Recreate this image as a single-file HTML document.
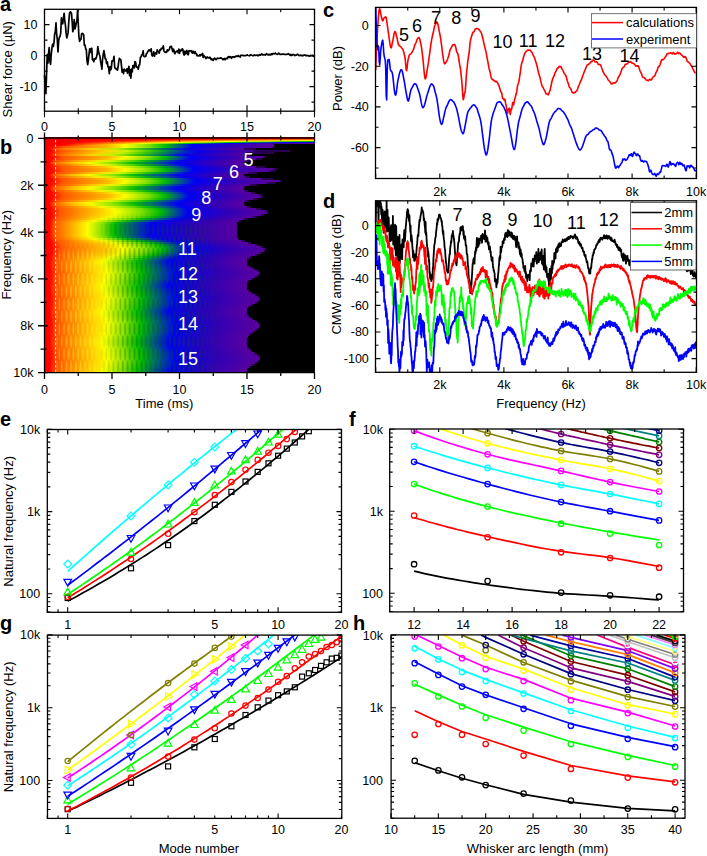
<!DOCTYPE html>
<html><head><meta charset="utf-8"><style>html,body{margin:0;padding:0;background:#fff;overflow:hidden}svg{display:block}text{font-family:"Liberation Sans",sans-serif}</style></head>
<body><svg width="707" height="856" viewBox="0 0 707 856" font-size="12">
<rect width="707" height="856" fill="#fff"/>
<path d="M44.5 117.2v-12M112 117.2v-12M179.5 117.2v-12M247 117.2v-12M314.5 117.2v-12M78.25 114.2v-6M145.75 114.2v-6M213.25 114.2v-6M280.75 114.2v-6M44.5 9.3v5M112 9.3v5M179.5 9.3v5M247 9.3v5M314.5 9.3v5M78.25 9.3v3M145.75 9.3v3M213.25 9.3v3M280.75 9.3v3M44.5 86.6h5M44.5 55.6h5M44.5 24.6h5M44.5 102.1h3M44.5 71.1h3M44.5 40.1h3M314.5 86.6h-5M314.5 55.6h-5M314.5 24.6h-5M314.5 102.1h-3M314.5 71.1h-3M314.5 40.1h-3" fill="none" stroke="#000" stroke-width="1.1"/>
<text x="37.5" y="29.08" font-size="12.5" text-anchor="end">10</text>
<text x="37.5" y="60.08" font-size="12.5" text-anchor="end">0</text>
<text x="37.5" y="91.07" font-size="12.5" text-anchor="end">-10</text>
<text x="44.5" y="131.47" font-size="12.5" text-anchor="middle">0</text>
<text x="112" y="131.47" font-size="12.5" text-anchor="middle">5</text>
<text x="179.5" y="131.47" font-size="12.5" text-anchor="middle">10</text>
<text x="247" y="131.47" font-size="12.5" text-anchor="middle">15</text>
<text x="314.5" y="131.47" font-size="12.5" text-anchor="middle">20</text>
<text x="12" y="69.3" font-size="13" text-anchor="middle" transform="rotate(-90 12 69.3)">Shear force (µN)</text>
<text x="0" y="11" font-size="20" font-weight="bold">a</text>
<path d="M44.5 75.1L45.2 86.3 45.9 93.6 46.5 75.6 47.2 54.5 47.9 63.2 48.5 53.9 49.2 47.6 49.9 61.5 50.6 64.3 51.2 54.6 51.9 48.7 52.6 44.2 53.3 46.5 54.0 42.7 54.6 34.6 55.3 31.7 56.0 22.9 56.6 33.3 57.3 39.4 58.0 51.9 58.7 40.5 59.4 37.1 60.0 36.7 60.7 33.1 61.4 17.8 62.0 22.6 62.7 23.8 63.4 18.0 64.1 13.3 64.8 20.8 65.4 24.8 66.1 32.9 66.8 38.0 67.5 35.2 68.1 32.4 68.8 21.6 69.5 13.1 70.2 11.8 70.8 12.2 71.5 13.4 72.2 22.3 72.8 31.7 73.5 28.7 74.2 19.6 74.9 28.9 75.6 26.4 76.2 23.5 76.9 20.7 77.6 10.3 78.2 22.2 78.9 36.5 79.6 41.5 80.3 39.6 81.0 39.2 81.6 33.9 82.3 33.4 83.0 33.7 83.7 35.2 84.3 45.2 85.0 44.8 85.7 49.0 86.3 49.5 87.0 60.5 87.7 64.6 88.4 59.9 89.1 53.1 89.7 48.8 90.4 52.4 91.1 48.8 91.8 48.3 92.4 59.8 93.1 59.0 93.8 61.7 94.5 59.0 95.1 58.4 95.8 59.0 96.5 56.7 97.2 54.0 97.8 46.5 98.5 51.1 99.2 54.3 99.9 56.0 100.5 60.9 101.2 64.8 101.9 69.1 102.5 59.7 103.2 54.7 103.9 50.7 104.6 54.5 105.2 58.8 105.9 58.8 106.6 63.7 107.3 61.8 108.0 66.8 108.6 67.2 109.3 73.7 110.0 66.5 110.7 69.9 111.3 68.4 112.0 60.9 112.7 61.1 113.4 60.2 114.0 56.4 114.7 67.3 115.4 68.7 116.1 68.3 116.7 69.5 117.4 70.2 118.1 67.0 118.8 61.2 119.4 58.4 120.1 59.5 120.8 59.5 121.5 65.9 122.1 72.2 122.8 69.5 123.5 73.6 124.2 69.1 124.8 70.6 125.5 70.1 126.2 71.2 126.9 68.9 127.5 73.2 128.2 69.7 128.9 66.4 129.6 75.6 130.2 69.5 130.9 78.1 131.6 69.2 132.2 71.9 132.9 65.5 133.6 65.5 134.3 68.0 134.9 61.6 135.6 62.1 136.3 66.6 137.0 67.3 137.7 67.2 138.3 69.2 139.0 65.0 139.7 64.7 140.4 57.3 141.0 57.0 141.7 55.0 142.4 54.6 143.1 50.8 143.7 56.1 144.4 56.6 145.1 56.6 145.8 56.2 146.4 53.7 147.1 53.2 147.8 51.2 148.4 50.9 149.1 49.8 149.8 50.8 150.5 51.2 151.2 48.8 151.8 54.9 152.5 56.1 153.2 54.2 153.8 51.9 154.5 56.2 155.2 53.1 155.9 52.9 156.6 54.1 157.2 49.9 157.9 51.5 158.6 51.5 159.2 53.2 159.9 49.8 160.6 50.2 161.3 48.3 162.0 48.6 162.6 48.2 163.3 45.9 164.0 51.2 164.7 52.0 165.3 52.1 166.0 52.4 166.7 52.1 167.3 49.8 168.0 50.9 168.7 50.3 169.4 49.2 170.1 46.6 170.7 46.7 171.4 46.4 172.1 49.0 172.8 51.7 173.4 49.2 174.1 50.5 174.8 53.7 175.5 52.6 176.1 51.8 176.8 51.3 177.5 50.8 178.2 52.7 178.8 49.1 179.5 53.3 180.2 50.0 180.9 50.8 181.5 50.3 182.2 48.8 182.9 49.6 183.6 54.0 184.2 55.1 184.9 51.2 185.6 53.9 186.2 52.1 186.9 50.5 187.6 54.2 188.3 54.7 189.0 50.7 189.6 50.8 190.3 51.0 191.0 50.6 191.7 52.1 192.3 53.2 193.0 51.1 193.7 52.4 194.4 53.6 195.0 51.5 195.7 53.4 196.4 53.8 197.1 55.8 197.7 55.4 198.4 55.9 199.1 55.8 199.8 54.6 200.4 55.8 201.1 54.6 201.8 54.9 202.5 53.4 203.1 57.4 203.8 55.3 204.5 56.6 205.2 56.9 205.8 58.5 206.5 57.9 207.2 56.9 207.9 57.8 208.5 57.7 209.2 58.1 209.9 57.2 210.6 58.2 211.2 59.7 211.9 58.8 212.6 59.7 213.2 60.4 213.9 59.0 214.6 58.1 215.3 58.9 216.0 59.7 216.6 59.4 217.3 58.1 218.0 58.5 218.7 58.4 219.3 58.3 220.0 58.1 220.7 57.8 221.4 58.2 222.0 58.6 222.7 59.5 223.4 58.8 224.1 59.7 224.7 58.5 225.4 59.5 226.1 58.6 226.8 58.2 227.4 58.7 228.1 56.8 228.8 56.6 229.5 57.4 230.1 56.7 230.8 56.8 231.5 58.3 232.2 56.8 232.8 56.9 233.5 56.7 234.2 57.3 234.9 56.8 235.5 56.7 236.2 55.9 236.9 56.3 237.6 56.4 238.2 55.5 238.9 56.5 239.6 56.3 240.2 57.0 240.9 55.2 241.6 55.4 242.3 55.4 243.0 55.4 243.6 55.6 244.3 55.5 245.0 55.7 245.7 55.7 246.3 55.5 247.0 54.8 247.7 55.2 248.4 55.5 249.0 55.7 249.7 55.7 250.4 54.6 251.1 55.1 251.7 55.3 252.4 55.5 253.1 55.8 253.8 55.3 254.4 54.8 255.1 55.4 255.8 55.3 256.5 55.2 257.1 55.0 257.8 55.8 258.5 55.1 259.1 55.3 259.8 54.5 260.5 55.2 261.2 54.5 261.9 54.0 262.5 54.9 263.2 55.0 263.9 54.6 264.6 54.6 265.2 55.1 265.9 54.4 266.6 53.6 267.2 54.6 267.9 54.6 268.6 54.9 269.3 54.3 269.9 55.0 270.6 54.9 271.3 53.8 272.0 54.7 272.7 53.7 273.3 53.4 274.0 53.9 274.7 53.7 275.4 53.0 276.0 53.9 276.7 54.0 277.4 54.4 278.1 53.8 278.7 53.2 279.4 53.5 280.1 54.4 280.8 54.4 281.4 54.3 282.1 54.0 282.8 54.3 283.4 54.2 284.1 54.2 284.8 54.5 285.5 54.4 286.2 54.3 286.8 54.5 287.5 54.3 288.2 53.7 288.9 54.3 289.5 54.6 290.2 55.3 290.9 54.5 291.6 55.5 292.2 55.3 292.9 54.4 293.6 54.5 294.2 54.9 294.9 55.6 295.6 55.1 296.3 55.2 296.9 54.7 297.6 54.1 298.3 55.0 299.0 55.4 299.7 55.6 300.3 55.2 301.0 55.3 301.7 55.7 302.4 55.3 303.0 55.8 303.7 55.0 304.4 55.1 305.1 55.1 305.7 55.7 306.4 55.4 307.1 55.7 307.8 55.7 308.4 55.7 309.1 56.1 309.8 56.1 310.5 55.3 311.1 55.7 311.8 55.5 312.5 55.2 313.2 56.2 313.8 55.9 314.5 55.5" fill="none" stroke="#000" stroke-width="1.7" stroke-linejoin="round"/>
<rect x="44.5" y="9.3" width="270" height="101.9" fill="none" stroke="#000" stroke-width="1.3"/>
<defs><linearGradient id="s0"><stop offset="0.000" stop-color="#bb0000"/><stop offset="1.000" stop-color="#d80000"/></linearGradient><linearGradient id="s1"><stop offset="0.000" stop-color="#ee0000"/><stop offset="0.478" stop-color="#ff0600"/><stop offset="1.000" stop-color="#ff6a00"/></linearGradient><linearGradient id="s2"><stop offset="0.000" stop-color="#ee0000"/><stop offset="0.271" stop-color="#ff0500"/><stop offset="1.000" stop-color="#fff700"/></linearGradient><linearGradient id="s3"><stop offset="0.000" stop-color="#ef0000"/><stop offset="0.179" stop-color="#ff0600"/><stop offset="0.677" stop-color="#fbfe00"/><stop offset="0.843" stop-color="#81e000"/><stop offset="0.976" stop-color="#00bc03"/><stop offset="1.000" stop-color="#00ac19"/></linearGradient><linearGradient id="s4"><stop offset="0.000" stop-color="#ef0000"/><stop offset="0.127" stop-color="#ff0500"/><stop offset="0.485" stop-color="#fafe00"/><stop offset="0.603" stop-color="#82e100"/><stop offset="0.699" stop-color="#00bb04"/><stop offset="0.858" stop-color="#001fd0"/><stop offset="0.891" stop-color="#0100f4"/><stop offset="1.000" stop-color="#1b00cf"/></linearGradient><linearGradient id="s5"><stop offset="0.000" stop-color="#ef0000"/><stop offset="0.098" stop-color="#ff0600"/><stop offset="0.367" stop-color="#fcfe00"/><stop offset="0.459" stop-color="#7fe000"/><stop offset="0.530" stop-color="#00bd01"/><stop offset="0.651" stop-color="#001fd0"/><stop offset="0.677" stop-color="#0100f4"/><stop offset="0.828" stop-color="#3100b7"/><stop offset="0.939" stop-color="#4d00a3"/><stop offset="1.000" stop-color="#5700a0"/></linearGradient><linearGradient id="s6"><stop offset="0.000" stop-color="#ef0000"/><stop offset="0.076" stop-color="#ff0400"/><stop offset="0.220" stop-color="#ffa700"/><stop offset="0.301" stop-color="#fcfe00"/><stop offset="0.386" stop-color="#7ee000"/><stop offset="0.448" stop-color="#00be00"/><stop offset="0.533" stop-color="#001cd3"/><stop offset="0.548" stop-color="#0000f5"/><stop offset="0.696" stop-color="#3100b7"/><stop offset="0.803" stop-color="#4f00a2"/><stop offset="0.847" stop-color="#5800a0"/><stop offset="0.851" stop-color="#000000"/><stop offset="1.000" stop-color="#000000"/></linearGradient><linearGradient id="s7"><stop offset="0.000" stop-color="#ef0000"/><stop offset="0.061" stop-color="#ff0300"/><stop offset="0.153" stop-color="#ff8300"/><stop offset="0.234" stop-color="#ffb600"/><stop offset="0.301" stop-color="#fcfe00"/><stop offset="0.386" stop-color="#7ee000"/><stop offset="0.448" stop-color="#00be00"/><stop offset="0.533" stop-color="#001cd3"/><stop offset="0.548" stop-color="#0000f5"/><stop offset="0.696" stop-color="#3100b7"/><stop offset="0.803" stop-color="#4f00a2"/><stop offset="0.847" stop-color="#5800a0"/><stop offset="0.851" stop-color="#000000"/><stop offset="1.000" stop-color="#000000"/></linearGradient><linearGradient id="s8"><stop offset="0.000" stop-color="#f70000"/><stop offset="0.028" stop-color="#ff0500"/><stop offset="0.072" stop-color="#ff5700"/><stop offset="0.234" stop-color="#ffb600"/><stop offset="0.301" stop-color="#fcfe00"/><stop offset="0.386" stop-color="#7ee000"/><stop offset="0.448" stop-color="#00be00"/><stop offset="0.533" stop-color="#001cd3"/><stop offset="0.548" stop-color="#0000f5"/><stop offset="0.696" stop-color="#3100b7"/><stop offset="0.803" stop-color="#4f00a2"/><stop offset="0.847" stop-color="#5800a0"/><stop offset="0.851" stop-color="#000000"/><stop offset="1.000" stop-color="#000000"/></linearGradient><linearGradient id="s9"><stop offset="0.000" stop-color="#f70000"/><stop offset="0.028" stop-color="#ff0500"/><stop offset="0.072" stop-color="#ff5700"/><stop offset="0.234" stop-color="#ffb600"/><stop offset="0.301" stop-color="#fcfe00"/><stop offset="0.386" stop-color="#7ee000"/><stop offset="0.448" stop-color="#00be00"/><stop offset="0.533" stop-color="#001cd3"/><stop offset="0.548" stop-color="#0000f5"/><stop offset="0.696" stop-color="#3200b7"/><stop offset="0.803" stop-color="#4f00a2"/><stop offset="0.843" stop-color="#5700a0"/><stop offset="0.847" stop-color="#000000"/><stop offset="1.000" stop-color="#000000"/></linearGradient><linearGradient id="s10"><stop offset="0.000" stop-color="#f70000"/><stop offset="0.020" stop-color="#fe0000"/><stop offset="0.039" stop-color="#ff3f00"/><stop offset="0.072" stop-color="#ff7700"/><stop offset="0.175" stop-color="#f9ce00"/><stop offset="0.268" stop-color="#b7ed00"/><stop offset="0.334" stop-color="#51d103"/><stop offset="0.423" stop-color="#00844e"/><stop offset="0.496" stop-color="#011fce"/><stop offset="0.537" stop-color="#0900e8"/><stop offset="0.673" stop-color="#3f00ab"/><stop offset="0.736" stop-color="#5200a2"/><stop offset="0.740" stop-color="#270051"/><stop offset="0.780" stop-color="#2c0050"/><stop offset="0.784" stop-color="#000000"/><stop offset="1.000" stop-color="#000000"/></linearGradient><linearGradient id="s11"><stop offset="0.000" stop-color="#f70000"/><stop offset="0.024" stop-color="#ff0200"/><stop offset="0.057" stop-color="#ff4c00"/><stop offset="0.109" stop-color="#ff7700"/><stop offset="0.242" stop-color="#fadd00"/><stop offset="0.308" stop-color="#c6f200"/><stop offset="0.397" stop-color="#34c706"/><stop offset="0.452" stop-color="#00913e"/><stop offset="0.533" stop-color="#011bd3"/><stop offset="0.570" stop-color="#0900e8"/><stop offset="0.718" stop-color="#3d00ae"/><stop offset="0.769" stop-color="#4b00a6"/><stop offset="0.773" stop-color="#200055"/><stop offset="0.906" stop-color="#2c0050"/><stop offset="0.910" stop-color="#000000"/><stop offset="1.000" stop-color="#000000"/></linearGradient><linearGradient id="s12"><stop offset="0.000" stop-color="#f70000"/><stop offset="0.024" stop-color="#ff0500"/><stop offset="0.050" stop-color="#ff4800"/><stop offset="0.083" stop-color="#ff6f00"/><stop offset="0.208" stop-color="#fad200"/><stop offset="0.290" stop-color="#c0f000"/><stop offset="0.367" stop-color="#46cd06"/><stop offset="0.441" stop-color="#008948"/><stop offset="0.515" stop-color="#0123c9"/><stop offset="0.566" stop-color="#0c00e3"/><stop offset="0.699" stop-color="#3f00ad"/><stop offset="0.747" stop-color="#4e00a3"/><stop offset="0.751" stop-color="#230053"/><stop offset="0.847" stop-color="#2c0050"/><stop offset="0.851" stop-color="#000000"/><stop offset="1.000" stop-color="#000000"/></linearGradient><linearGradient id="s13"><stop offset="0.000" stop-color="#f70000"/><stop offset="0.020" stop-color="#fe0000"/><stop offset="0.039" stop-color="#ff4200"/><stop offset="0.068" stop-color="#ff7500"/><stop offset="0.175" stop-color="#f9d500"/><stop offset="0.253" stop-color="#c3f000"/><stop offset="0.338" stop-color="#3fca07"/><stop offset="0.408" stop-color="#008c44"/><stop offset="0.493" stop-color="#0017d8"/><stop offset="0.526" stop-color="#0800ea"/><stop offset="0.655" stop-color="#3b00ae"/><stop offset="0.736" stop-color="#5500a1"/><stop offset="0.740" stop-color="#290051"/><stop offset="0.758" stop-color="#2c0050"/><stop offset="0.762" stop-color="#000000"/><stop offset="1.000" stop-color="#000000"/></linearGradient><linearGradient id="s14"><stop offset="0.000" stop-color="#f70000"/><stop offset="0.028" stop-color="#ff0500"/><stop offset="0.072" stop-color="#ff5700"/><stop offset="0.234" stop-color="#ffb700"/><stop offset="0.301" stop-color="#fbfe00"/><stop offset="0.382" stop-color="#84e100"/><stop offset="0.448" stop-color="#00bc02"/><stop offset="0.526" stop-color="#001dd1"/><stop offset="0.541" stop-color="#0000f5"/><stop offset="0.681" stop-color="#3200b6"/><stop offset="0.784" stop-color="#5100a2"/><stop offset="0.810" stop-color="#5700a0"/><stop offset="0.814" stop-color="#2b0050"/><stop offset="0.817" stop-color="#2c0050"/><stop offset="0.821" stop-color="#000000"/><stop offset="1.000" stop-color="#000000"/></linearGradient><linearGradient id="s15"><stop offset="0.000" stop-color="#f70000"/><stop offset="0.028" stop-color="#ff0700"/><stop offset="0.068" stop-color="#ff5700"/><stop offset="0.223" stop-color="#ffb900"/><stop offset="0.282" stop-color="#faf700"/><stop offset="0.327" stop-color="#c5f100"/><stop offset="0.382" stop-color="#6bdb00"/><stop offset="0.430" stop-color="#0fbf04"/><stop offset="0.448" stop-color="#00a720"/><stop offset="0.530" stop-color="#000be7"/><stop offset="0.544" stop-color="#0400f0"/><stop offset="0.673" stop-color="#3500b3"/><stop offset="0.777" stop-color="#5400a1"/><stop offset="0.780" stop-color="#290051"/><stop offset="0.803" stop-color="#2c0050"/><stop offset="0.806" stop-color="#000000"/><stop offset="1.000" stop-color="#000000"/></linearGradient><linearGradient id="s16"><stop offset="0.000" stop-color="#f70000"/><stop offset="0.020" stop-color="#fe0000"/><stop offset="0.046" stop-color="#ff4e00"/><stop offset="0.109" stop-color="#ff9300"/><stop offset="0.201" stop-color="#f9ea00"/><stop offset="0.245" stop-color="#d6f500"/><stop offset="0.327" stop-color="#58d500"/><stop offset="0.360" stop-color="#20c206"/><stop offset="0.397" stop-color="#009f2b"/><stop offset="0.500" stop-color="#000de5"/><stop offset="0.522" stop-color="#0500ed"/><stop offset="0.640" stop-color="#3500b3"/><stop offset="0.740" stop-color="#5600a1"/><stop offset="0.744" stop-color="#2a0050"/><stop offset="0.755" stop-color="#2c0050"/><stop offset="0.758" stop-color="#000000"/><stop offset="1.000" stop-color="#000000"/></linearGradient><linearGradient id="s17"><stop offset="0.000" stop-color="#f70000"/><stop offset="0.020" stop-color="#ff0100"/><stop offset="0.035" stop-color="#ff5700"/><stop offset="0.094" stop-color="#ffb500"/><stop offset="0.168" stop-color="#f9fe00"/><stop offset="0.256" stop-color="#81e000"/><stop offset="0.330" stop-color="#00ba05"/><stop offset="0.463" stop-color="#001fcf"/><stop offset="0.493" stop-color="#0100f3"/><stop offset="0.618" stop-color="#3100b7"/><stop offset="0.714" stop-color="#5100a2"/><stop offset="0.736" stop-color="#5800a0"/><stop offset="0.740" stop-color="#000000"/><stop offset="1.000" stop-color="#000000"/></linearGradient><linearGradient id="s18"><stop offset="0.000" stop-color="#f70000"/><stop offset="0.020" stop-color="#fe0000"/><stop offset="0.046" stop-color="#ff5300"/><stop offset="0.197" stop-color="#f9ee00"/><stop offset="0.238" stop-color="#d6f500"/><stop offset="0.312" stop-color="#66d900"/><stop offset="0.356" stop-color="#19c106"/><stop offset="0.389" stop-color="#00a029"/><stop offset="0.504" stop-color="#000ae8"/><stop offset="0.526" stop-color="#0600ec"/><stop offset="0.644" stop-color="#3600b2"/><stop offset="0.740" stop-color="#5500a1"/><stop offset="0.744" stop-color="#2a0050"/><stop offset="0.755" stop-color="#2c0050"/><stop offset="0.758" stop-color="#000000"/><stop offset="1.000" stop-color="#000000"/></linearGradient><linearGradient id="s19"><stop offset="0.000" stop-color="#f70000"/><stop offset="0.024" stop-color="#ff0100"/><stop offset="0.065" stop-color="#ff5600"/><stop offset="0.212" stop-color="#ffba00"/><stop offset="0.268" stop-color="#faf400"/><stop offset="0.301" stop-color="#d9f600"/><stop offset="0.367" stop-color="#73dd00"/><stop offset="0.419" stop-color="#12bf05"/><stop offset="0.445" stop-color="#009f2a"/><stop offset="0.533" stop-color="#000de6"/><stop offset="0.552" stop-color="#0400ef"/><stop offset="0.677" stop-color="#3600b3"/><stop offset="0.780" stop-color="#5400a1"/><stop offset="0.784" stop-color="#290051"/><stop offset="0.814" stop-color="#2c0050"/><stop offset="0.817" stop-color="#000000"/><stop offset="1.000" stop-color="#000000"/></linearGradient><linearGradient id="s20"><stop offset="0.000" stop-color="#f70000"/><stop offset="0.028" stop-color="#ff0500"/><stop offset="0.072" stop-color="#ff5700"/><stop offset="0.231" stop-color="#ffb300"/><stop offset="0.301" stop-color="#fbfe00"/><stop offset="0.382" stop-color="#83e100"/><stop offset="0.448" stop-color="#00bc03"/><stop offset="0.533" stop-color="#0022cc"/><stop offset="0.552" stop-color="#0001f4"/><stop offset="0.703" stop-color="#3300b5"/><stop offset="0.814" stop-color="#5100a2"/><stop offset="0.843" stop-color="#5600a0"/><stop offset="0.847" stop-color="#2b0050"/><stop offset="0.858" stop-color="#2c0050"/><stop offset="0.862" stop-color="#000000"/><stop offset="1.000" stop-color="#000000"/></linearGradient><linearGradient id="s21"><stop offset="0.000" stop-color="#f70000"/><stop offset="0.028" stop-color="#ff0600"/><stop offset="0.072" stop-color="#ff5700"/><stop offset="0.231" stop-color="#ffb500"/><stop offset="0.297" stop-color="#fcfd00"/><stop offset="0.382" stop-color="#7fe000"/><stop offset="0.445" stop-color="#04bd03"/><stop offset="0.548" stop-color="#0005ef"/><stop offset="0.581" stop-color="#0b00e6"/><stop offset="0.710" stop-color="#3800b1"/><stop offset="0.828" stop-color="#5500a1"/><stop offset="0.832" stop-color="#2a0051"/><stop offset="0.854" stop-color="#2c0050"/><stop offset="0.858" stop-color="#000000"/><stop offset="1.000" stop-color="#000000"/></linearGradient><linearGradient id="s22"><stop offset="0.000" stop-color="#f70000"/><stop offset="0.024" stop-color="#ff0300"/><stop offset="0.054" stop-color="#ff5000"/><stop offset="0.227" stop-color="#fae800"/><stop offset="0.275" stop-color="#d3f500"/><stop offset="0.356" stop-color="#51d400"/><stop offset="0.386" stop-color="#20c108"/><stop offset="0.423" stop-color="#009c2f"/><stop offset="0.518" stop-color="#010fe2"/><stop offset="0.541" stop-color="#0600ed"/><stop offset="0.666" stop-color="#3900b0"/><stop offset="0.751" stop-color="#5300a1"/><stop offset="0.755" stop-color="#280051"/><stop offset="0.784" stop-color="#2c0050"/><stop offset="0.788" stop-color="#000000"/><stop offset="1.000" stop-color="#000000"/></linearGradient><linearGradient id="s23"><stop offset="0.000" stop-color="#f70000"/><stop offset="0.020" stop-color="#ff0100"/><stop offset="0.035" stop-color="#ff5200"/><stop offset="0.094" stop-color="#ffb100"/><stop offset="0.168" stop-color="#fafa00"/><stop offset="0.260" stop-color="#82e100"/><stop offset="0.330" stop-color="#07bc05"/><stop offset="0.423" stop-color="#005292"/><stop offset="0.493" stop-color="#0102f2"/><stop offset="0.633" stop-color="#3600b2"/><stop offset="0.729" stop-color="#5500a1"/><stop offset="0.736" stop-color="#5700a0"/><stop offset="0.740" stop-color="#000000"/><stop offset="1.000" stop-color="#000000"/></linearGradient><linearGradient id="s24"><stop offset="0.000" stop-color="#f70000"/><stop offset="0.020" stop-color="#ff0000"/><stop offset="0.042" stop-color="#ff4b00"/><stop offset="0.072" stop-color="#ff7400"/><stop offset="0.190" stop-color="#fae900"/><stop offset="0.238" stop-color="#d5f500"/><stop offset="0.315" stop-color="#5dd700"/><stop offset="0.352" stop-color="#1fc207"/><stop offset="0.393" stop-color="#009b30"/><stop offset="0.500" stop-color="#000fe2"/><stop offset="0.526" stop-color="#0600ec"/><stop offset="0.648" stop-color="#3800b1"/><stop offset="0.740" stop-color="#5500a1"/><stop offset="0.744" stop-color="#2a0051"/><stop offset="0.758" stop-color="#2c0050"/><stop offset="0.762" stop-color="#000000"/><stop offset="1.000" stop-color="#000000"/></linearGradient><linearGradient id="s25"><stop offset="0.000" stop-color="#f70000"/><stop offset="0.024" stop-color="#ff0000"/><stop offset="0.068" stop-color="#ff5700"/><stop offset="0.220" stop-color="#ffb800"/><stop offset="0.279" stop-color="#f9f500"/><stop offset="0.308" stop-color="#dbf600"/><stop offset="0.375" stop-color="#75dd00"/><stop offset="0.426" stop-color="#11c003"/><stop offset="0.452" stop-color="#00a02a"/><stop offset="0.544" stop-color="#0009ea"/><stop offset="0.563" stop-color="#0500ed"/><stop offset="0.696" stop-color="#3800b1"/><stop offset="0.799" stop-color="#5400a1"/><stop offset="0.803" stop-color="#280051"/><stop offset="0.843" stop-color="#2c0050"/><stop offset="0.847" stop-color="#000000"/><stop offset="1.000" stop-color="#000000"/></linearGradient><linearGradient id="s26"><stop offset="0.000" stop-color="#f70000"/><stop offset="0.028" stop-color="#ff0500"/><stop offset="0.072" stop-color="#ff5700"/><stop offset="0.234" stop-color="#ffb600"/><stop offset="0.301" stop-color="#fcfe00"/><stop offset="0.382" stop-color="#85e200"/><stop offset="0.448" stop-color="#00be00"/><stop offset="0.541" stop-color="#001dd2"/><stop offset="0.559" stop-color="#0100f4"/><stop offset="0.710" stop-color="#3200b6"/><stop offset="0.817" stop-color="#4e00a3"/><stop offset="0.869" stop-color="#5700a0"/><stop offset="0.876" stop-color="#000000"/><stop offset="1.000" stop-color="#000000"/></linearGradient><linearGradient id="s27"><stop offset="0.000" stop-color="#f70000"/><stop offset="0.028" stop-color="#ff0600"/><stop offset="0.068" stop-color="#ff5600"/><stop offset="0.227" stop-color="#ffb700"/><stop offset="0.293" stop-color="#f9fc00"/><stop offset="0.375" stop-color="#85e100"/><stop offset="0.441" stop-color="#05bb06"/><stop offset="0.552" stop-color="#0004f0"/><stop offset="0.725" stop-color="#3e00ac"/><stop offset="0.821" stop-color="#5500a1"/><stop offset="0.825" stop-color="#290051"/><stop offset="0.854" stop-color="#2c0050"/><stop offset="0.858" stop-color="#000000"/><stop offset="1.000" stop-color="#000000"/></linearGradient><linearGradient id="s28"><stop offset="0.000" stop-color="#f70000"/><stop offset="0.024" stop-color="#ff0300"/><stop offset="0.054" stop-color="#ff5000"/><stop offset="0.208" stop-color="#ffda00"/><stop offset="0.242" stop-color="#f3f200"/><stop offset="0.275" stop-color="#d3f400"/><stop offset="0.345" stop-color="#65d900"/><stop offset="0.389" stop-color="#18bf08"/><stop offset="0.419" stop-color="#00a029"/><stop offset="0.522" stop-color="#000ce6"/><stop offset="0.544" stop-color="#0600ec"/><stop offset="0.666" stop-color="#3800b1"/><stop offset="0.758" stop-color="#5500a1"/><stop offset="0.762" stop-color="#290051"/><stop offset="0.784" stop-color="#2c0050"/><stop offset="0.788" stop-color="#000000"/><stop offset="1.000" stop-color="#000000"/></linearGradient><linearGradient id="s29"><stop offset="0.000" stop-color="#f70000"/><stop offset="0.020" stop-color="#ff0100"/><stop offset="0.039" stop-color="#ff5600"/><stop offset="0.109" stop-color="#ffb800"/><stop offset="0.172" stop-color="#faf500"/><stop offset="0.208" stop-color="#d4f500"/><stop offset="0.275" stop-color="#74dd00"/><stop offset="0.334" stop-color="#0dbe05"/><stop offset="0.360" stop-color="#00a424"/><stop offset="0.489" stop-color="#0009eb"/><stop offset="0.511" stop-color="#0600ed"/><stop offset="0.629" stop-color="#3400b4"/><stop offset="0.725" stop-color="#5400a1"/><stop offset="0.736" stop-color="#5700a0"/><stop offset="0.744" stop-color="#000000"/><stop offset="1.000" stop-color="#000000"/></linearGradient><linearGradient id="s30"><stop offset="0.000" stop-color="#f70000"/><stop offset="0.020" stop-color="#ff0100"/><stop offset="0.035" stop-color="#ff5000"/><stop offset="0.098" stop-color="#ffb300"/><stop offset="0.168" stop-color="#fbf900"/><stop offset="0.260" stop-color="#84e100"/><stop offset="0.330" stop-color="#08bd04"/><stop offset="0.371" stop-color="#00903f"/><stop offset="0.489" stop-color="#0003f1"/><stop offset="0.644" stop-color="#3b00af"/><stop offset="0.736" stop-color="#5800a0"/><stop offset="0.740" stop-color="#000000"/><stop offset="1.000" stop-color="#000000"/></linearGradient><linearGradient id="s31"><stop offset="0.000" stop-color="#f70000"/><stop offset="0.024" stop-color="#ff0600"/><stop offset="0.050" stop-color="#ff5400"/><stop offset="0.212" stop-color="#faf100"/><stop offset="0.249" stop-color="#d8f600"/><stop offset="0.319" stop-color="#70dc00"/><stop offset="0.371" stop-color="#14be07"/><stop offset="0.400" stop-color="#009e2b"/><stop offset="0.504" stop-color="#0008eb"/><stop offset="0.522" stop-color="#0500ed"/><stop offset="0.640" stop-color="#3500b3"/><stop offset="0.736" stop-color="#5500a1"/><stop offset="0.740" stop-color="#5600a1"/><stop offset="0.744" stop-color="#2b0050"/><stop offset="0.751" stop-color="#2c0050"/><stop offset="0.755" stop-color="#000000"/><stop offset="1.000" stop-color="#000000"/></linearGradient><linearGradient id="s32"><stop offset="0.000" stop-color="#f70000"/><stop offset="0.024" stop-color="#ff0000"/><stop offset="0.065" stop-color="#ff5600"/><stop offset="0.212" stop-color="#ffb900"/><stop offset="0.271" stop-color="#faf600"/><stop offset="0.308" stop-color="#d1f400"/><stop offset="0.367" stop-color="#75dd00"/><stop offset="0.423" stop-color="#0dbd06"/><stop offset="0.441" stop-color="#00a424"/><stop offset="0.522" stop-color="#000be8"/><stop offset="0.537" stop-color="#0400f0"/><stop offset="0.659" stop-color="#3400b4"/><stop offset="0.758" stop-color="#5400a1"/><stop offset="0.762" stop-color="#5500a1"/><stop offset="0.766" stop-color="#2a0050"/><stop offset="0.777" stop-color="#2c0050"/><stop offset="0.780" stop-color="#000000"/><stop offset="1.000" stop-color="#000000"/></linearGradient><linearGradient id="s33"><stop offset="0.000" stop-color="#f70000"/><stop offset="0.028" stop-color="#ff0600"/><stop offset="0.072" stop-color="#ff5700"/><stop offset="0.231" stop-color="#ffb400"/><stop offset="0.301" stop-color="#fafe00"/><stop offset="0.382" stop-color="#82e100"/><stop offset="0.448" stop-color="#00ba05"/><stop offset="0.522" stop-color="#001cd3"/><stop offset="0.537" stop-color="#0100f4"/><stop offset="0.673" stop-color="#3300b5"/><stop offset="0.777" stop-color="#5300a1"/><stop offset="0.792" stop-color="#5600a0"/><stop offset="0.795" stop-color="#2b0050"/><stop offset="0.803" stop-color="#2c0050"/><stop offset="0.806" stop-color="#000000"/><stop offset="1.000" stop-color="#000000"/></linearGradient><linearGradient id="s34"><stop offset="0.000" stop-color="#f70000"/><stop offset="0.028" stop-color="#ff0600"/><stop offset="0.072" stop-color="#ff5700"/><stop offset="0.231" stop-color="#ffb600"/><stop offset="0.297" stop-color="#fdfe00"/><stop offset="0.382" stop-color="#81e000"/><stop offset="0.448" stop-color="#00ba05"/><stop offset="0.522" stop-color="#001bd4"/><stop offset="0.537" stop-color="#0100f4"/><stop offset="0.673" stop-color="#3100b7"/><stop offset="0.777" stop-color="#5100a2"/><stop offset="0.799" stop-color="#5700a0"/><stop offset="0.803" stop-color="#2b0050"/><stop offset="0.806" stop-color="#2c0050"/><stop offset="0.810" stop-color="#000000"/><stop offset="1.000" stop-color="#000000"/></linearGradient><linearGradient id="s35"><stop offset="0.000" stop-color="#f70000"/><stop offset="0.024" stop-color="#ff0000"/><stop offset="0.065" stop-color="#ff5600"/><stop offset="0.212" stop-color="#ffb900"/><stop offset="0.275" stop-color="#faf800"/><stop offset="0.319" stop-color="#c5f100"/><stop offset="0.375" stop-color="#6edb00"/><stop offset="0.426" stop-color="#0dbe04"/><stop offset="0.445" stop-color="#00a423"/><stop offset="0.522" stop-color="#000ce6"/><stop offset="0.533" stop-color="#0200f2"/><stop offset="0.662" stop-color="#3400b5"/><stop offset="0.769" stop-color="#5500a1"/><stop offset="0.773" stop-color="#2a0051"/><stop offset="0.788" stop-color="#2c0050"/><stop offset="0.792" stop-color="#000000"/><stop offset="1.000" stop-color="#000000"/></linearGradient><linearGradient id="s36"><stop offset="0.000" stop-color="#f70000"/><stop offset="0.024" stop-color="#ff0600"/><stop offset="0.046" stop-color="#ff4e00"/><stop offset="0.142" stop-color="#ffaf00"/><stop offset="0.208" stop-color="#faef00"/><stop offset="0.249" stop-color="#d7f500"/><stop offset="0.323" stop-color="#68da00"/><stop offset="0.367" stop-color="#1ac205"/><stop offset="0.400" stop-color="#00a029"/><stop offset="0.504" stop-color="#0009ea"/><stop offset="0.522" stop-color="#0600ed"/><stop offset="0.640" stop-color="#3500b4"/><stop offset="0.740" stop-color="#5600a1"/><stop offset="0.744" stop-color="#2a0050"/><stop offset="0.755" stop-color="#2c0050"/><stop offset="0.758" stop-color="#000000"/><stop offset="1.000" stop-color="#000000"/></linearGradient><linearGradient id="s37"><stop offset="0.000" stop-color="#f70000"/><stop offset="0.020" stop-color="#ff0100"/><stop offset="0.035" stop-color="#ff5400"/><stop offset="0.094" stop-color="#ffb300"/><stop offset="0.168" stop-color="#fafc00"/><stop offset="0.256" stop-color="#86e200"/><stop offset="0.330" stop-color="#04bb05"/><stop offset="0.489" stop-color="#0002f2"/><stop offset="0.633" stop-color="#3700b2"/><stop offset="0.732" stop-color="#5700a0"/><stop offset="0.736" stop-color="#5800a0"/><stop offset="0.740" stop-color="#000000"/><stop offset="1.000" stop-color="#000000"/></linearGradient><linearGradient id="s38"><stop offset="0.000" stop-color="#f70000"/><stop offset="0.020" stop-color="#ff0000"/><stop offset="0.039" stop-color="#ff5800"/><stop offset="0.113" stop-color="#ffbd00"/><stop offset="0.175" stop-color="#f9f900"/><stop offset="0.268" stop-color="#82e100"/><stop offset="0.338" stop-color="#09bc06"/><stop offset="0.367" stop-color="#009c2f"/><stop offset="0.489" stop-color="#0007ed"/><stop offset="0.511" stop-color="#0700ec"/><stop offset="0.629" stop-color="#3400b4"/><stop offset="0.725" stop-color="#5400a1"/><stop offset="0.736" stop-color="#5700a0"/><stop offset="0.744" stop-color="#000000"/><stop offset="1.000" stop-color="#000000"/></linearGradient><linearGradient id="s39"><stop offset="0.000" stop-color="#f70000"/><stop offset="0.024" stop-color="#ff0500"/><stop offset="0.050" stop-color="#ff5600"/><stop offset="0.216" stop-color="#faf600"/><stop offset="0.256" stop-color="#d0f400"/><stop offset="0.323" stop-color="#70dc00"/><stop offset="0.378" stop-color="#10be06"/><stop offset="0.404" stop-color="#00a128"/><stop offset="0.507" stop-color="#0007ec"/><stop offset="0.530" stop-color="#0700eb"/><stop offset="0.648" stop-color="#3600b3"/><stop offset="0.747" stop-color="#5500a1"/><stop offset="0.751" stop-color="#2a0050"/><stop offset="0.762" stop-color="#2c0050"/><stop offset="0.766" stop-color="#000000"/><stop offset="1.000" stop-color="#000000"/></linearGradient><linearGradient id="s40"><stop offset="0.000" stop-color="#f70000"/><stop offset="0.024" stop-color="#ff0000"/><stop offset="0.057" stop-color="#ff5600"/><stop offset="0.201" stop-color="#ffca00"/><stop offset="0.256" stop-color="#fbfd00"/><stop offset="0.349" stop-color="#81e000"/><stop offset="0.419" stop-color="#06bc05"/><stop offset="0.445" stop-color="#00923c"/><stop offset="0.526" stop-color="#0002f2"/><stop offset="0.677" stop-color="#3700b2"/><stop offset="0.780" stop-color="#5500a1"/><stop offset="0.784" stop-color="#2a0051"/><stop offset="0.799" stop-color="#2c0050"/><stop offset="0.803" stop-color="#000000"/><stop offset="1.000" stop-color="#000000"/></linearGradient><linearGradient id="s41"><stop offset="0.000" stop-color="#f70000"/><stop offset="0.024" stop-color="#ff0000"/><stop offset="0.061" stop-color="#ff5800"/><stop offset="0.208" stop-color="#ffcd00"/><stop offset="0.264" stop-color="#fbfe00"/><stop offset="0.356" stop-color="#82e100"/><stop offset="0.430" stop-color="#00bd02"/><stop offset="0.511" stop-color="#0022cc"/><stop offset="0.530" stop-color="#0000f5"/><stop offset="0.681" stop-color="#3200b6"/><stop offset="0.795" stop-color="#5200a2"/><stop offset="0.814" stop-color="#5600a0"/><stop offset="0.817" stop-color="#2b0050"/><stop offset="0.825" stop-color="#2c0050"/><stop offset="0.828" stop-color="#000000"/><stop offset="1.000" stop-color="#000000"/></linearGradient><linearGradient id="s42"><stop offset="0.000" stop-color="#f70000"/><stop offset="0.024" stop-color="#ff0000"/><stop offset="0.057" stop-color="#ff5500"/><stop offset="0.212" stop-color="#ffd300"/><stop offset="0.264" stop-color="#f9fe00"/><stop offset="0.356" stop-color="#80e000"/><stop offset="0.430" stop-color="#00bb04"/><stop offset="0.511" stop-color="#0020ce"/><stop offset="0.530" stop-color="#0000f4"/><stop offset="0.681" stop-color="#3100b7"/><stop offset="0.795" stop-color="#5100a2"/><stop offset="0.821" stop-color="#5700a0"/><stop offset="0.828" stop-color="#000000"/><stop offset="1.000" stop-color="#000000"/></linearGradient><linearGradient id="s43"><stop offset="0.000" stop-color="#f70000"/><stop offset="0.024" stop-color="#ff0000"/><stop offset="0.057" stop-color="#ff5600"/><stop offset="0.212" stop-color="#ffd600"/><stop offset="0.260" stop-color="#f9fe00"/><stop offset="0.352" stop-color="#80e000"/><stop offset="0.426" stop-color="#00bb05"/><stop offset="0.511" stop-color="#001dd2"/><stop offset="0.526" stop-color="#0001f3"/><stop offset="0.681" stop-color="#3500b4"/><stop offset="0.795" stop-color="#5500a1"/><stop offset="0.799" stop-color="#5600a1"/><stop offset="0.803" stop-color="#2b0050"/><stop offset="0.810" stop-color="#2c0050"/><stop offset="0.814" stop-color="#000000"/><stop offset="1.000" stop-color="#000000"/></linearGradient><linearGradient id="s44"><stop offset="0.000" stop-color="#f70000"/><stop offset="0.024" stop-color="#ff0000"/><stop offset="0.054" stop-color="#ff5500"/><stop offset="0.245" stop-color="#fafd00"/><stop offset="0.338" stop-color="#7ee000"/><stop offset="0.404" stop-color="#09bd05"/><stop offset="0.423" stop-color="#00a424"/><stop offset="0.511" stop-color="#000ae9"/><stop offset="0.526" stop-color="#0300f0"/><stop offset="0.659" stop-color="#3500b4"/><stop offset="0.769" stop-color="#5600a1"/><stop offset="0.773" stop-color="#2a0050"/><stop offset="0.784" stop-color="#2c0050"/><stop offset="0.788" stop-color="#000000"/><stop offset="1.000" stop-color="#000000"/></linearGradient><linearGradient id="s45"><stop offset="0.000" stop-color="#f70000"/><stop offset="0.024" stop-color="#ff0500"/><stop offset="0.050" stop-color="#ff5800"/><stop offset="0.216" stop-color="#f9fa00"/><stop offset="0.301" stop-color="#81e100"/><stop offset="0.360" stop-color="#13be07"/><stop offset="0.386" stop-color="#00a029"/><stop offset="0.478" stop-color="#0010e2"/><stop offset="0.504" stop-color="#0600ec"/><stop offset="0.633" stop-color="#3600b3"/><stop offset="0.736" stop-color="#5500a1"/><stop offset="0.740" stop-color="#2a0050"/><stop offset="0.751" stop-color="#2c0050"/><stop offset="0.755" stop-color="#000000"/><stop offset="1.000" stop-color="#000000"/></linearGradient><linearGradient id="s46"><stop offset="0.000" stop-color="#f70000"/><stop offset="0.020" stop-color="#ff0000"/><stop offset="0.042" stop-color="#ff5600"/><stop offset="0.183" stop-color="#f9f900"/><stop offset="0.245" stop-color="#92e500"/><stop offset="0.297" stop-color="#1ec403"/><stop offset="0.330" stop-color="#009f2b"/><stop offset="0.426" stop-color="#0013de"/><stop offset="0.456" stop-color="#0600ed"/><stop offset="0.603" stop-color="#3600b2"/><stop offset="0.718" stop-color="#5700a0"/><stop offset="0.721" stop-color="#2b0050"/><stop offset="0.725" stop-color="#2c0050"/><stop offset="0.729" stop-color="#000000"/><stop offset="1.000" stop-color="#000000"/></linearGradient><linearGradient id="s47"><stop offset="0.000" stop-color="#f70000"/><stop offset="0.020" stop-color="#ff0100"/><stop offset="0.039" stop-color="#ff5600"/><stop offset="0.164" stop-color="#fafd00"/><stop offset="0.220" stop-color="#83e100"/><stop offset="0.264" stop-color="#07bd04"/><stop offset="0.312" stop-color="#007860"/><stop offset="0.393" stop-color="#0103f1"/><stop offset="0.596" stop-color="#3a00af"/><stop offset="0.710" stop-color="#5700a0"/><stop offset="0.714" stop-color="#000000"/><stop offset="1.000" stop-color="#000000"/></linearGradient><linearGradient id="s48"><stop offset="0.000" stop-color="#f70000"/><stop offset="0.020" stop-color="#ff0200"/><stop offset="0.039" stop-color="#ff5700"/><stop offset="0.161" stop-color="#fdfe00"/><stop offset="0.216" stop-color="#82e100"/><stop offset="0.260" stop-color="#00bc02"/><stop offset="0.367" stop-color="#001fcf"/><stop offset="0.389" stop-color="#0000f5"/><stop offset="0.566" stop-color="#3200b6"/><stop offset="0.703" stop-color="#5600a1"/><stop offset="0.710" stop-color="#5800a0"/><stop offset="0.714" stop-color="#000000"/><stop offset="1.000" stop-color="#000000"/></linearGradient><linearGradient id="s49"><stop offset="0.000" stop-color="#f70000"/><stop offset="0.020" stop-color="#ff0200"/><stop offset="0.039" stop-color="#ff5700"/><stop offset="0.161" stop-color="#fdfe00"/><stop offset="0.216" stop-color="#82e100"/><stop offset="0.260" stop-color="#00bc02"/><stop offset="0.367" stop-color="#001fcf"/><stop offset="0.389" stop-color="#0000f5"/><stop offset="0.566" stop-color="#3200b6"/><stop offset="0.703" stop-color="#5600a1"/><stop offset="0.710" stop-color="#5800a0"/><stop offset="0.714" stop-color="#000000"/><stop offset="1.000" stop-color="#000000"/></linearGradient><linearGradient id="s50"><stop offset="0.000" stop-color="#f70000"/><stop offset="0.020" stop-color="#ff0200"/><stop offset="0.039" stop-color="#ff5700"/><stop offset="0.161" stop-color="#fdfe00"/><stop offset="0.216" stop-color="#82e100"/><stop offset="0.260" stop-color="#00bc02"/><stop offset="0.367" stop-color="#001fcf"/><stop offset="0.389" stop-color="#0000f5"/><stop offset="0.566" stop-color="#3200b6"/><stop offset="0.703" stop-color="#5600a1"/><stop offset="0.710" stop-color="#5800a0"/><stop offset="0.714" stop-color="#000000"/><stop offset="1.000" stop-color="#000000"/></linearGradient><linearGradient id="s51"><stop offset="0.000" stop-color="#f70000"/><stop offset="0.020" stop-color="#ff0200"/><stop offset="0.039" stop-color="#ff5700"/><stop offset="0.161" stop-color="#fdfe00"/><stop offset="0.216" stop-color="#82e100"/><stop offset="0.260" stop-color="#00bc02"/><stop offset="0.367" stop-color="#001fcf"/><stop offset="0.389" stop-color="#0000f5"/><stop offset="0.566" stop-color="#3200b6"/><stop offset="0.703" stop-color="#5600a1"/><stop offset="0.710" stop-color="#5800a0"/><stop offset="0.714" stop-color="#000000"/><stop offset="1.000" stop-color="#000000"/></linearGradient><linearGradient id="s52"><stop offset="0.000" stop-color="#f70000"/><stop offset="0.020" stop-color="#ff0200"/><stop offset="0.039" stop-color="#ff5700"/><stop offset="0.161" stop-color="#fdfe00"/><stop offset="0.216" stop-color="#82e100"/><stop offset="0.260" stop-color="#00bc02"/><stop offset="0.367" stop-color="#001fcf"/><stop offset="0.389" stop-color="#0000f5"/><stop offset="0.566" stop-color="#3200b6"/><stop offset="0.703" stop-color="#5600a1"/><stop offset="0.710" stop-color="#5800a0"/><stop offset="0.714" stop-color="#000000"/><stop offset="1.000" stop-color="#000000"/></linearGradient><linearGradient id="s53"><stop offset="0.000" stop-color="#f70000"/><stop offset="0.020" stop-color="#ff0200"/><stop offset="0.039" stop-color="#ff5700"/><stop offset="0.161" stop-color="#fdfe00"/><stop offset="0.216" stop-color="#82e100"/><stop offset="0.260" stop-color="#00bc02"/><stop offset="0.367" stop-color="#001fcf"/><stop offset="0.389" stop-color="#0000f5"/><stop offset="0.566" stop-color="#3200b6"/><stop offset="0.703" stop-color="#5600a1"/><stop offset="0.710" stop-color="#5800a0"/><stop offset="0.714" stop-color="#000000"/><stop offset="1.000" stop-color="#000000"/></linearGradient><linearGradient id="s54"><stop offset="0.000" stop-color="#f70000"/><stop offset="0.020" stop-color="#ff0100"/><stop offset="0.039" stop-color="#ff5400"/><stop offset="0.168" stop-color="#f9fd00"/><stop offset="0.223" stop-color="#83e100"/><stop offset="0.264" stop-color="#0ec101"/><stop offset="0.282" stop-color="#00a91d"/><stop offset="0.389" stop-color="#0009ea"/><stop offset="0.408" stop-color="#0400f0"/><stop offset="0.570" stop-color="#3200b6"/><stop offset="0.707" stop-color="#5600a0"/><stop offset="0.710" stop-color="#5700a0"/><stop offset="0.714" stop-color="#000000"/><stop offset="1.000" stop-color="#000000"/></linearGradient><linearGradient id="s55"><stop offset="0.000" stop-color="#f70000"/><stop offset="0.020" stop-color="#ff0000"/><stop offset="0.046" stop-color="#ff5800"/><stop offset="0.186" stop-color="#f9f800"/><stop offset="0.220" stop-color="#c5f100"/><stop offset="0.268" stop-color="#5ad600"/><stop offset="0.293" stop-color="#19c203"/><stop offset="0.319" stop-color="#00a326"/><stop offset="0.411" stop-color="#0010e2"/><stop offset="0.434" stop-color="#0400f0"/><stop offset="0.589" stop-color="#3500b4"/><stop offset="0.714" stop-color="#5700a0"/><stop offset="0.721" stop-color="#000000"/><stop offset="1.000" stop-color="#000000"/></linearGradient><linearGradient id="s56"><stop offset="0.000" stop-color="#f70000"/><stop offset="0.024" stop-color="#ff0500"/><stop offset="0.050" stop-color="#ff5300"/><stop offset="0.186" stop-color="#ffd600"/><stop offset="0.223" stop-color="#f8f800"/><stop offset="0.279" stop-color="#a4e900"/><stop offset="0.345" stop-color="#16bf07"/><stop offset="0.371" stop-color="#009d2d"/><stop offset="0.452" stop-color="#0010e1"/><stop offset="0.474" stop-color="#0500ee"/><stop offset="0.614" stop-color="#3600b3"/><stop offset="0.729" stop-color="#5700a0"/><stop offset="0.732" stop-color="#2b0050"/><stop offset="0.740" stop-color="#2c0050"/><stop offset="0.744" stop-color="#000000"/><stop offset="1.000" stop-color="#000000"/></linearGradient><linearGradient id="s57"><stop offset="0.000" stop-color="#f70000"/><stop offset="0.024" stop-color="#ff0100"/><stop offset="0.057" stop-color="#ff5500"/><stop offset="0.197" stop-color="#ffc400"/><stop offset="0.256" stop-color="#f9fb00"/><stop offset="0.334" stop-color="#83e100"/><stop offset="0.389" stop-color="#11c003"/><stop offset="0.411" stop-color="#00a029"/><stop offset="0.485" stop-color="#0010e2"/><stop offset="0.504" stop-color="#0400f0"/><stop offset="0.637" stop-color="#3400b4"/><stop offset="0.747" stop-color="#5500a1"/><stop offset="0.751" stop-color="#5600a1"/><stop offset="0.755" stop-color="#2b0050"/><stop offset="0.762" stop-color="#2c0050"/><stop offset="0.766" stop-color="#000000"/><stop offset="1.000" stop-color="#000000"/></linearGradient><linearGradient id="s58"><stop offset="0.000" stop-color="#f70000"/><stop offset="0.024" stop-color="#ff0000"/><stop offset="0.065" stop-color="#ff5800"/><stop offset="0.212" stop-color="#ffc200"/><stop offset="0.279" stop-color="#fafe00"/><stop offset="0.360" stop-color="#81e000"/><stop offset="0.423" stop-color="#06bc05"/><stop offset="0.445" stop-color="#00923d"/><stop offset="0.511" stop-color="#0006ed"/><stop offset="0.533" stop-color="#0700eb"/><stop offset="0.666" stop-color="#3600b3"/><stop offset="0.777" stop-color="#5600a0"/><stop offset="0.780" stop-color="#2b0050"/><stop offset="0.788" stop-color="#2c0050"/><stop offset="0.792" stop-color="#000000"/><stop offset="1.000" stop-color="#000000"/></linearGradient><linearGradient id="s59"><stop offset="0.000" stop-color="#f70000"/><stop offset="0.028" stop-color="#ff0600"/><stop offset="0.065" stop-color="#ff5600"/><stop offset="0.216" stop-color="#ffbd00"/><stop offset="0.286" stop-color="#fdfe00"/><stop offset="0.371" stop-color="#80e000"/><stop offset="0.437" stop-color="#00ba06"/><stop offset="0.507" stop-color="#001fcf"/><stop offset="0.522" stop-color="#0000f4"/><stop offset="0.673" stop-color="#3200b6"/><stop offset="0.795" stop-color="#5600a1"/><stop offset="0.799" stop-color="#5700a0"/><stop offset="0.803" stop-color="#2b0050"/><stop offset="0.806" stop-color="#2c0050"/><stop offset="0.810" stop-color="#000000"/><stop offset="1.000" stop-color="#000000"/></linearGradient><linearGradient id="s60"><stop offset="0.000" stop-color="#f70000"/><stop offset="0.028" stop-color="#ff0600"/><stop offset="0.065" stop-color="#ff5600"/><stop offset="0.220" stop-color="#ffbe00"/><stop offset="0.290" stop-color="#fdfe00"/><stop offset="0.375" stop-color="#7fe000"/><stop offset="0.437" stop-color="#02be00"/><stop offset="0.518" stop-color="#000ae9"/><stop offset="0.526" stop-color="#0100f4"/><stop offset="0.681" stop-color="#3200b6"/><stop offset="0.803" stop-color="#5500a1"/><stop offset="0.814" stop-color="#5800a0"/><stop offset="0.817" stop-color="#000000"/><stop offset="1.000" stop-color="#000000"/></linearGradient><linearGradient id="s61"><stop offset="0.000" stop-color="#f70000"/><stop offset="0.028" stop-color="#ff0700"/><stop offset="0.065" stop-color="#ff5600"/><stop offset="0.216" stop-color="#ffbd00"/><stop offset="0.286" stop-color="#fdfe00"/><stop offset="0.367" stop-color="#85e200"/><stop offset="0.434" stop-color="#02bb04"/><stop offset="0.518" stop-color="#0005ef"/><stop offset="0.544" stop-color="#0700ea"/><stop offset="0.685" stop-color="#3400b5"/><stop offset="0.810" stop-color="#5700a0"/><stop offset="0.817" stop-color="#000000"/><stop offset="1.000" stop-color="#000000"/></linearGradient><linearGradient id="s62"><stop offset="0.000" stop-color="#f70000"/><stop offset="0.024" stop-color="#ff0000"/><stop offset="0.065" stop-color="#ff5800"/><stop offset="0.208" stop-color="#ffbe00"/><stop offset="0.279" stop-color="#fbfe00"/><stop offset="0.360" stop-color="#7ee000"/><stop offset="0.419" stop-color="#06be02"/><stop offset="0.445" stop-color="#008e42"/><stop offset="0.515" stop-color="#0002f2"/><stop offset="0.681" stop-color="#3700b2"/><stop offset="0.795" stop-color="#5700a0"/><stop offset="0.799" stop-color="#2b0050"/><stop offset="0.803" stop-color="#2c0050"/><stop offset="0.806" stop-color="#000000"/><stop offset="1.000" stop-color="#000000"/></linearGradient><linearGradient id="s63"><stop offset="0.000" stop-color="#f70000"/><stop offset="0.024" stop-color="#ff0100"/><stop offset="0.061" stop-color="#ff5800"/><stop offset="0.201" stop-color="#ffc200"/><stop offset="0.264" stop-color="#fbfd00"/><stop offset="0.341" stop-color="#84e100"/><stop offset="0.400" stop-color="#08bf02"/><stop offset="0.419" stop-color="#00a127"/><stop offset="0.500" stop-color="#0008eb"/><stop offset="0.515" stop-color="#0400f0"/><stop offset="0.655" stop-color="#3400b5"/><stop offset="0.769" stop-color="#5500a1"/><stop offset="0.777" stop-color="#5600a0"/><stop offset="0.780" stop-color="#2b0050"/><stop offset="0.784" stop-color="#2c0050"/><stop offset="0.788" stop-color="#000000"/><stop offset="1.000" stop-color="#000000"/></linearGradient><linearGradient id="s64"><stop offset="0.000" stop-color="#f70000"/><stop offset="0.024" stop-color="#ff0500"/><stop offset="0.057" stop-color="#ff5800"/><stop offset="0.190" stop-color="#ffc600"/><stop offset="0.249" stop-color="#f8fd00"/><stop offset="0.323" stop-color="#80e000"/><stop offset="0.378" stop-color="#0abe03"/><stop offset="0.400" stop-color="#009c2e"/><stop offset="0.485" stop-color="#0007ec"/><stop offset="0.504" stop-color="#0500ee"/><stop offset="0.640" stop-color="#3400b4"/><stop offset="0.751" stop-color="#5400a1"/><stop offset="0.758" stop-color="#5600a0"/><stop offset="0.762" stop-color="#2b0050"/><stop offset="0.766" stop-color="#2c0050"/><stop offset="0.769" stop-color="#000000"/><stop offset="1.000" stop-color="#000000"/></linearGradient><linearGradient id="s65"><stop offset="0.000" stop-color="#f70000"/><stop offset="0.020" stop-color="#ff0000"/><stop offset="0.050" stop-color="#ff5500"/><stop offset="0.183" stop-color="#ffce00"/><stop offset="0.231" stop-color="#fafd00"/><stop offset="0.304" stop-color="#7ee000"/><stop offset="0.360" stop-color="#05bc05"/><stop offset="0.470" stop-color="#0005ef"/><stop offset="0.507" stop-color="#0c00e4"/><stop offset="0.637" stop-color="#3700b2"/><stop offset="0.747" stop-color="#5700a0"/><stop offset="0.751" stop-color="#2b0050"/><stop offset="0.755" stop-color="#2c0050"/><stop offset="0.758" stop-color="#000000"/><stop offset="1.000" stop-color="#000000"/></linearGradient><linearGradient id="s66"><stop offset="0.000" stop-color="#f70000"/><stop offset="0.020" stop-color="#ff0000"/><stop offset="0.050" stop-color="#ff5800"/><stop offset="0.179" stop-color="#ffd400"/><stop offset="0.220" stop-color="#fbfe00"/><stop offset="0.290" stop-color="#84e100"/><stop offset="0.349" stop-color="#00bb04"/><stop offset="0.445" stop-color="#001cd3"/><stop offset="0.463" stop-color="#0100f4"/><stop offset="0.614" stop-color="#3100b7"/><stop offset="0.732" stop-color="#5400a1"/><stop offset="0.747" stop-color="#5800a0"/><stop offset="0.751" stop-color="#000000"/><stop offset="1.000" stop-color="#000000"/></linearGradient><linearGradient id="s67"><stop offset="0.000" stop-color="#f70000"/><stop offset="0.020" stop-color="#ff0100"/><stop offset="0.046" stop-color="#ff5400"/><stop offset="0.179" stop-color="#ffd600"/><stop offset="0.216" stop-color="#fdff00"/><stop offset="0.286" stop-color="#87e200"/><stop offset="0.345" stop-color="#00bd02"/><stop offset="0.441" stop-color="#001ed1"/><stop offset="0.459" stop-color="#0000f5"/><stop offset="0.614" stop-color="#3200b6"/><stop offset="0.732" stop-color="#5400a1"/><stop offset="0.747" stop-color="#5800a0"/><stop offset="0.751" stop-color="#000000"/><stop offset="1.000" stop-color="#000000"/></linearGradient><linearGradient id="s68"><stop offset="0.000" stop-color="#f70000"/><stop offset="0.020" stop-color="#ff0000"/><stop offset="0.050" stop-color="#ff5700"/><stop offset="0.179" stop-color="#ffd200"/><stop offset="0.223" stop-color="#f8fd00"/><stop offset="0.293" stop-color="#81e000"/><stop offset="0.349" stop-color="#02be01"/><stop offset="0.459" stop-color="#0009eb"/><stop offset="0.470" stop-color="#0200f2"/><stop offset="0.618" stop-color="#3200b6"/><stop offset="0.736" stop-color="#5500a1"/><stop offset="0.747" stop-color="#5700a0"/><stop offset="0.755" stop-color="#000000"/><stop offset="1.000" stop-color="#000000"/></linearGradient><linearGradient id="s69"><stop offset="0.000" stop-color="#f70000"/><stop offset="0.020" stop-color="#ff0000"/><stop offset="0.050" stop-color="#ff5600"/><stop offset="0.183" stop-color="#ffd200"/><stop offset="0.227" stop-color="#f9fe00"/><stop offset="0.297" stop-color="#82e100"/><stop offset="0.352" stop-color="#02be00"/><stop offset="0.459" stop-color="#0015dc"/><stop offset="0.474" stop-color="#0100f4"/><stop offset="0.625" stop-color="#3300b6"/><stop offset="0.740" stop-color="#5300a1"/><stop offset="0.755" stop-color="#5700a0"/><stop offset="0.758" stop-color="#2c0050"/><stop offset="0.762" stop-color="#2c0050"/><stop offset="0.766" stop-color="#000000"/><stop offset="1.000" stop-color="#000000"/></linearGradient><linearGradient id="s70"><stop offset="0.000" stop-color="#f70000"/><stop offset="0.024" stop-color="#ff0600"/><stop offset="0.050" stop-color="#ff5500"/><stop offset="0.186" stop-color="#ffd300"/><stop offset="0.231" stop-color="#f9fe00"/><stop offset="0.301" stop-color="#81e000"/><stop offset="0.356" stop-color="#01be00"/><stop offset="0.467" stop-color="#0013de"/><stop offset="0.482" stop-color="#0100f4"/><stop offset="0.633" stop-color="#3200b6"/><stop offset="0.747" stop-color="#5200a2"/><stop offset="0.769" stop-color="#5700a0"/><stop offset="0.773" stop-color="#2b0050"/><stop offset="0.777" stop-color="#2c0050"/><stop offset="0.780" stop-color="#000000"/><stop offset="1.000" stop-color="#000000"/></linearGradient><linearGradient id="s71"><stop offset="0.000" stop-color="#f70000"/><stop offset="0.024" stop-color="#ff0500"/><stop offset="0.050" stop-color="#ff5400"/><stop offset="0.190" stop-color="#ffd600"/><stop offset="0.231" stop-color="#fcfe00"/><stop offset="0.301" stop-color="#86e200"/><stop offset="0.360" stop-color="#00bc03"/><stop offset="0.463" stop-color="#001dd1"/><stop offset="0.485" stop-color="#0100f4"/><stop offset="0.640" stop-color="#3200b6"/><stop offset="0.755" stop-color="#5100a2"/><stop offset="0.784" stop-color="#5700a0"/><stop offset="0.788" stop-color="#2b0050"/><stop offset="0.792" stop-color="#2c0050"/><stop offset="0.795" stop-color="#000000"/><stop offset="1.000" stop-color="#000000"/></linearGradient><linearGradient id="s72"><stop offset="0.000" stop-color="#f70000"/><stop offset="0.024" stop-color="#ff0500"/><stop offset="0.050" stop-color="#ff5300"/><stop offset="0.190" stop-color="#ffd500"/><stop offset="0.231" stop-color="#fdfe00"/><stop offset="0.301" stop-color="#86e200"/><stop offset="0.360" stop-color="#00bc02"/><stop offset="0.463" stop-color="#001ed1"/><stop offset="0.485" stop-color="#0100f4"/><stop offset="0.644" stop-color="#3300b6"/><stop offset="0.758" stop-color="#5000a2"/><stop offset="0.795" stop-color="#5800a0"/><stop offset="0.799" stop-color="#000000"/><stop offset="1.000" stop-color="#000000"/></linearGradient><linearGradient id="s73"><stop offset="0.000" stop-color="#f70000"/><stop offset="0.024" stop-color="#ff0500"/><stop offset="0.050" stop-color="#ff5300"/><stop offset="0.190" stop-color="#ffd500"/><stop offset="0.231" stop-color="#fcfe00"/><stop offset="0.301" stop-color="#86e200"/><stop offset="0.360" stop-color="#00bc03"/><stop offset="0.463" stop-color="#001ed1"/><stop offset="0.485" stop-color="#0100f4"/><stop offset="0.640" stop-color="#3200b6"/><stop offset="0.755" stop-color="#5000a2"/><stop offset="0.788" stop-color="#5700a0"/><stop offset="0.795" stop-color="#000000"/><stop offset="1.000" stop-color="#000000"/></linearGradient><linearGradient id="s74"><stop offset="0.000" stop-color="#f70000"/><stop offset="0.024" stop-color="#ff0500"/><stop offset="0.050" stop-color="#ff5400"/><stop offset="0.190" stop-color="#ffd600"/><stop offset="0.231" stop-color="#fbfe00"/><stop offset="0.301" stop-color="#84e100"/><stop offset="0.360" stop-color="#00bb04"/><stop offset="0.459" stop-color="#0022cc"/><stop offset="0.482" stop-color="#0000f5"/><stop offset="0.637" stop-color="#3200b6"/><stop offset="0.751" stop-color="#5100a2"/><stop offset="0.777" stop-color="#5700a0"/><stop offset="0.780" stop-color="#2b0050"/><stop offset="0.784" stop-color="#2c0050"/><stop offset="0.788" stop-color="#000000"/><stop offset="1.000" stop-color="#000000"/></linearGradient><linearGradient id="s75"><stop offset="0.000" stop-color="#f70000"/><stop offset="0.024" stop-color="#ff0700"/><stop offset="0.050" stop-color="#ff5500"/><stop offset="0.186" stop-color="#ffd400"/><stop offset="0.227" stop-color="#fdff00"/><stop offset="0.301" stop-color="#7fe000"/><stop offset="0.356" stop-color="#00bd02"/><stop offset="0.456" stop-color="#0022cc"/><stop offset="0.478" stop-color="#0001f4"/><stop offset="0.633" stop-color="#3300b5"/><stop offset="0.744" stop-color="#5200a2"/><stop offset="0.762" stop-color="#5600a0"/><stop offset="0.766" stop-color="#2b0050"/><stop offset="0.769" stop-color="#2c0050"/><stop offset="0.773" stop-color="#000000"/><stop offset="1.000" stop-color="#000000"/></linearGradient><linearGradient id="s76"><stop offset="0.000" stop-color="#f70000"/><stop offset="0.020" stop-color="#ff0000"/><stop offset="0.050" stop-color="#ff5600"/><stop offset="0.183" stop-color="#ffd400"/><stop offset="0.223" stop-color="#fdfe00"/><stop offset="0.297" stop-color="#7ee000"/><stop offset="0.352" stop-color="#00bc02"/><stop offset="0.452" stop-color="#001ed1"/><stop offset="0.474" stop-color="#0100f3"/><stop offset="0.622" stop-color="#3200b6"/><stop offset="0.736" stop-color="#5300a1"/><stop offset="0.751" stop-color="#5700a0"/><stop offset="0.755" stop-color="#2b0050"/><stop offset="0.758" stop-color="#2c0050"/><stop offset="0.762" stop-color="#000000"/><stop offset="1.000" stop-color="#000000"/></linearGradient><linearGradient id="s77"><stop offset="0.000" stop-color="#f70000"/><stop offset="0.020" stop-color="#ff0000"/><stop offset="0.050" stop-color="#ff5700"/><stop offset="0.179" stop-color="#ffd400"/><stop offset="0.220" stop-color="#fcfe00"/><stop offset="0.290" stop-color="#85e100"/><stop offset="0.349" stop-color="#00bb04"/><stop offset="0.445" stop-color="#001fcf"/><stop offset="0.467" stop-color="#0100f4"/><stop offset="0.618" stop-color="#3200b6"/><stop offset="0.736" stop-color="#5500a1"/><stop offset="0.747" stop-color="#5700a0"/><stop offset="0.751" stop-color="#000000"/><stop offset="1.000" stop-color="#000000"/></linearGradient><linearGradient id="s78"><stop offset="0.000" stop-color="#f70000"/><stop offset="0.020" stop-color="#ff0100"/><stop offset="0.046" stop-color="#ff5400"/><stop offset="0.179" stop-color="#ffd600"/><stop offset="0.216" stop-color="#fdff00"/><stop offset="0.286" stop-color="#87e200"/><stop offset="0.345" stop-color="#00bd02"/><stop offset="0.441" stop-color="#001ed1"/><stop offset="0.459" stop-color="#0000f4"/><stop offset="0.618" stop-color="#3300b5"/><stop offset="0.736" stop-color="#5500a1"/><stop offset="0.747" stop-color="#5800a0"/><stop offset="0.751" stop-color="#000000"/><stop offset="1.000" stop-color="#000000"/></linearGradient><linearGradient id="s79"><stop offset="0.000" stop-color="#f70000"/><stop offset="0.020" stop-color="#ff0100"/><stop offset="0.046" stop-color="#ff5400"/><stop offset="0.179" stop-color="#ffd600"/><stop offset="0.216" stop-color="#fdff00"/><stop offset="0.286" stop-color="#87e200"/><stop offset="0.345" stop-color="#00bd02"/><stop offset="0.441" stop-color="#001ed1"/><stop offset="0.459" stop-color="#0000f5"/><stop offset="0.614" stop-color="#3200b6"/><stop offset="0.732" stop-color="#5400a1"/><stop offset="0.747" stop-color="#5800a0"/><stop offset="0.751" stop-color="#000000"/><stop offset="1.000" stop-color="#000000"/></linearGradient><linearGradient id="s80"><stop offset="0.000" stop-color="#f70000"/><stop offset="0.020" stop-color="#ff0000"/><stop offset="0.050" stop-color="#ff5700"/><stop offset="0.179" stop-color="#ffd400"/><stop offset="0.220" stop-color="#fcfe00"/><stop offset="0.290" stop-color="#85e100"/><stop offset="0.349" stop-color="#00bb04"/><stop offset="0.445" stop-color="#001fd0"/><stop offset="0.467" stop-color="#0100f3"/><stop offset="0.618" stop-color="#3200b6"/><stop offset="0.736" stop-color="#5500a1"/><stop offset="0.747" stop-color="#5700a0"/><stop offset="0.751" stop-color="#000000"/><stop offset="1.000" stop-color="#000000"/></linearGradient><linearGradient id="s81"><stop offset="0.000" stop-color="#f70000"/><stop offset="0.020" stop-color="#ff0000"/><stop offset="0.050" stop-color="#ff5600"/><stop offset="0.183" stop-color="#ffd400"/><stop offset="0.223" stop-color="#fcfe00"/><stop offset="0.293" stop-color="#86e200"/><stop offset="0.352" stop-color="#00bc03"/><stop offset="0.452" stop-color="#001dd1"/><stop offset="0.474" stop-color="#0100f3"/><stop offset="0.622" stop-color="#3200b6"/><stop offset="0.736" stop-color="#5300a1"/><stop offset="0.751" stop-color="#5700a0"/><stop offset="0.755" stop-color="#2b0050"/><stop offset="0.758" stop-color="#2c0050"/><stop offset="0.762" stop-color="#000000"/><stop offset="1.000" stop-color="#000000"/></linearGradient><linearGradient id="s82"><stop offset="0.000" stop-color="#f70000"/><stop offset="0.024" stop-color="#ff0700"/><stop offset="0.050" stop-color="#ff5500"/><stop offset="0.186" stop-color="#ffd400"/><stop offset="0.227" stop-color="#fdff00"/><stop offset="0.297" stop-color="#87e200"/><stop offset="0.356" stop-color="#00bd02"/><stop offset="0.456" stop-color="#0021cd"/><stop offset="0.478" stop-color="#0000f4"/><stop offset="0.633" stop-color="#3300b5"/><stop offset="0.744" stop-color="#5200a2"/><stop offset="0.762" stop-color="#5700a0"/><stop offset="0.766" stop-color="#2b0050"/><stop offset="0.769" stop-color="#2c0050"/><stop offset="0.773" stop-color="#000000"/><stop offset="1.000" stop-color="#000000"/></linearGradient><linearGradient id="s83"><stop offset="0.000" stop-color="#f70000"/><stop offset="0.024" stop-color="#ff0500"/><stop offset="0.050" stop-color="#ff5400"/><stop offset="0.190" stop-color="#ffd600"/><stop offset="0.231" stop-color="#fbfe00"/><stop offset="0.301" stop-color="#84e100"/><stop offset="0.360" stop-color="#00bb04"/><stop offset="0.459" stop-color="#0021cd"/><stop offset="0.482" stop-color="#0000f5"/><stop offset="0.637" stop-color="#3200b6"/><stop offset="0.747" stop-color="#5100a2"/><stop offset="0.777" stop-color="#5700a0"/><stop offset="0.780" stop-color="#2c0050"/><stop offset="0.784" stop-color="#2c0050"/><stop offset="0.788" stop-color="#000000"/><stop offset="1.000" stop-color="#000000"/></linearGradient><linearGradient id="s84"><stop offset="0.000" stop-color="#f70000"/><stop offset="0.024" stop-color="#ff0500"/><stop offset="0.050" stop-color="#ff5300"/><stop offset="0.190" stop-color="#ffd500"/><stop offset="0.231" stop-color="#fcfe00"/><stop offset="0.301" stop-color="#86e200"/><stop offset="0.360" stop-color="#00bc03"/><stop offset="0.463" stop-color="#001ed1"/><stop offset="0.485" stop-color="#0100f4"/><stop offset="0.640" stop-color="#3200b6"/><stop offset="0.755" stop-color="#5000a2"/><stop offset="0.788" stop-color="#5700a0"/><stop offset="0.795" stop-color="#000000"/><stop offset="1.000" stop-color="#000000"/></linearGradient><linearGradient id="s85"><stop offset="0.000" stop-color="#f70000"/><stop offset="0.024" stop-color="#ff0500"/><stop offset="0.050" stop-color="#ff5300"/><stop offset="0.190" stop-color="#ffd500"/><stop offset="0.231" stop-color="#fdfe00"/><stop offset="0.301" stop-color="#86e200"/><stop offset="0.360" stop-color="#00bc02"/><stop offset="0.463" stop-color="#001ed1"/><stop offset="0.485" stop-color="#0100f4"/><stop offset="0.644" stop-color="#3200b6"/><stop offset="0.755" stop-color="#5000a2"/><stop offset="0.795" stop-color="#5800a0"/><stop offset="0.799" stop-color="#000000"/><stop offset="1.000" stop-color="#000000"/></linearGradient><linearGradient id="s86"><stop offset="0.000" stop-color="#f70000"/><stop offset="0.024" stop-color="#ff0500"/><stop offset="0.050" stop-color="#ff5300"/><stop offset="0.190" stop-color="#ffd500"/><stop offset="0.231" stop-color="#fcfe00"/><stop offset="0.301" stop-color="#86e200"/><stop offset="0.360" stop-color="#00bc03"/><stop offset="0.463" stop-color="#001ed1"/><stop offset="0.485" stop-color="#0100f4"/><stop offset="0.640" stop-color="#3200b6"/><stop offset="0.755" stop-color="#5000a2"/><stop offset="0.788" stop-color="#5700a0"/><stop offset="0.795" stop-color="#000000"/><stop offset="1.000" stop-color="#000000"/></linearGradient><linearGradient id="s87"><stop offset="0.000" stop-color="#f70000"/><stop offset="0.024" stop-color="#ff0500"/><stop offset="0.050" stop-color="#ff5400"/><stop offset="0.190" stop-color="#ffd600"/><stop offset="0.231" stop-color="#fbfe00"/><stop offset="0.301" stop-color="#84e100"/><stop offset="0.360" stop-color="#00bb05"/><stop offset="0.459" stop-color="#0021cd"/><stop offset="0.482" stop-color="#0000f5"/><stop offset="0.637" stop-color="#3200b6"/><stop offset="0.747" stop-color="#5100a2"/><stop offset="0.777" stop-color="#5700a0"/><stop offset="0.780" stop-color="#2c0050"/><stop offset="0.784" stop-color="#2c0050"/><stop offset="0.788" stop-color="#000000"/><stop offset="1.000" stop-color="#000000"/></linearGradient><linearGradient id="s88"><stop offset="0.000" stop-color="#f70000"/><stop offset="0.024" stop-color="#ff0700"/><stop offset="0.050" stop-color="#ff5500"/><stop offset="0.186" stop-color="#ffd500"/><stop offset="0.227" stop-color="#fdfe00"/><stop offset="0.297" stop-color="#86e200"/><stop offset="0.356" stop-color="#00bc02"/><stop offset="0.456" stop-color="#0021cd"/><stop offset="0.478" stop-color="#0000f4"/><stop offset="0.629" stop-color="#3200b6"/><stop offset="0.740" stop-color="#5200a2"/><stop offset="0.762" stop-color="#5700a0"/><stop offset="0.766" stop-color="#2b0050"/><stop offset="0.769" stop-color="#2c0050"/><stop offset="0.773" stop-color="#000000"/><stop offset="1.000" stop-color="#000000"/></linearGradient><linearGradient id="s89"><stop offset="0.000" stop-color="#f70000"/><stop offset="0.020" stop-color="#ff0000"/><stop offset="0.050" stop-color="#ff5600"/><stop offset="0.183" stop-color="#ffd400"/><stop offset="0.223" stop-color="#fcfe00"/><stop offset="0.293" stop-color="#86e200"/><stop offset="0.352" stop-color="#00bc03"/><stop offset="0.452" stop-color="#001dd2"/><stop offset="0.470" stop-color="#0001f3"/><stop offset="0.629" stop-color="#3400b4"/><stop offset="0.744" stop-color="#5500a1"/><stop offset="0.751" stop-color="#5700a0"/><stop offset="0.755" stop-color="#2c0050"/><stop offset="0.758" stop-color="#2c0050"/><stop offset="0.762" stop-color="#000000"/><stop offset="1.000" stop-color="#000000"/></linearGradient><linearGradient id="s90"><stop offset="0.000" stop-color="#f70000"/><stop offset="0.020" stop-color="#ff0000"/><stop offset="0.050" stop-color="#ff5700"/><stop offset="0.179" stop-color="#ffd400"/><stop offset="0.220" stop-color="#fbfe00"/><stop offset="0.290" stop-color="#84e100"/><stop offset="0.349" stop-color="#00bb04"/><stop offset="0.445" stop-color="#001fd0"/><stop offset="0.467" stop-color="#0100f3"/><stop offset="0.618" stop-color="#3200b6"/><stop offset="0.736" stop-color="#5500a1"/><stop offset="0.747" stop-color="#5700a0"/><stop offset="0.751" stop-color="#000000"/><stop offset="1.000" stop-color="#000000"/></linearGradient><linearGradient id="s91"><stop offset="0.000" stop-color="#f70000"/><stop offset="0.020" stop-color="#ff0100"/><stop offset="0.046" stop-color="#ff5400"/><stop offset="0.179" stop-color="#ffd700"/><stop offset="0.216" stop-color="#fdff00"/><stop offset="0.286" stop-color="#87e200"/><stop offset="0.345" stop-color="#00bd02"/><stop offset="0.441" stop-color="#001ed1"/><stop offset="0.459" stop-color="#0000f5"/><stop offset="0.614" stop-color="#3200b6"/><stop offset="0.732" stop-color="#5400a1"/><stop offset="0.747" stop-color="#5800a0"/><stop offset="0.751" stop-color="#000000"/><stop offset="1.000" stop-color="#000000"/></linearGradient><linearGradient id="s92"><stop offset="0.000" stop-color="#f70000"/><stop offset="0.020" stop-color="#ff0100"/><stop offset="0.046" stop-color="#ff5400"/><stop offset="0.179" stop-color="#ffd600"/><stop offset="0.216" stop-color="#fdff00"/><stop offset="0.290" stop-color="#7fe000"/><stop offset="0.345" stop-color="#00bd02"/><stop offset="0.441" stop-color="#001ed0"/><stop offset="0.459" stop-color="#0000f4"/><stop offset="0.618" stop-color="#3300b5"/><stop offset="0.736" stop-color="#5500a1"/><stop offset="0.747" stop-color="#5800a0"/><stop offset="0.751" stop-color="#000000"/><stop offset="1.000" stop-color="#000000"/></linearGradient><linearGradient id="s93"><stop offset="0.000" stop-color="#f70000"/><stop offset="0.020" stop-color="#ff0000"/><stop offset="0.050" stop-color="#ff5700"/><stop offset="0.179" stop-color="#ffd400"/><stop offset="0.220" stop-color="#fcfe00"/><stop offset="0.290" stop-color="#85e200"/><stop offset="0.349" stop-color="#00bc03"/><stop offset="0.445" stop-color="#001fcf"/><stop offset="0.467" stop-color="#0100f4"/><stop offset="0.618" stop-color="#3200b6"/><stop offset="0.736" stop-color="#5500a1"/><stop offset="0.747" stop-color="#5700a0"/><stop offset="0.755" stop-color="#000000"/><stop offset="1.000" stop-color="#000000"/></linearGradient><linearGradient id="s94"><stop offset="0.000" stop-color="#f70000"/><stop offset="0.020" stop-color="#ff0000"/><stop offset="0.050" stop-color="#ff5600"/><stop offset="0.183" stop-color="#ffd400"/><stop offset="0.223" stop-color="#fdff00"/><stop offset="0.297" stop-color="#7ee000"/><stop offset="0.352" stop-color="#00bc02"/><stop offset="0.452" stop-color="#001ed0"/><stop offset="0.474" stop-color="#0100f4"/><stop offset="0.622" stop-color="#3200b6"/><stop offset="0.736" stop-color="#5300a1"/><stop offset="0.755" stop-color="#5700a0"/><stop offset="0.762" stop-color="#000000"/><stop offset="1.000" stop-color="#000000"/></linearGradient><linearGradient id="s95"><stop offset="0.000" stop-color="#f70000"/><stop offset="0.024" stop-color="#ff0600"/><stop offset="0.050" stop-color="#ff5500"/><stop offset="0.186" stop-color="#ffd400"/><stop offset="0.227" stop-color="#fdff00"/><stop offset="0.301" stop-color="#7fe000"/><stop offset="0.356" stop-color="#00bd02"/><stop offset="0.459" stop-color="#001cd3"/><stop offset="0.478" stop-color="#0001f4"/><stop offset="0.633" stop-color="#3300b5"/><stop offset="0.744" stop-color="#5200a2"/><stop offset="0.766" stop-color="#5700a0"/><stop offset="0.773" stop-color="#000000"/><stop offset="1.000" stop-color="#000000"/></linearGradient><linearGradient id="s96"><stop offset="0.000" stop-color="#f70000"/><stop offset="0.024" stop-color="#ff0500"/><stop offset="0.050" stop-color="#ff5400"/><stop offset="0.190" stop-color="#ffd600"/><stop offset="0.231" stop-color="#fbfe00"/><stop offset="0.301" stop-color="#84e100"/><stop offset="0.360" stop-color="#00bb04"/><stop offset="0.459" stop-color="#0022cc"/><stop offset="0.482" stop-color="#0000f5"/><stop offset="0.637" stop-color="#3200b6"/><stop offset="0.751" stop-color="#5100a2"/><stop offset="0.777" stop-color="#5700a0"/><stop offset="0.780" stop-color="#2b0050"/><stop offset="0.784" stop-color="#2c0050"/><stop offset="0.788" stop-color="#000000"/><stop offset="1.000" stop-color="#000000"/></linearGradient><linearGradient id="s97"><stop offset="0.000" stop-color="#f70000"/><stop offset="0.024" stop-color="#ff0500"/><stop offset="0.050" stop-color="#ff5300"/><stop offset="0.190" stop-color="#ffd500"/><stop offset="0.231" stop-color="#fcfe00"/><stop offset="0.301" stop-color="#86e200"/><stop offset="0.360" stop-color="#00bc03"/><stop offset="0.463" stop-color="#001ed1"/><stop offset="0.485" stop-color="#0100f4"/><stop offset="0.640" stop-color="#3200b6"/><stop offset="0.755" stop-color="#5000a2"/><stop offset="0.788" stop-color="#5700a0"/><stop offset="0.795" stop-color="#000000"/><stop offset="1.000" stop-color="#000000"/></linearGradient><linearGradient id="s98"><stop offset="0.000" stop-color="#f70000"/><stop offset="0.024" stop-color="#ff0500"/><stop offset="0.050" stop-color="#ff5300"/><stop offset="0.190" stop-color="#ffd500"/><stop offset="0.231" stop-color="#fdfe00"/><stop offset="0.301" stop-color="#86e200"/><stop offset="0.360" stop-color="#00bc02"/><stop offset="0.463" stop-color="#001ed1"/><stop offset="0.485" stop-color="#0100f4"/><stop offset="0.644" stop-color="#3200b6"/><stop offset="0.755" stop-color="#5000a2"/><stop offset="0.795" stop-color="#5800a0"/><stop offset="0.799" stop-color="#000000"/><stop offset="1.000" stop-color="#000000"/></linearGradient><linearGradient id="s99"><stop offset="0.000" stop-color="#f70000"/><stop offset="0.024" stop-color="#ff0500"/><stop offset="0.050" stop-color="#ff5300"/><stop offset="0.190" stop-color="#ffd500"/><stop offset="0.231" stop-color="#fdfe00"/><stop offset="0.301" stop-color="#86e200"/><stop offset="0.360" stop-color="#00bc02"/><stop offset="0.463" stop-color="#001ed1"/><stop offset="0.485" stop-color="#0100f4"/><stop offset="0.640" stop-color="#3200b6"/><stop offset="0.755" stop-color="#5000a2"/><stop offset="0.792" stop-color="#5700a0"/><stop offset="0.799" stop-color="#000000"/><stop offset="1.000" stop-color="#000000"/></linearGradient><linearGradient id="s100"><stop offset="0.000" stop-color="#f70000"/><stop offset="0.024" stop-color="#ff0500"/><stop offset="0.050" stop-color="#ff5400"/><stop offset="0.190" stop-color="#ffd600"/><stop offset="0.231" stop-color="#fcfe00"/><stop offset="0.301" stop-color="#85e200"/><stop offset="0.360" stop-color="#00bc03"/><stop offset="0.463" stop-color="#001dd2"/><stop offset="0.482" stop-color="#0001f4"/><stop offset="0.640" stop-color="#3300b6"/><stop offset="0.751" stop-color="#5000a2"/><stop offset="0.784" stop-color="#5700a0"/><stop offset="0.792" stop-color="#000000"/><stop offset="1.000" stop-color="#000000"/></linearGradient><linearGradient id="s101"><stop offset="0.000" stop-color="#f70000"/><stop offset="0.024" stop-color="#ff0600"/><stop offset="0.050" stop-color="#ff5500"/><stop offset="0.190" stop-color="#ffd700"/><stop offset="0.231" stop-color="#fafe00"/><stop offset="0.301" stop-color="#83e100"/><stop offset="0.360" stop-color="#00ba05"/><stop offset="0.459" stop-color="#0020ce"/><stop offset="0.482" stop-color="#0000f4"/><stop offset="0.633" stop-color="#3200b6"/><stop offset="0.744" stop-color="#5000a2"/><stop offset="0.773" stop-color="#5700a0"/><stop offset="0.777" stop-color="#2c0050"/><stop offset="0.780" stop-color="#2c0050"/><stop offset="0.784" stop-color="#000000"/><stop offset="1.000" stop-color="#000000"/></linearGradient><linearGradient id="s102"><stop offset="0.000" stop-color="#f70000"/><stop offset="0.024" stop-color="#ff0700"/><stop offset="0.050" stop-color="#ff5500"/><stop offset="0.186" stop-color="#ffd400"/><stop offset="0.227" stop-color="#fdff00"/><stop offset="0.297" stop-color="#87e200"/><stop offset="0.356" stop-color="#00bd02"/><stop offset="0.456" stop-color="#0021cd"/><stop offset="0.478" stop-color="#0000f4"/><stop offset="0.629" stop-color="#3200b6"/><stop offset="0.740" stop-color="#5200a2"/><stop offset="0.762" stop-color="#5700a0"/><stop offset="0.766" stop-color="#2b0050"/><stop offset="0.769" stop-color="#2c0050"/><stop offset="0.773" stop-color="#000000"/><stop offset="1.000" stop-color="#000000"/></linearGradient><linearGradient id="s103"><stop offset="0.000" stop-color="#f70000"/><stop offset="0.020" stop-color="#ff0000"/><stop offset="0.050" stop-color="#ff5600"/><stop offset="0.183" stop-color="#ffd300"/><stop offset="0.227" stop-color="#f8fd00"/><stop offset="0.297" stop-color="#80e000"/><stop offset="0.352" stop-color="#01be01"/><stop offset="0.456" stop-color="#001ad5"/><stop offset="0.474" stop-color="#0100f4"/><stop offset="0.622" stop-color="#3100b7"/><stop offset="0.732" stop-color="#5200a2"/><stop offset="0.755" stop-color="#5700a0"/><stop offset="0.762" stop-color="#000000"/><stop offset="1.000" stop-color="#000000"/></linearGradient><linearGradient id="s104"><stop offset="0.000" stop-color="#f70000"/><stop offset="0.020" stop-color="#ff0000"/><stop offset="0.050" stop-color="#ff5700"/><stop offset="0.179" stop-color="#ffd200"/><stop offset="0.223" stop-color="#f9fe00"/><stop offset="0.293" stop-color="#81e000"/><stop offset="0.349" stop-color="#01be00"/><stop offset="0.452" stop-color="#0018d8"/><stop offset="0.470" stop-color="#0100f3"/><stop offset="0.618" stop-color="#3200b7"/><stop offset="0.732" stop-color="#5300a1"/><stop offset="0.751" stop-color="#5800a0"/><stop offset="0.755" stop-color="#000000"/><stop offset="1.000" stop-color="#000000"/></linearGradient><linearGradient id="s105"><stop offset="0.000" stop-color="#f70000"/><stop offset="0.020" stop-color="#ff0000"/><stop offset="0.050" stop-color="#ff5800"/><stop offset="0.179" stop-color="#ffd500"/><stop offset="0.220" stop-color="#fafe00"/><stop offset="0.290" stop-color="#83e100"/><stop offset="0.349" stop-color="#00ba06"/><stop offset="0.445" stop-color="#001dd2"/><stop offset="0.463" stop-color="#0000f4"/><stop offset="0.618" stop-color="#3200b6"/><stop offset="0.736" stop-color="#5500a1"/><stop offset="0.747" stop-color="#5800a0"/><stop offset="0.751" stop-color="#000000"/><stop offset="1.000" stop-color="#000000"/></linearGradient><linearGradient id="s106"><stop offset="0.000" stop-color="#f70000"/><stop offset="0.020" stop-color="#ff0100"/><stop offset="0.046" stop-color="#ff5400"/><stop offset="0.179" stop-color="#ffd600"/><stop offset="0.216" stop-color="#fdff00"/><stop offset="0.286" stop-color="#87e200"/><stop offset="0.345" stop-color="#00bd02"/><stop offset="0.441" stop-color="#001ed1"/><stop offset="0.459" stop-color="#0000f5"/><stop offset="0.614" stop-color="#3200b6"/><stop offset="0.732" stop-color="#5400a1"/><stop offset="0.747" stop-color="#5800a0"/><stop offset="0.751" stop-color="#000000"/><stop offset="1.000" stop-color="#000000"/></linearGradient><linearGradient id="s107"><stop offset="0.000" stop-color="#f70000"/><stop offset="0.020" stop-color="#ff0100"/><stop offset="0.046" stop-color="#ff5500"/><stop offset="0.175" stop-color="#ffd300"/><stop offset="0.216" stop-color="#fdfe00"/><stop offset="0.286" stop-color="#86e200"/><stop offset="0.345" stop-color="#00bc03"/><stop offset="0.437" stop-color="#0023ca"/><stop offset="0.459" stop-color="#0000f5"/><stop offset="0.614" stop-color="#3200b6"/><stop offset="0.732" stop-color="#5400a1"/><stop offset="0.747" stop-color="#5800a0"/><stop offset="0.751" stop-color="#000000"/><stop offset="1.000" stop-color="#000000"/></linearGradient><linearGradient id="s108"><stop offset="0.000" stop-color="#f70000"/><stop offset="0.020" stop-color="#ff0000"/><stop offset="0.046" stop-color="#ff5300"/><stop offset="0.183" stop-color="#ffda00"/><stop offset="0.220" stop-color="#f9fe00"/><stop offset="0.290" stop-color="#81e000"/><stop offset="0.345" stop-color="#01be00"/><stop offset="0.445" stop-color="#001bd5"/><stop offset="0.463" stop-color="#0100f4"/><stop offset="0.614" stop-color="#3200b7"/><stop offset="0.732" stop-color="#5400a1"/><stop offset="0.747" stop-color="#5800a0"/><stop offset="0.751" stop-color="#000000"/><stop offset="1.000" stop-color="#000000"/></linearGradient><linearGradient id="s109"><stop offset="0.000" stop-color="#f70000"/><stop offset="0.020" stop-color="#ff0000"/><stop offset="0.050" stop-color="#ff5700"/><stop offset="0.179" stop-color="#ffd300"/><stop offset="0.220" stop-color="#feff00"/><stop offset="0.293" stop-color="#7fe000"/><stop offset="0.349" stop-color="#00bd02"/><stop offset="0.448" stop-color="#001cd3"/><stop offset="0.467" stop-color="#0000f4"/><stop offset="0.618" stop-color="#3200b6"/><stop offset="0.732" stop-color="#5300a1"/><stop offset="0.747" stop-color="#5700a0"/><stop offset="0.755" stop-color="#000000"/><stop offset="1.000" stop-color="#000000"/></linearGradient><linearGradient id="s110"><stop offset="0.000" stop-color="#f70000"/><stop offset="0.020" stop-color="#ff0000"/><stop offset="0.050" stop-color="#ff5600"/><stop offset="0.183" stop-color="#ffd400"/><stop offset="0.223" stop-color="#fdff00"/><stop offset="0.293" stop-color="#87e200"/><stop offset="0.352" stop-color="#00bd02"/><stop offset="0.452" stop-color="#001ed0"/><stop offset="0.474" stop-color="#0100f4"/><stop offset="0.622" stop-color="#3200b6"/><stop offset="0.736" stop-color="#5300a1"/><stop offset="0.755" stop-color="#5700a0"/><stop offset="0.762" stop-color="#000000"/><stop offset="1.000" stop-color="#000000"/></linearGradient><linearGradient id="s111"><stop offset="0.000" stop-color="#f70000"/><stop offset="0.024" stop-color="#ff0700"/><stop offset="0.050" stop-color="#ff5500"/><stop offset="0.186" stop-color="#ffd500"/><stop offset="0.227" stop-color="#fcfe00"/><stop offset="0.297" stop-color="#86e200"/><stop offset="0.356" stop-color="#00bc03"/><stop offset="0.456" stop-color="#0020ce"/><stop offset="0.478" stop-color="#0000f4"/><stop offset="0.629" stop-color="#3200b6"/><stop offset="0.740" stop-color="#5200a2"/><stop offset="0.762" stop-color="#5700a0"/><stop offset="0.769" stop-color="#000000"/><stop offset="1.000" stop-color="#000000"/></linearGradient><linearGradient id="s112"><stop offset="0.000" stop-color="#f70000"/><stop offset="0.024" stop-color="#ff0600"/><stop offset="0.050" stop-color="#ff5500"/><stop offset="0.190" stop-color="#ffd700"/><stop offset="0.231" stop-color="#fafe00"/><stop offset="0.301" stop-color="#82e100"/><stop offset="0.360" stop-color="#00ba06"/><stop offset="0.459" stop-color="#0020ce"/><stop offset="0.482" stop-color="#0000f4"/><stop offset="0.633" stop-color="#3200b6"/><stop offset="0.744" stop-color="#5100a2"/><stop offset="0.773" stop-color="#5700a0"/><stop offset="0.780" stop-color="#000000"/><stop offset="1.000" stop-color="#000000"/></linearGradient><linearGradient id="s113"><stop offset="0.000" stop-color="#f70000"/><stop offset="0.024" stop-color="#ff0500"/><stop offset="0.050" stop-color="#ff5400"/><stop offset="0.190" stop-color="#ffd600"/><stop offset="0.231" stop-color="#fcfe00"/><stop offset="0.301" stop-color="#85e200"/><stop offset="0.360" stop-color="#00bc03"/><stop offset="0.463" stop-color="#001dd2"/><stop offset="0.482" stop-color="#0001f4"/><stop offset="0.640" stop-color="#3300b6"/><stop offset="0.751" stop-color="#5000a2"/><stop offset="0.784" stop-color="#5700a0"/><stop offset="0.792" stop-color="#000000"/><stop offset="1.000" stop-color="#000000"/></linearGradient><linearGradient id="s114"><stop offset="0.000" stop-color="#f70000"/><stop offset="0.024" stop-color="#ff0500"/><stop offset="0.050" stop-color="#ff5300"/><stop offset="0.190" stop-color="#ffd500"/><stop offset="0.231" stop-color="#fdfe00"/><stop offset="0.301" stop-color="#86e200"/><stop offset="0.360" stop-color="#00bc02"/><stop offset="0.463" stop-color="#001ed1"/><stop offset="0.485" stop-color="#0100f4"/><stop offset="0.640" stop-color="#3200b6"/><stop offset="0.755" stop-color="#5000a2"/><stop offset="0.792" stop-color="#5700a0"/><stop offset="0.799" stop-color="#000000"/><stop offset="1.000" stop-color="#000000"/></linearGradient><linearGradient id="s115"><stop offset="0.000" stop-color="#f70000"/><stop offset="0.024" stop-color="#ff0500"/><stop offset="0.050" stop-color="#ff5300"/><stop offset="0.190" stop-color="#ffd500"/><stop offset="0.231" stop-color="#fdfe00"/><stop offset="0.301" stop-color="#86e200"/><stop offset="0.360" stop-color="#00bc02"/><stop offset="0.463" stop-color="#001ed1"/><stop offset="0.485" stop-color="#0100f4"/><stop offset="0.644" stop-color="#3200b6"/><stop offset="0.755" stop-color="#5000a2"/><stop offset="0.795" stop-color="#5800a0"/><stop offset="0.799" stop-color="#000000"/><stop offset="1.000" stop-color="#000000"/></linearGradient><linearGradient id="s116"><stop offset="0.000" stop-color="#f70000"/><stop offset="0.024" stop-color="#ff0500"/><stop offset="0.050" stop-color="#ff5300"/><stop offset="0.190" stop-color="#ffd500"/><stop offset="0.231" stop-color="#fcfe00"/><stop offset="0.301" stop-color="#86e200"/><stop offset="0.360" stop-color="#00bc03"/><stop offset="0.463" stop-color="#001ed1"/><stop offset="0.485" stop-color="#0100f4"/><stop offset="0.640" stop-color="#3200b6"/><stop offset="0.755" stop-color="#5000a2"/><stop offset="0.788" stop-color="#5700a0"/><stop offset="0.795" stop-color="#000000"/><stop offset="1.000" stop-color="#000000"/></linearGradient><linearGradient id="s117"><stop offset="0.000" stop-color="#f70000"/><stop offset="0.024" stop-color="#ff0500"/><stop offset="0.050" stop-color="#ff5400"/><stop offset="0.190" stop-color="#ffd600"/><stop offset="0.231" stop-color="#fbfe00"/><stop offset="0.301" stop-color="#84e100"/><stop offset="0.360" stop-color="#00bb04"/><stop offset="0.459" stop-color="#0022cc"/><stop offset="0.482" stop-color="#0000f5"/><stop offset="0.637" stop-color="#3200b6"/><stop offset="0.751" stop-color="#5100a2"/><stop offset="0.777" stop-color="#5700a0"/><stop offset="0.780" stop-color="#2b0050"/><stop offset="0.784" stop-color="#2c0050"/><stop offset="0.788" stop-color="#000000"/><stop offset="1.000" stop-color="#000000"/></linearGradient><linearGradient id="s118"><stop offset="0.000" stop-color="#f70000"/><stop offset="0.024" stop-color="#ff0600"/><stop offset="0.050" stop-color="#ff5500"/><stop offset="0.186" stop-color="#ffd400"/><stop offset="0.231" stop-color="#f8fd00"/><stop offset="0.301" stop-color="#80e000"/><stop offset="0.356" stop-color="#01bd01"/><stop offset="0.459" stop-color="#001dd2"/><stop offset="0.482" stop-color="#0100f3"/><stop offset="0.629" stop-color="#3200b6"/><stop offset="0.740" stop-color="#5100a2"/><stop offset="0.766" stop-color="#5700a0"/><stop offset="0.769" stop-color="#2b0050"/><stop offset="0.773" stop-color="#2c0050"/><stop offset="0.777" stop-color="#000000"/><stop offset="1.000" stop-color="#000000"/></linearGradient><linearGradient id="s119"><stop offset="0.000" stop-color="#f70000"/><stop offset="0.020" stop-color="#ff0000"/><stop offset="0.050" stop-color="#ff5600"/><stop offset="0.183" stop-color="#ffd300"/><stop offset="0.227" stop-color="#f8fd00"/><stop offset="0.297" stop-color="#80e000"/><stop offset="0.352" stop-color="#01be01"/><stop offset="0.459" stop-color="#0015dc"/><stop offset="0.474" stop-color="#0100f4"/><stop offset="0.622" stop-color="#3100b7"/><stop offset="0.736" stop-color="#5200a2"/><stop offset="0.755" stop-color="#5700a0"/><stop offset="0.762" stop-color="#000000"/><stop offset="1.000" stop-color="#000000"/></linearGradient><linearGradient id="s120"><stop offset="0.000" stop-color="#f70000"/><stop offset="0.020" stop-color="#ff0000"/><stop offset="0.050" stop-color="#ff5700"/><stop offset="0.179" stop-color="#ffd300"/><stop offset="0.223" stop-color="#f8fd00"/><stop offset="0.293" stop-color="#80e000"/><stop offset="0.349" stop-color="#01bd01"/><stop offset="0.452" stop-color="#0016da"/><stop offset="0.467" stop-color="#0001f4"/><stop offset="0.622" stop-color="#3300b5"/><stop offset="0.736" stop-color="#5400a1"/><stop offset="0.747" stop-color="#5700a0"/><stop offset="0.755" stop-color="#000000"/><stop offset="1.000" stop-color="#000000"/></linearGradient><linearGradient id="s121"><stop offset="0.000" stop-color="#f70000"/><stop offset="0.020" stop-color="#ff0000"/><stop offset="0.046" stop-color="#ff5300"/><stop offset="0.179" stop-color="#ffd600"/><stop offset="0.220" stop-color="#f9fd00"/><stop offset="0.290" stop-color="#80e000"/><stop offset="0.345" stop-color="#01be01"/><stop offset="0.445" stop-color="#001ad5"/><stop offset="0.463" stop-color="#0100f4"/><stop offset="0.614" stop-color="#3200b7"/><stop offset="0.732" stop-color="#5400a1"/><stop offset="0.747" stop-color="#5800a0"/><stop offset="0.751" stop-color="#000000"/><stop offset="1.000" stop-color="#000000"/></linearGradient><linearGradient id="s122"><stop offset="0.000" stop-color="#f70000"/><stop offset="0.020" stop-color="#ff0100"/><stop offset="0.046" stop-color="#ff5500"/><stop offset="0.175" stop-color="#ffd300"/><stop offset="0.216" stop-color="#fcfe00"/><stop offset="0.286" stop-color="#86e200"/><stop offset="0.345" stop-color="#00bc03"/><stop offset="0.437" stop-color="#0023cb"/><stop offset="0.459" stop-color="#0000f5"/><stop offset="0.614" stop-color="#3200b6"/><stop offset="0.732" stop-color="#5400a1"/><stop offset="0.747" stop-color="#5800a0"/><stop offset="0.751" stop-color="#000000"/><stop offset="1.000" stop-color="#000000"/></linearGradient></defs><g shape-rendering="crispEdges"><rect x="44" y="138" width="271" height="1" fill="url(#s0)"/><rect x="44" y="139" width="271" height="1" fill="url(#s1)"/><rect x="44" y="140" width="271" height="1" fill="url(#s2)"/><rect x="44" y="141" width="271" height="1" fill="url(#s3)"/><rect x="44" y="142" width="271" height="1" fill="url(#s4)"/><rect x="44" y="143" width="271" height="1" fill="url(#s5)"/><rect x="44" y="144" width="271" height="1" fill="url(#s6)"/><rect x="44" y="145" width="271" height="1" fill="url(#s7)"/><rect x="44" y="146" width="271" height="1" fill="url(#s8)"/><rect x="44" y="147" width="271" height="1" fill="url(#s9)"/><rect x="44" y="148" width="271" height="2" fill="url(#s10)"/><rect x="44" y="150" width="271" height="2" fill="url(#s11)"/><rect x="44" y="152" width="271" height="2" fill="url(#s12)"/><rect x="44" y="154" width="271" height="2" fill="url(#s13)"/><rect x="44" y="156" width="271" height="2" fill="url(#s14)"/><rect x="44" y="158" width="271" height="2" fill="url(#s15)"/><rect x="44" y="160" width="271" height="2" fill="url(#s16)"/><rect x="44" y="162" width="271" height="2" fill="url(#s17)"/><rect x="44" y="164" width="271" height="2" fill="url(#s18)"/><rect x="44" y="166" width="271" height="2" fill="url(#s19)"/><rect x="44" y="168" width="271" height="2" fill="url(#s20)"/><rect x="44" y="170" width="271" height="2" fill="url(#s21)"/><rect x="44" y="172" width="271" height="2" fill="url(#s22)"/><rect x="44" y="174" width="271" height="2" fill="url(#s23)"/><rect x="44" y="176" width="271" height="2" fill="url(#s24)"/><rect x="44" y="178" width="271" height="2" fill="url(#s25)"/><rect x="44" y="180" width="271" height="2" fill="url(#s26)"/><rect x="44" y="182" width="271" height="2" fill="url(#s27)"/><rect x="44" y="184" width="271" height="2" fill="url(#s28)"/><rect x="44" y="186" width="271" height="2" fill="url(#s29)"/><rect x="44" y="188" width="271" height="2" fill="url(#s30)"/><rect x="44" y="190" width="271" height="2" fill="url(#s31)"/><rect x="44" y="192" width="271" height="2" fill="url(#s32)"/><rect x="44" y="194" width="271" height="2" fill="url(#s33)"/><rect x="44" y="196" width="271" height="2" fill="url(#s34)"/><rect x="44" y="198" width="271" height="2" fill="url(#s35)"/><rect x="44" y="200" width="271" height="2" fill="url(#s36)"/><rect x="44" y="202" width="271" height="2" fill="url(#s37)"/><rect x="44" y="204" width="271" height="2" fill="url(#s38)"/><rect x="44" y="206" width="271" height="2" fill="url(#s39)"/><rect x="44" y="208" width="271" height="2" fill="url(#s40)"/><rect x="44" y="210" width="271" height="2" fill="url(#s41)"/><rect x="44" y="212" width="271" height="2" fill="url(#s42)"/><rect x="44" y="214" width="271" height="2" fill="url(#s43)"/><rect x="44" y="216" width="271" height="2" fill="url(#s44)"/><rect x="44" y="218" width="271" height="2" fill="url(#s45)"/><rect x="44" y="220" width="271" height="2" fill="url(#s46)"/><rect x="44" y="222" width="271" height="2" fill="url(#s47)"/><rect x="44" y="224" width="271" height="2" fill="url(#s48)"/><rect x="44" y="226" width="271" height="2" fill="url(#s49)"/><rect x="44" y="228" width="271" height="2" fill="url(#s50)"/><rect x="44" y="230" width="271" height="2" fill="url(#s51)"/><rect x="44" y="232" width="271" height="2" fill="url(#s52)"/><rect x="44" y="234" width="271" height="2" fill="url(#s53)"/><rect x="44" y="236" width="271" height="2" fill="url(#s54)"/><rect x="44" y="238" width="271" height="2" fill="url(#s55)"/><rect x="44" y="240" width="271" height="2" fill="url(#s56)"/><rect x="44" y="242" width="271" height="2" fill="url(#s57)"/><rect x="44" y="244" width="271" height="2" fill="url(#s58)"/><rect x="44" y="246" width="271" height="2" fill="url(#s59)"/><rect x="44" y="248" width="271" height="2" fill="url(#s60)"/><rect x="44" y="250" width="271" height="2" fill="url(#s61)"/><rect x="44" y="252" width="271" height="2" fill="url(#s62)"/><rect x="44" y="254" width="271" height="2" fill="url(#s63)"/><rect x="44" y="256" width="271" height="2" fill="url(#s64)"/><rect x="44" y="258" width="271" height="2" fill="url(#s65)"/><rect x="44" y="260" width="271" height="2" fill="url(#s66)"/><rect x="44" y="262" width="271" height="2" fill="url(#s67)"/><rect x="44" y="264" width="271" height="2" fill="url(#s68)"/><rect x="44" y="266" width="271" height="2" fill="url(#s69)"/><rect x="44" y="268" width="271" height="2" fill="url(#s70)"/><rect x="44" y="270" width="271" height="2" fill="url(#s71)"/><rect x="44" y="272" width="271" height="2" fill="url(#s72)"/><rect x="44" y="274" width="271" height="2" fill="url(#s73)"/><rect x="44" y="276" width="271" height="2" fill="url(#s74)"/><rect x="44" y="278" width="271" height="2" fill="url(#s75)"/><rect x="44" y="280" width="271" height="2" fill="url(#s76)"/><rect x="44" y="282" width="271" height="2" fill="url(#s77)"/><rect x="44" y="284" width="271" height="2" fill="url(#s78)"/><rect x="44" y="286" width="271" height="2" fill="url(#s79)"/><rect x="44" y="288" width="271" height="2" fill="url(#s80)"/><rect x="44" y="290" width="271" height="2" fill="url(#s81)"/><rect x="44" y="292" width="271" height="2" fill="url(#s82)"/><rect x="44" y="294" width="271" height="2" fill="url(#s83)"/><rect x="44" y="296" width="271" height="2" fill="url(#s84)"/><rect x="44" y="298" width="271" height="2" fill="url(#s85)"/><rect x="44" y="300" width="271" height="2" fill="url(#s86)"/><rect x="44" y="302" width="271" height="2" fill="url(#s87)"/><rect x="44" y="304" width="271" height="2" fill="url(#s88)"/><rect x="44" y="306" width="271" height="2" fill="url(#s89)"/><rect x="44" y="308" width="271" height="2" fill="url(#s90)"/><rect x="44" y="310" width="271" height="2" fill="url(#s91)"/><rect x="44" y="312" width="271" height="2" fill="url(#s92)"/><rect x="44" y="314" width="271" height="2" fill="url(#s93)"/><rect x="44" y="316" width="271" height="2" fill="url(#s94)"/><rect x="44" y="318" width="271" height="2" fill="url(#s95)"/><rect x="44" y="320" width="271" height="2" fill="url(#s96)"/><rect x="44" y="322" width="271" height="2" fill="url(#s97)"/><rect x="44" y="324" width="271" height="2" fill="url(#s98)"/><rect x="44" y="326" width="271" height="2" fill="url(#s99)"/><rect x="44" y="328" width="271" height="2" fill="url(#s100)"/><rect x="44" y="330" width="271" height="2" fill="url(#s101)"/><rect x="44" y="332" width="271" height="2" fill="url(#s102)"/><rect x="44" y="334" width="271" height="2" fill="url(#s103)"/><rect x="44" y="336" width="271" height="2" fill="url(#s104)"/><rect x="44" y="338" width="271" height="2" fill="url(#s105)"/><rect x="44" y="340" width="271" height="2" fill="url(#s106)"/><rect x="44" y="342" width="271" height="2" fill="url(#s107)"/><rect x="44" y="344" width="271" height="2" fill="url(#s108)"/><rect x="44" y="346" width="271" height="2" fill="url(#s109)"/><rect x="44" y="348" width="271" height="2" fill="url(#s110)"/><rect x="44" y="350" width="271" height="2" fill="url(#s111)"/><rect x="44" y="352" width="271" height="2" fill="url(#s112)"/><rect x="44" y="354" width="271" height="2" fill="url(#s113)"/><rect x="44" y="356" width="271" height="2" fill="url(#s114)"/><rect x="44" y="358" width="271" height="2" fill="url(#s115)"/><rect x="44" y="360" width="271" height="2" fill="url(#s116)"/><rect x="44" y="362" width="271" height="2" fill="url(#s117)"/><rect x="44" y="364" width="271" height="2" fill="url(#s118)"/><rect x="44" y="366" width="271" height="2" fill="url(#s119)"/><rect x="44" y="368" width="271" height="2" fill="url(#s120)"/><rect x="44" y="370" width="271" height="2" fill="url(#s121)"/><rect x="44" y="372" width="271" height="1" fill="url(#s122)"/></g>
<defs>
<pattern id="pd" width="4.7" height="25" patternUnits="userSpaceOnUse" x="44" y="248"><ellipse cx="1.2" cy="6" rx="1" ry="6.5" fill="#005a00"/><ellipse cx="3.55" cy="18.5" rx="1" ry="6.5" fill="#005a00"/></pattern>
<pattern id="py" width="4.7" height="25" patternUnits="userSpaceOnUse" x="44" y="248"><ellipse cx="1.2" cy="6" rx="0.9" ry="6.5" fill="#ffff40"/><ellipse cx="3.55" cy="18.5" rx="0.9" ry="6.5" fill="#ffff40"/></pattern>
<linearGradient id="md"><stop offset="0" stop-color="#fff" stop-opacity="0"/><stop offset="0.25" stop-color="#fff" stop-opacity="0.35"/><stop offset="0.75" stop-color="#fff" stop-opacity="0.35"/><stop offset="1" stop-color="#fff" stop-opacity="0"/></linearGradient>
<mask id="mkd" maskUnits="userSpaceOnUse" x="0" y="0" width="707" height="856"><rect x="95" y="212" width="130" height="161" fill="url(#md)"/></mask><linearGradient id="vg1" x1="0" y1="0" x2="0" y2="1"><stop offset="0" stop-color="#fff" stop-opacity="0"/><stop offset="0.12" stop-color="#fff" stop-opacity="1"/><stop offset="1" stop-color="#fff" stop-opacity="1"/></linearGradient><mask id="mv1" maskUnits="userSpaceOnUse" x="0" y="0" width="707" height="856"><rect x="95" y="212" width="130" height="161" fill="url(#vg1)"/></mask><mask id="mv2" maskUnits="userSpaceOnUse" x="0" y="0" width="707" height="856"><rect x="48" y="240" width="60" height="133" fill="url(#vg1)"/></mask>
<linearGradient id="my"><stop offset="0" stop-color="#fff" stop-opacity="0"/><stop offset="0.3" stop-color="#fff" stop-opacity="0.35"/><stop offset="0.7" stop-color="#fff" stop-opacity="0.35"/><stop offset="1" stop-color="#fff" stop-opacity="0"/></linearGradient>
<mask id="mky" maskUnits="userSpaceOnUse" x="0" y="0" width="707" height="856"><rect x="48" y="240" width="60" height="133" fill="url(#my)"/></mask>
</defs>
<g mask="url(#mv1)"><rect x="95" y="212" width="130" height="161" fill="url(#pd)" mask="url(#mkd)"/></g>
<g mask="url(#mv2)"><rect x="48" y="240" width="60" height="133" fill="url(#py)" mask="url(#mky)"/></g>
<path d="M55.6 140V373" stroke="#fff" stroke-width="1" stroke-dasharray="2.5 2" fill="none" opacity="0.85"/>
<text x="248.5" y="165.84" font-size="18" text-anchor="middle" fill="#fff">5</text>
<text x="234" y="178.24" font-size="18" text-anchor="middle" fill="#fff">6</text>
<text x="217.7" y="189.54" font-size="18" text-anchor="middle" fill="#fff">7</text>
<text x="206.2" y="203.54" font-size="18" text-anchor="middle" fill="#fff">8</text>
<text x="196.3" y="220.74" font-size="18" text-anchor="middle" fill="#fff">9</text>
<text x="187.4" y="254.94" font-size="18" text-anchor="middle" fill="#fff">11</text>
<text x="188" y="279.74" font-size="18" text-anchor="middle" fill="#fff">12</text>
<text x="188" y="303.14" font-size="18" text-anchor="middle" fill="#fff">13</text>
<text x="188" y="329.64" font-size="18" text-anchor="middle" fill="#fff">14</text>
<text x="188" y="364.64" font-size="18" text-anchor="middle" fill="#fff">15</text>
<path d="M38 138.4h10M38 185.24h10M38 232.08h10M38 278.92h10M38 325.76h10M38 372.6h10M40.5 161.82h6M40.5 208.66h6M40.5 255.5h6M40.5 302.34h6M40.5 349.18h6M44.5 372.5v6.5M112 372.5v6.5M179.5 372.5v6.5M247 372.5v6.5M314.5 372.5v6.5M78.25 372.5v3.5M145.75 372.5v3.5M213.25 372.5v3.5M280.75 372.5v3.5M44.5 132.5v9M112 132.5v9M179.5 132.5v9M247 132.5v9M314.5 132.5v9M78.25 135.5v5M145.75 135.5v5M213.25 135.5v5M280.75 135.5v5" fill="none" stroke="#000" stroke-width="1.3"/>
<path d="M44.5 137.5V372.7H315" fill="none" stroke="#000" stroke-width="1.3"/>
<path d="M44 137.9H315" fill="none" stroke="#300" stroke-width="1.7"/>
<text x="33.5" y="142.88" font-size="12.5" text-anchor="end">0</text>
<text x="33.5" y="189.72" font-size="12.5" text-anchor="end">2k</text>
<text x="33.5" y="236.56" font-size="12.5" text-anchor="end">4k</text>
<text x="33.5" y="283.4" font-size="12.5" text-anchor="end">6k</text>
<text x="33.5" y="330.24" font-size="12.5" text-anchor="end">8k</text>
<text x="33.5" y="377.08" font-size="12.5" text-anchor="end">10k</text>
<text x="44.5" y="393.98" font-size="12.5" text-anchor="middle">0</text>
<text x="112" y="393.98" font-size="12.5" text-anchor="middle">5</text>
<text x="179.5" y="393.98" font-size="12.5" text-anchor="middle">10</text>
<text x="247" y="393.98" font-size="12.5" text-anchor="middle">15</text>
<text x="314.5" y="393.98" font-size="12.5" text-anchor="middle">20</text>
<text x="164.3" y="407.5" font-size="13" text-anchor="middle">Time (ms)</text>
<text x="11.5" y="254.8" font-size="13" text-anchor="middle" transform="rotate(-90 11.5 254.8)">Frequency (Hz)</text>
<text x="0" y="154" font-size="20" font-weight="bold">b</text>
<path d="M375.7 70.1L376.2 56.9 376.7 44.9 377.2 35.0 377.7 27.3 378.2 19.8 378.7 13.4 379.2 9.3 379.7 8.6 380.2 10.5 380.7 13.5 381.2 15.9 381.7 18.3 382.2 20.1 382.7 20.9 383.2 20.2 383.7 18.7 384.2 17.5 384.7 17.4 385.2 17.2 385.7 16.8 386.2 17.7 386.7 20.6 387.2 24.4 387.7 28.2 388.2 31.6 388.7 35.0 389.2 38.3 389.7 42.0 390.2 45.5 390.7 47.6 391.2 47.9 391.7 46.4 392.2 43.7 392.7 41.1 393.2 38.8 393.7 36.0 394.2 33.4 394.7 31.8 395.2 31.6 395.7 32.8 396.2 34.8 396.7 36.8 397.2 38.8 397.7 41.4 398.2 43.8 398.7 44.9 399.2 45.4 399.7 45.9 400.2 46.3 400.7 46.7 401.2 47.2 401.7 47.9 402.2 48.5 402.7 49.1 403.2 50.3 403.7 52.1 404.2 54.0 404.7 56.0 405.2 59.0 405.7 64.7 406.2 69.8 406.7 70.6 407.2 66.9 407.7 61.8 408.2 59.1 408.7 57.2 409.2 55.4 409.7 54.5 410.2 54.2 410.7 53.9 411.2 53.5 411.7 52.6 412.2 51.8 412.7 51.1 413.2 50.2 413.7 48.9 414.2 47.1 414.7 45.2 415.2 44.1 415.7 43.3 416.2 42.0 416.7 40.4 417.2 39.2 417.7 38.4 418.2 37.8 418.7 37.5 419.2 37.7 419.7 39.0 420.2 41.1 420.7 43.4 421.2 45.5 421.7 48.9 422.2 53.0 422.7 57.2 423.2 61.5 423.7 67.0 424.2 72.6 424.7 77.0 425.2 78.9 425.7 78.3 426.2 76.0 426.7 72.8 427.2 69.7 427.7 66.9 428.2 63.9 428.7 60.5 429.2 56.9 429.7 53.3 430.2 49.7 430.7 45.9 431.2 42.3 431.7 39.3 432.2 37.0 432.7 34.7 433.2 32.8 433.7 30.5 434.2 27.7 434.7 25.6 435.2 24.9 435.7 24.1 436.2 22.7 436.7 21.9 437.2 22.4 437.7 23.6 438.2 25.5 438.7 28.1 439.2 30.9 439.7 33.5 440.2 36.0 440.7 38.9 441.2 42.4 441.7 46.4 442.2 50.5 442.7 54.4 443.2 57.8 443.7 60.9 444.2 63.2 444.7 63.9 445.2 63.6 445.7 63.0 446.2 62.0 446.7 61.0 447.2 60.0 447.7 58.7 448.2 57.3 448.7 55.8 449.2 53.6 449.7 51.4 450.2 49.6 450.7 48.5 451.2 47.9 451.7 46.8 452.2 45.8 452.7 45.0 453.2 44.9 453.7 44.9 454.2 44.6 454.7 44.6 455.2 45.5 455.7 47.2 456.2 49.5 456.7 51.9 457.2 52.8 457.7 53.4 458.2 55.3 458.7 58.2 459.2 61.6 459.7 64.9 460.2 67.4 460.7 70.5 461.2 75.5 461.7 80.4 462.2 86.4 462.7 94.6 463.2 99.7 463.7 98.7 464.2 94.9 464.7 92.7 465.2 91.6 465.7 85.5 466.2 77.2 466.7 71.5 467.2 67.0 467.7 62.1 468.2 58.4 468.7 55.4 469.2 52.1 469.7 46.9 470.2 41.9 470.7 39.3 471.2 37.6 471.7 36.1 472.2 34.3 472.7 32.7 473.2 32.0 473.7 32.0 474.2 31.4 474.7 30.1 475.2 29.3 475.7 28.8 476.2 28.5 476.7 28.5 477.2 28.8 477.7 28.7 478.2 28.8 478.7 29.4 479.2 29.8 479.7 30.4 480.2 31.2 480.7 31.9 481.2 32.6 481.7 34.0 482.2 35.8 482.7 37.8 483.2 40.0 483.7 42.3 484.2 44.6 484.7 46.7 485.2 48.5 485.7 50.6 486.2 52.9 486.7 55.6 487.2 58.5 487.7 61.0 488.2 63.7 488.7 66.6 489.2 68.9 489.7 70.6 490.2 72.6 490.7 75.4 491.2 77.5 491.7 78.7 492.2 79.5 492.7 79.6 493.2 79.8 493.7 80.4 494.2 80.9 494.7 80.9 495.2 81.1 495.7 81.8 496.2 81.5 496.7 81.4 497.2 82.3 497.7 83.2 498.2 84.1 498.7 85.2 499.2 86.6 499.7 88.2 500.2 89.7 500.7 91.6 501.2 92.1 501.7 92.8 502.2 95.9 502.7 98.5 503.2 98.7 503.7 99.3 504.2 100.2 504.7 99.0 505.2 100.6 505.7 103.9 506.2 105.7 506.7 109.1 507.2 112.6 507.7 113.1 508.2 110.2 508.7 108.8 509.2 108.2 509.7 109.8 510.2 114.4 510.7 112.0 511.2 108.9 511.7 109.1 512.2 105.7 512.7 102.5 513.2 104.6 513.7 104.9 514.2 101.4 514.7 99.1 515.2 97.5 515.7 95.4 516.2 94.1 516.7 91.7 517.2 87.9 517.7 85.1 518.2 83.7 518.7 82.2 519.2 80.0 519.7 76.6 520.2 72.8 520.7 69.1 521.2 65.7 521.7 63.1 522.2 61.9 522.7 60.6 523.2 58.5 523.7 56.5 524.2 55.1 524.7 53.7 525.2 52.6 525.7 51.9 526.2 51.4 526.7 51.1 527.2 50.5 527.7 50.1 528.2 50.0 528.7 50.1 529.2 50.2 529.7 50.1 530.2 50.2 530.7 50.9 531.2 51.5 531.7 52.1 532.2 52.9 532.7 54.0 533.2 55.4 533.7 56.4 534.2 57.1 534.7 58.3 535.2 59.9 535.7 61.5 536.2 63.0 536.7 64.8 537.2 66.8 537.7 69.0 538.2 71.3 538.7 73.3 539.2 74.9 539.7 76.5 540.2 78.3 540.7 80.6 541.2 82.9 541.7 84.9 542.2 86.2 542.7 86.8 543.2 87.7 543.7 88.9 544.2 89.9 544.7 90.7 545.2 91.7 545.7 93.0 546.2 93.9 546.7 94.1 547.2 94.1 547.7 94.5 548.2 94.8 548.7 93.9 549.2 92.4 549.7 91.3 550.2 89.7 550.7 87.5 551.2 85.0 551.7 82.6 552.2 80.4 552.7 78.7 553.2 77.6 553.7 76.7 554.2 75.4 554.7 73.7 555.2 72.5 555.7 71.7 556.2 70.9 556.7 69.6 557.2 68.3 557.7 67.9 558.2 67.9 558.7 67.4 559.2 66.3 559.7 66.3 560.2 66.7 560.7 66.6 561.2 67.1 561.7 68.4 562.2 69.4 562.7 70.0 563.2 71.0 563.7 72.2 564.2 73.3 564.7 74.1 565.2 74.7 565.7 75.3 566.2 76.6 566.7 78.5 567.2 80.5 567.7 82.0 568.2 83.3 568.7 85.1 569.2 86.6 569.7 87.5 570.2 88.1 570.7 88.8 571.2 89.7 571.7 91.1 572.2 92.2 572.7 92.8 573.2 93.0 573.7 92.7 574.2 92.6 574.7 92.8 575.2 92.6 575.7 91.7 576.2 91.2 576.7 90.8 577.2 90.0 577.7 88.8 578.2 87.0 578.7 85.6 579.2 84.8 579.7 83.6 580.2 82.1 580.7 81.0 581.2 80.2 581.7 78.9 582.2 77.3 582.7 76.0 583.2 74.7 583.7 73.3 584.2 71.9 584.7 70.7 585.2 69.6 585.7 68.3 586.2 67.1 586.7 66.1 587.2 65.0 587.7 64.5 588.2 64.5 588.7 64.2 589.2 63.8 589.7 63.5 590.2 62.8 590.7 62.0 591.2 61.6 591.7 61.6 592.2 61.1 592.7 60.3 593.2 60.0 593.7 60.2 594.2 60.7 594.7 61.5 595.2 62.0 595.7 61.9 596.2 61.7 596.7 61.7 597.2 62.3 597.7 63.5 598.2 64.5 598.7 64.5 599.2 64.3 599.7 64.5 600.2 64.8 600.7 65.4 601.2 66.5 601.7 68.1 602.2 69.5 602.7 70.6 603.2 71.8 603.7 73.0 604.2 73.8 604.7 74.7 605.2 75.3 605.7 75.7 606.2 76.4 606.7 77.1 607.2 77.9 607.7 78.8 608.2 79.8 608.7 80.6 609.2 81.0 609.7 81.5 610.2 82.0 610.7 83.0 611.2 83.7 611.7 83.9 612.2 83.8 612.7 83.5 613.2 83.0 613.7 82.8 614.2 82.9 614.7 83.0 615.2 82.9 615.7 82.6 616.2 81.8 616.7 81.2 617.2 80.5 617.7 79.1 618.2 77.6 618.7 76.6 619.2 76.1 619.7 75.4 620.2 74.1 620.7 72.6 621.2 71.2 621.7 69.8 622.2 68.4 622.7 67.9 623.2 67.5 623.7 67.1 624.2 66.7 624.7 65.5 625.2 64.4 625.7 64.2 626.2 64.3 626.7 63.9 627.2 63.7 627.7 63.5 628.2 62.7 628.7 61.9 629.2 62.1 629.7 62.3 630.2 61.8 630.7 61.6 631.2 62.2 631.7 62.9 632.2 63.2 632.7 63.1 633.2 63.2 633.7 63.7 634.2 63.9 634.7 64.2 635.2 65.4 635.7 66.1 636.2 65.8 636.7 66.0 637.2 66.3 637.7 65.8 638.2 65.9 638.7 66.9 639.2 68.3 639.7 69.9 640.2 71.3 640.7 72.1 641.2 73.0 641.7 74.6 642.2 76.2 642.7 77.0 643.2 77.2 643.7 77.4 644.2 77.7 644.7 78.0 645.2 78.7 645.7 79.5 646.2 80.1 646.7 80.2 647.2 80.1 647.7 80.5 648.2 80.8 648.7 80.2 649.2 79.7 649.7 79.3 650.2 79.4 650.7 79.9 651.2 80.1 651.7 79.5 652.2 78.5 652.7 77.6 653.2 76.9 653.7 76.4 654.2 76.3 654.7 75.9 655.2 74.8 655.7 73.3 656.2 72.1 656.7 71.3 657.2 70.5 657.7 68.7 658.2 67.0 658.7 66.6 659.2 66.4 659.7 65.5 660.2 64.3 660.7 62.6 661.2 60.9 661.7 59.8 662.2 59.6 662.7 59.7 663.2 59.7 663.7 59.2 664.2 58.5 664.7 57.9 665.2 57.1 665.7 56.4 666.2 55.9 666.7 54.7 667.2 53.7 667.7 53.7 668.2 53.6 668.7 53.2 669.2 53.3 669.7 53.4 670.2 53.0 670.7 52.8 671.2 53.1 671.7 53.6 672.2 53.9 672.7 53.4 673.2 52.6 673.7 52.7 674.2 53.6 674.7 54.2 675.2 53.9 675.7 53.8 676.2 53.8 676.7 53.2 677.2 52.5 677.7 52.3 678.2 53.0 678.7 53.6 679.2 53.2 679.7 53.0 680.2 53.2 680.7 54.0 681.2 54.7 681.7 55.0 682.2 55.5 682.7 56.1 683.2 56.6 683.7 57.2 684.2 57.1 684.7 56.7 685.2 56.6 685.7 57.2 686.2 58.2 686.7 59.6 687.2 61.2 687.7 61.8 688.2 61.7 688.7 62.2 689.2 62.9 689.7 63.1 690.2 63.9 690.7 65.0 691.2 65.5 691.7 66.2 692.2 67.3 692.7 68.5 693.2 69.5 693.7 70.4 694.2 71.3 694.7 72.2 695.2 72.9 695.7 73.0" fill="none" stroke="#f00" stroke-width="1.6" stroke-linejoin="round"/>
<path d="M375.7 7.7L376.2 22.8 376.7 35.3 377.2 47.4 377.7 49.6 378.2 46.1 378.7 47.3 379.2 61.3 379.7 64.9 380.2 58.8 380.7 51.1 381.2 46.7 381.7 43.6 382.2 41.1 382.7 40.2 383.2 44.3 383.7 51.9 384.2 56.3 384.7 58.1 385.2 59.9 385.7 67.5 386.2 95.8 386.7 100.0 387.2 71.2 387.7 60.6 388.2 59.7 388.7 59.5 389.2 59.8 389.7 63.6 390.2 68.7 390.7 70.6 391.2 71.1 391.7 71.6 392.2 72.6 392.7 75.2 393.2 79.3 393.7 84.4 394.2 89.1 394.7 92.6 395.2 94.7 395.7 95.1 396.2 93.3 396.7 89.7 397.2 85.4 397.7 81.6 398.2 79.3 398.7 77.0 399.2 74.6 399.7 72.7 400.2 71.3 400.7 70.1 401.2 69.7 401.7 70.0 402.2 71.1 402.7 73.0 403.2 75.7 403.7 78.5 404.2 81.0 404.7 83.7 405.2 86.9 405.7 90.1 406.2 93.0 406.7 95.5 407.2 98.0 407.7 100.2 408.2 101.1 408.7 100.4 409.2 98.3 409.7 95.6 410.2 93.0 410.7 90.7 411.2 89.2 411.7 88.3 412.2 87.6 412.7 86.7 413.2 85.6 413.7 84.6 414.2 84.1 414.7 83.9 415.2 83.8 415.7 84.0 416.2 84.6 416.7 85.7 417.2 87.1 417.7 88.5 418.2 89.9 418.7 91.3 419.2 92.6 419.7 94.5 420.2 96.9 420.7 99.7 421.2 102.4 421.7 104.7 422.2 106.5 422.7 107.6 423.2 107.6 423.7 106.9 424.2 105.8 424.7 104.3 425.2 102.5 425.7 100.5 426.2 98.5 426.7 96.3 427.2 94.7 427.7 93.3 428.2 91.6 428.7 90.0 429.2 88.4 429.7 86.9 430.2 85.7 430.7 84.9 431.2 84.2 431.7 83.9 432.2 84.2 432.7 84.7 433.2 85.4 433.7 86.5 434.2 88.2 434.7 90.1 435.2 92.2 435.7 94.1 436.2 95.7 436.7 97.9 437.2 100.8 437.7 104.0 438.2 107.7 438.7 111.6 439.2 115.3 439.7 118.4 440.2 120.8 440.7 122.8 441.2 124.0 441.7 124.4 442.2 123.5 442.7 121.7 443.2 119.5 443.7 117.2 444.2 115.0 444.7 112.6 445.2 110.4 445.7 108.6 446.2 107.4 446.7 106.4 447.2 105.5 447.7 104.3 448.2 103.1 448.7 101.9 449.2 101.0 449.7 100.3 450.2 99.8 450.7 99.6 451.2 99.7 451.7 100.1 452.2 100.6 452.7 101.1 453.2 101.5 453.7 102.0 454.2 102.9 454.7 103.8 455.2 104.9 455.7 106.2 456.2 107.4 456.7 109.0 457.2 111.1 457.7 113.3 458.2 115.6 458.7 118.0 459.2 120.8 459.7 123.4 460.2 126.0 460.7 128.4 461.2 130.3 461.7 131.6 462.2 132.7 462.7 133.5 463.2 133.7 463.7 132.6 464.2 130.4 464.7 128.0 465.2 125.4 465.7 122.7 466.2 120.0 466.7 117.2 467.2 114.6 467.7 112.6 468.2 111.3 468.7 110.6 469.2 110.0 469.7 109.0 470.2 108.2 470.7 107.8 471.2 107.3 471.7 106.5 472.2 105.8 472.7 105.4 473.2 105.0 473.7 104.9 474.2 105.0 474.7 105.3 475.2 105.9 475.7 106.6 476.2 107.3 476.7 107.8 477.2 109.0 477.7 110.8 478.2 112.6 478.7 114.1 479.2 115.5 479.7 117.1 480.2 118.9 480.7 121.2 481.2 124.0 481.7 127.5 482.2 131.6 482.7 135.7 483.2 139.6 483.7 143.7 484.2 147.2 484.7 149.8 485.2 152.1 485.7 154.1 486.2 155.0 486.7 154.3 487.2 152.6 487.7 150.2 488.2 146.9 488.7 143.2 489.2 139.4 489.7 135.0 490.2 130.2 490.7 125.7 491.2 121.8 491.7 118.8 492.2 116.9 492.7 115.1 493.2 113.3 493.7 111.7 494.2 110.5 494.7 109.2 495.2 107.8 495.7 106.4 496.2 104.9 496.7 103.5 497.2 102.7 497.7 102.3 498.2 102.2 498.7 102.0 499.2 101.8 499.7 101.7 500.2 101.9 500.7 102.3 501.2 103.1 501.7 104.2 502.2 104.9 502.7 105.4 503.2 106.1 503.7 107.0 504.2 108.0 504.7 109.1 505.2 110.1 505.7 111.4 506.2 113.0 506.7 114.8 507.2 116.7 507.7 118.8 508.2 121.2 508.7 123.8 509.2 126.3 509.7 128.9 510.2 131.3 510.7 133.9 511.2 136.6 511.7 139.5 512.2 142.5 512.7 145.4 513.2 147.4 513.7 148.8 514.2 149.6 514.7 149.0 515.2 146.7 515.7 143.7 516.2 140.0 516.7 135.7 517.2 131.5 517.7 127.6 518.2 124.3 518.7 121.7 519.2 119.9 519.7 118.0 520.2 116.1 520.7 114.3 521.2 112.3 521.7 110.4 522.2 108.7 522.7 107.7 523.2 106.9 523.7 106.0 524.2 104.9 524.7 103.8 525.2 103.0 525.7 102.7 526.2 102.4 526.7 101.9 527.2 101.7 527.7 102.0 528.2 102.7 528.7 103.1 529.2 103.6 529.7 104.3 530.2 105.0 530.7 105.5 531.2 106.1 531.7 106.9 532.2 108.0 532.7 109.5 533.2 110.7 533.7 111.5 534.2 112.7 534.7 114.1 535.2 115.6 535.7 117.2 536.2 118.9 536.7 120.8 537.2 122.4 537.7 124.1 538.2 125.7 538.7 127.2 539.2 129.0 539.7 131.4 540.2 133.9 540.7 136.1 541.2 138.1 541.7 139.9 542.2 141.7 542.7 143.2 543.2 144.3 543.7 144.7 544.2 144.1 544.7 142.7 545.2 141.3 545.7 139.6 546.2 137.5 546.7 135.1 547.2 132.5 547.7 129.9 548.2 127.2 548.7 124.5 549.2 122.4 549.7 120.8 550.2 119.7 550.7 119.1 551.2 118.3 551.7 117.3 552.2 116.1 552.7 115.1 553.2 114.1 553.7 113.4 554.2 112.7 554.7 112.1 555.2 111.5 555.7 111.1 556.2 110.6 556.7 110.0 557.2 109.4 557.7 108.7 558.2 108.4 558.7 108.6 559.2 108.8 559.7 108.8 560.2 108.8 560.7 109.2 561.2 109.9 561.7 110.5 562.2 110.9 562.7 111.3 563.2 111.7 563.7 112.4 564.2 113.2 564.7 114.0 565.2 114.6 565.7 115.4 566.2 116.5 566.7 117.7 567.2 118.5 567.7 119.3 568.2 120.5 568.7 121.9 569.2 123.3 569.7 124.6 570.2 125.6 570.7 126.5 571.2 127.6 571.7 128.8 572.2 130.3 572.7 132.0 573.2 133.5 573.7 135.0 574.2 136.8 574.7 138.3 575.2 139.7 575.7 141.4 576.2 142.9 576.7 144.1 577.2 145.4 577.7 146.8 578.2 147.9 578.7 148.6 579.2 149.5 579.7 150.0 580.2 150.0 580.7 149.6 581.2 148.8 581.7 147.9 582.2 146.9 582.7 145.7 583.2 144.2 583.7 142.7 584.2 141.3 584.7 139.7 585.2 138.1 585.7 136.8 586.2 135.8 586.7 135.2 587.2 134.8 587.7 134.5 588.2 134.2 588.7 133.5 589.2 132.7 589.7 132.2 590.2 131.8 590.7 131.5 591.2 131.2 591.7 130.9 592.2 130.5 592.7 129.9 593.2 129.7 593.7 129.6 594.2 129.5 594.7 129.0 595.2 128.3 595.7 128.0 596.2 128.0 596.7 128.2 597.2 128.3 597.7 128.5 598.2 129.0 598.7 129.6 599.2 130.0 599.7 130.1 600.2 130.3 600.7 130.6 601.2 130.8 601.7 131.3 602.2 132.3 602.7 133.4 603.2 134.0 603.7 134.6 604.2 135.5 604.7 136.2 605.2 136.8 605.7 137.5 606.2 138.4 606.7 139.9 607.2 141.0 607.7 141.3 608.2 142.6 608.7 145.4 609.2 148.0 609.7 149.8 610.2 149.8 610.7 150.0 611.2 150.8 611.7 152.6 612.2 154.2 612.7 155.2 613.2 157.0 613.7 159.6 614.2 162.1 614.7 164.8 615.2 167.0 615.7 168.1 616.2 167.9 616.7 166.9 617.2 166.1 617.7 166.2 618.2 167.1 618.7 167.6 619.2 166.5 619.7 165.5 620.2 165.3 620.7 164.2 621.2 163.3 621.7 163.1 622.2 161.7 622.7 159.3 623.2 159.0 623.7 159.9 624.2 159.5 624.7 158.8 625.2 159.4 625.7 160.3 626.2 160.0 626.7 159.8 627.2 159.3 627.7 158.1 628.2 157.2 628.7 156.0 629.2 154.8 629.7 154.8 630.2 155.5 630.7 154.9 631.2 153.8 631.7 154.5 632.2 156.4 632.7 156.3 633.2 154.2 633.7 152.4 634.2 152.1 634.7 153.3 635.2 153.8 635.7 153.9 636.2 155.4 636.7 155.6 637.2 154.2 637.7 153.9 638.2 154.8 638.7 155.6 639.2 155.5 639.7 156.0 640.2 158.4 640.7 160.2 641.2 161.2 641.7 161.2 642.2 160.5 642.7 160.9 643.2 161.8 643.7 162.0 644.2 161.3 644.7 161.1 645.2 161.4 645.7 161.5 646.2 161.3 646.7 161.7 647.2 163.2 647.7 164.4 648.2 165.7 648.7 167.8 649.2 170.4 649.7 171.9 650.2 171.0 650.7 170.0 651.2 171.1 651.7 172.8 652.2 173.9 652.7 174.2 653.2 174.4 653.7 174.7 654.2 174.1 654.7 173.4 655.2 174.3 655.7 175.8 656.2 176.3 656.7 174.9 657.2 173.8 657.7 174.1 658.2 174.5 658.7 174.3 659.2 173.0 659.7 172.2 660.2 172.6 660.7 171.9 661.2 169.6 661.7 167.4 662.2 165.8 662.7 165.5 663.2 165.6 663.7 165.7 664.2 165.7 664.7 165.8 665.2 166.2 665.7 166.4 666.2 165.6 666.7 164.2 667.2 164.4 667.7 166.5 668.2 167.1 668.7 165.7 669.2 164.0 669.7 162.0 670.2 161.7 670.7 163.7 671.2 164.9 671.7 163.8 672.2 163.6 672.7 164.1 673.2 163.5 673.7 164.1 674.2 164.8 674.7 164.8 675.2 165.9 675.7 166.4 676.2 164.3 676.7 162.9 677.2 162.6 677.7 162.3 678.2 163.1 678.7 164.8 679.2 164.0 679.7 162.2 680.2 162.7 680.7 164.3 681.2 164.2 681.7 163.4 682.2 164.1 682.7 165.4 683.2 165.8 683.7 165.1 684.2 165.1 684.7 167.1 685.2 168.9 685.7 170.6 686.2 170.6 686.7 167.6 687.2 165.8 687.7 166.4 688.2 166.4 688.7 165.8 689.2 166.5 689.7 167.8 690.2 166.7 690.7 165.3 691.2 165.3 691.7 166.0 692.2 166.9 692.7 167.0 693.2 167.3 693.7 168.3 694.2 169.1 694.7 170.5 695.2 170.9 695.7 169.7" fill="none" stroke="#00f" stroke-width="1.6" stroke-linejoin="round"/>
<text x="403.9" y="41.14" font-size="18" text-anchor="middle">5</text>
<text x="417.1" y="31.64" font-size="18" text-anchor="middle">6</text>
<text x="436.1" y="23.74" font-size="18" text-anchor="middle">7</text>
<text x="456.3" y="24.44" font-size="18" text-anchor="middle">8</text>
<text x="475.5" y="21.74" font-size="18" text-anchor="middle">9</text>
<text x="502.6" y="47.54" font-size="18" text-anchor="middle">10</text>
<text x="528.2" y="46.64" font-size="18" text-anchor="middle">11</text>
<text x="555" y="47.44" font-size="18" text-anchor="middle">12</text>
<text x="591.9" y="60.14" font-size="18" text-anchor="middle">13</text>
<text x="629.5" y="61.64" font-size="18" text-anchor="middle">14</text>
<path d="M375.7 178.5v-5M439.8 178.5v-5M503.9 178.5v-5M568 178.5v-5M632.1 178.5v-5M696.2 178.5v-5M407.75 178.5v-3M471.85 178.5v-3M535.95 178.5v-3M600.05 178.5v-3M664.15 178.5v-3M375.7 7.4v5M439.8 7.4v5M503.9 7.4v5M568 7.4v5M632.1 7.4v5M696.2 7.4v5M407.75 7.4v3M471.85 7.4v3M535.95 7.4v3M600.05 7.4v3M664.15 7.4v3M375.5 25.5h5M375.5 66.2h5M375.5 106.9h5M375.5 147.6h5M375.5 45.85h3M375.5 86.55h3M375.5 127.25h3M375.5 167.95h3M696.5 25.5h-5M696.5 66.2h-5M696.5 106.9h-5M696.5 147.6h-5M696.5 45.85h-3M696.5 86.55h-3M696.5 127.25h-3M696.5 167.95h-3" fill="none" stroke="#000" stroke-width="1.1"/>
<rect x="375.5" y="7.4" width="321" height="171.1" fill="none" stroke="#000" stroke-width="1.3"/>
<rect x="591.5" y="13.7" width="104.9" height="34.2" fill="#fff" stroke="#555" stroke-width="0.8"/>
<path d="M592 22.6h31" stroke="#f00" stroke-width="1.5"/><path d="M592 39h31" stroke="#00f" stroke-width="1.5"/>
<text x="626" y="27.2" font-size="13">calculations</text>
<text x="626" y="43.6" font-size="13">experiment</text>
<text x="368.8" y="29.98" font-size="12.5" text-anchor="end">0</text>
<text x="368.8" y="70.67" font-size="12.5" text-anchor="end">-20</text>
<text x="368.8" y="111.38" font-size="12.5" text-anchor="end">-40</text>
<text x="368.8" y="152.08" font-size="12.5" text-anchor="end">-60</text>
<text x="439.8" y="196.47" font-size="12.5" text-anchor="middle">2k</text>
<text x="503.9" y="196.47" font-size="12.5" text-anchor="middle">4k</text>
<text x="568" y="196.47" font-size="12.5" text-anchor="middle">6k</text>
<text x="632.1" y="196.47" font-size="12.5" text-anchor="middle">8k</text>
<text x="696.2" y="196.47" font-size="12.5" text-anchor="middle">10k</text>
<text x="341.5" y="78.5" font-size="13" text-anchor="middle" transform="rotate(-90 341.5 78.5)">Power (dB)</text>
<text x="323" y="16.5" font-size="20" font-weight="bold">c</text>
<path d="M375.8 222.4L376.1 201.5 376.4 206.7 376.7 201.5 377.0 201.5 377.3 201.5 377.6 201.5 377.9 201.5 378.2 201.5 378.5 229.1 378.8 203.8 379.1 201.5 379.4 201.5 379.7 201.5 380.0 201.5 380.3 201.5 380.6 207.9 380.9 203.2 381.2 214.5 381.5 206.5 381.8 210.0 382.1 224.2 382.4 217.3 382.7 209.8 383.0 213.5 383.3 220.3 383.6 232.7 383.9 214.9 384.2 215.8 384.5 226.9 384.8 211.5 385.1 217.1 385.4 227.6 385.7 225.5 386.0 221.9 386.3 227.4 386.6 201.5 386.9 231.5 387.2 215.1 387.5 209.7 387.8 226.9 388.1 231.2 388.4 222.1 388.7 217.4 389.0 227.7 389.3 227.8 389.6 241.2 389.9 236.3 390.2 232.3 390.5 241.1 390.8 230.5 391.1 225.1 391.4 239.1 391.7 239.9 392.0 233.7 392.3 229.5 392.6 239.1 392.9 215.9 393.2 244.5 393.5 243.5 393.8 225.4 394.1 241.1 394.4 232.8 394.7 248.8 395.0 224.7 395.3 235.3 395.6 250.5 395.9 255.1 396.2 226.2 396.5 241.5 396.8 249.4 397.1 241.5 397.4 261.7 397.7 237.0 398.0 251.2 398.3 239.0 398.6 260.7 398.9 248.5 399.2 245.8 399.5 234.9 399.8 262.9 400.1 255.4 400.4 255.5 400.7 258.4 401.0 252.5 401.3 245.2 401.6 244.2 401.9 244.4 402.2 259.3 402.5 239.5 402.8 244.5 403.1 245.0 403.4 246.9 403.7 247.3 404.0 234.3 404.3 230.2 404.6 237.7 404.9 241.3 405.2 236.7 405.5 231.4 405.8 226.1 406.1 224.3 406.4 219.1 406.7 217.8 407.0 211.9 407.3 210.9 407.6 209.1 407.9 210.1 408.2 210.4 408.5 217.5 408.8 217.9 409.1 221.1 409.4 215.1 409.7 223.1 410.0 225.5 410.3 232.0 410.6 225.3 410.9 239.2 411.2 241.5 411.5 235.2 411.8 238.6 412.1 241.5 412.4 246.9 412.7 250.9 413.0 257.4 413.3 250.7 413.6 255.3 413.9 254.5 414.2 260.7 414.5 258.4 414.8 260.9 415.1 254.5 415.4 257.2 415.7 255.0 416.0 259.0 416.3 254.4 416.6 249.2 416.9 245.5 417.2 243.8 417.5 238.3 417.8 235.1 418.1 235.0 418.4 236.1 418.7 229.1 419.0 226.1 419.3 222.4 419.6 219.6 419.9 221.0 420.2 219.6 420.5 215.9 420.8 214.9 421.1 213.1 421.4 212.2 421.7 207.5 422.0 210.1 422.3 211.9 422.6 210.2 422.9 212.0 423.2 212.3 423.5 215.1 423.8 220.3 424.1 218.3 424.4 220.9 424.7 225.8 425.0 227.1 425.3 232.6 425.6 221.9 425.9 234.4 426.2 232.2 426.5 237.1 426.8 242.4 427.1 246.2 427.4 248.8 427.7 248.1 428.0 256.4 428.3 251.5 428.6 255.1 428.9 261.7 429.2 260.0 429.5 272.9 429.8 271.9 430.1 278.6 430.4 273.8 430.7 274.9 431.0 278.3 431.3 281.1 431.6 277.6 431.9 279.7 432.2 276.7 432.5 278.1 432.8 268.4 433.1 268.4 433.4 259.7 433.7 254.3 434.0 250.3 434.3 245.1 434.6 244.1 434.9 242.8 435.2 238.8 435.5 237.3 435.8 236.7 436.1 232.2 436.4 229.9 436.7 227.0 437.0 222.8 437.3 224.7 437.6 218.9 437.9 221.2 438.2 218.7 438.5 219.3 438.8 216.5 439.1 214.6 439.4 216.1 439.7 214.6 440.0 215.6 440.3 216.7 440.6 217.5 440.9 218.7 441.2 219.3 441.5 222.0 441.8 220.8 442.1 225.9 442.4 226.2 442.7 231.9 443.0 234.0 443.3 230.9 443.6 236.8 443.9 239.2 444.2 240.8 444.5 246.6 444.8 248.4 445.1 249.8 445.4 255.6 445.7 259.1 446.0 262.6 446.3 263.3 446.6 268.8 446.9 271.0 447.2 269.6 447.5 271.4 447.8 272.7 448.1 271.0 448.4 272.4 448.7 266.5 449.0 260.6 449.3 256.7 449.6 254.0 449.9 254.5 450.2 248.1 450.5 246.1 450.8 244.2 451.1 240.9 451.4 242.3 451.7 235.8 452.0 236.1 452.3 233.9 452.6 233.9 452.9 231.0 453.2 236.7 453.5 235.7 453.8 238.5 454.1 239.8 454.4 243.0 454.7 247.8 455.0 252.1 455.3 255.8 455.6 260.4 455.9 262.9 456.2 263.8 456.5 265.4 456.8 262.7 457.1 257.4 457.4 253.9 457.7 250.2 458.0 245.4 458.3 242.3 458.6 242.0 458.9 241.9 459.2 236.7 459.5 235.1 459.8 233.3 460.1 234.0 460.4 227.7 460.7 230.2 461.0 230.7 461.3 226.6 461.6 230.2 461.9 228.4 462.2 226.6 462.5 228.5 462.8 226.1 463.1 229.0 463.4 234.9 463.7 231.1 464.0 238.1 464.3 235.9 464.6 239.8 464.9 239.5 465.2 236.4 465.5 241.9 465.8 245.7 466.1 245.1 466.4 247.2 466.7 253.7 467.0 254.1 467.3 254.5 467.6 259.6 467.9 266.1 468.2 265.9 468.5 273.0 468.8 278.6 469.1 279.0 469.4 280.1 469.7 283.1 470.0 289.2 470.3 293.2 470.6 291.8 470.9 291.2 471.2 286.0 471.5 284.3 471.8 278.2 472.1 274.3 472.4 267.7 472.7 263.5 473.0 263.7 473.3 260.2 473.6 258.7 473.9 261.2 474.2 257.5 474.5 263.7 474.8 256.9 475.1 251.4 475.4 253.7 475.7 251.2 476.0 247.3 476.3 250.8 476.6 244.8 476.9 237.9 477.2 247.0 477.5 242.5 477.8 247.3 478.1 241.1 478.4 239.1 478.7 245.7 479.0 238.3 479.3 241.0 479.6 243.7 479.9 239.7 480.2 238.7 480.5 238.8 480.8 240.2 481.1 235.6 481.4 238.9 481.7 238.5 482.0 242.8 482.3 235.6 482.6 233.9 482.9 238.0 483.2 235.0 483.5 236.8 483.8 236.4 484.1 239.2 484.4 234.6 484.7 236.3 485.0 230.3 485.3 234.9 485.6 241.7 485.9 236.4 486.2 236.8 486.5 236.1 486.8 241.3 487.1 240.9 487.4 238.0 487.7 243.5 488.0 243.2 488.3 245.2 488.6 242.3 488.9 249.3 489.2 246.6 489.5 246.2 489.8 246.4 490.1 248.4 490.4 252.7 490.7 251.3 491.0 256.5 491.3 256.9 491.6 260.6 491.9 260.9 492.2 260.4 492.5 257.3 492.8 264.7 493.1 267.6 493.4 267.8 493.7 270.8 494.0 270.3 494.3 272.7 494.6 273.4 494.9 281.4 495.2 280.1 495.5 280.0 495.8 279.1 496.1 282.9 496.4 287.4 496.7 284.4 497.0 280.0 497.3 283.7 497.6 281.2 497.9 277.2 498.2 273.6 498.5 271.3 498.8 266.5 499.1 264.0 499.4 257.2 499.7 260.7 500.0 255.6 500.3 258.8 500.6 246.7 500.9 252.4 501.2 251.6 501.5 246.8 501.8 247.5 502.1 247.0 502.4 245.3 502.7 241.3 503.0 241.2 503.3 243.3 503.6 243.1 503.9 239.2 504.2 238.4 504.5 238.2 504.8 239.9 505.1 234.2 505.4 233.2 505.7 236.7 506.0 233.2 506.3 234.3 506.6 235.8 506.9 236.6 507.2 232.3 507.5 237.0 507.8 230.1 508.1 236.0 508.4 230.3 508.7 231.0 509.0 235.8 509.3 233.0 509.6 231.9 509.9 232.8 510.2 235.1 510.5 233.8 510.8 233.9 511.1 236.8 511.4 232.3 511.7 233.1 512.0 233.2 512.3 237.8 512.6 237.7 512.9 238.8 513.2 235.7 513.5 235.8 513.8 238.8 514.1 236.0 514.4 239.6 514.7 239.8 515.0 236.6 515.3 238.7 515.6 239.0 515.9 244.3 516.2 247.1 516.5 240.7 516.8 241.6 517.1 236.4 517.4 243.6 517.7 243.9 518.0 242.0 518.3 247.7 518.6 242.6 518.9 247.1 519.2 249.0 519.5 246.4 519.8 252.9 520.1 254.5 520.4 249.1 520.7 250.1 521.0 256.5 521.3 255.7 521.6 253.4 521.9 256.9 522.2 258.3 522.5 259.2 522.8 263.0 523.1 262.8 523.4 268.0 523.7 268.1 524.0 267.2 524.3 269.6 524.6 271.5 524.9 270.8 525.2 266.0 525.5 273.5 525.8 272.0 526.1 277.9 526.4 273.9 526.7 276.0 527.0 276.1 527.3 281.0 527.6 276.5 527.9 275.2 528.2 277.2 528.5 274.6 528.8 276.3 529.1 275.1 529.4 275.3 529.7 280.2 530.0 270.9 530.3 271.4 530.6 269.4 530.9 271.3 531.2 263.3 531.5 263.9 531.8 265.2 532.1 266.3 532.4 263.2 532.7 260.7 533.0 258.7 533.3 263.5 533.6 266.6 533.9 261.8 534.2 260.8 534.5 261.4 534.8 255.4 535.1 257.5 535.4 257.2 535.7 259.1 536.0 257.4 536.3 252.1 536.6 261.5 536.9 263.6 537.2 255.0 537.5 257.6 537.8 256.8 538.1 258.8 538.4 248.8 538.7 262.2 539.0 253.0 539.3 260.6 539.6 255.4 539.9 253.3 540.2 254.6 540.5 259.6 540.8 252.0 541.1 254.6 541.4 254.6 541.7 249.5 542.0 263.7 542.3 261.0 542.6 258.9 542.9 264.9 543.2 256.0 543.5 260.6 543.8 269.3 544.1 266.6 544.4 253.0 544.7 248.9 545.0 260.2 545.3 270.8 545.6 265.1 545.9 267.5 546.2 272.5 546.5 267.1 546.8 273.3 547.1 277.1 547.4 276.8 547.7 277.5 548.0 274.0 548.3 279.9 548.6 276.3 548.9 284.5 549.2 290.5 549.5 275.6 549.8 268.8 550.1 275.8 550.4 278.2 550.7 279.8 551.0 278.2 551.3 268.0 551.6 266.0 551.9 273.4 552.2 261.0 552.5 269.1 552.8 261.8 553.1 265.1 553.4 263.7 553.7 263.0 554.0 262.1 554.3 253.0 554.6 257.8 554.9 255.5 555.2 255.8 555.5 258.7 555.8 251.7 556.1 249.2 556.4 248.5 556.7 249.3 557.0 252.0 557.3 246.7 557.6 251.5 557.9 248.6 558.2 246.9 558.5 244.2 558.8 246.9 559.1 247.2 559.4 243.1 559.7 246.6 560.0 246.4 560.3 244.7 560.6 244.5 560.9 246.0 561.2 244.5 561.5 242.0 561.8 242.6 562.1 242.1 562.4 241.8 562.7 239.3 563.0 242.2 563.3 240.5 563.6 241.1 563.9 240.6 564.2 241.4 564.5 240.0 564.8 239.3 565.1 240.5 565.4 241.2 565.7 239.3 566.0 240.8 566.3 239.6 566.6 238.6 566.9 240.5 567.2 238.0 567.5 239.7 567.8 238.1 568.1 238.9 568.4 237.0 568.7 237.3 569.0 239.1 569.3 238.1 569.6 237.8 569.9 237.2 570.2 238.0 570.5 236.0 570.8 236.2 571.1 237.1 571.4 236.3 571.7 236.4 572.0 236.9 572.3 236.8 572.6 236.6 572.9 238.5 573.2 237.7 573.5 237.9 573.8 236.6 574.1 236.1 574.4 235.2 574.7 236.3 575.0 234.5 575.3 236.1 575.6 237.5 575.9 238.6 576.2 238.2 576.5 236.6 576.8 238.3 577.1 237.4 577.4 239.5 577.7 239.0 578.0 240.5 578.3 242.8 578.6 241.7 578.9 243.7 579.2 242.1 579.5 242.2 579.8 244.6 580.1 245.6 580.4 244.0 580.7 245.3 581.0 244.4 581.3 246.3 581.6 248.0 581.9 247.7 582.2 247.9 582.5 247.7 582.8 250.1 583.1 251.3 583.4 251.8 583.7 252.2 584.0 251.5 584.3 255.3 584.6 254.3 584.9 255.1 585.2 256.9 585.5 254.9 585.8 257.9 586.1 258.8 586.4 260.3 586.7 262.3 587.0 262.5 587.3 261.4 587.6 264.4 587.9 266.7 588.2 268.4 588.5 268.7 588.8 269.8 589.1 273.1 589.4 273.6 589.7 273.3 590.0 271.1 590.3 273.5 590.6 267.3 590.9 268.0 591.2 268.4 591.5 263.9 591.8 262.1 592.1 258.6 592.4 259.2 592.7 254.9 593.0 255.3 593.3 254.2 593.6 252.1 593.9 253.1 594.2 249.9 594.5 249.8 594.8 249.6 595.1 248.4 595.4 248.5 595.7 248.2 596.0 246.3 596.3 245.3 596.6 244.7 596.9 244.2 597.2 244.8 597.5 243.2 597.8 243.3 598.1 242.3 598.4 241.1 598.7 242.3 599.0 240.0 599.3 240.7 599.6 241.9 599.9 239.0 600.2 239.8 600.5 238.0 600.8 238.8 601.1 237.6 601.4 238.4 601.7 238.0 602.0 238.5 602.3 239.7 602.6 238.2 602.9 238.4 603.2 237.5 603.5 237.1 603.8 236.4 604.1 235.2 604.4 237.0 604.7 238.4 605.0 237.2 605.3 236.1 605.6 238.3 605.9 236.2 606.2 236.0 606.5 235.4 606.8 235.7 607.1 236.5 607.4 238.9 607.7 236.8 608.0 236.1 608.3 236.6 608.6 237.2 608.9 235.9 609.2 237.9 609.5 238.7 609.8 238.6 610.1 239.1 610.4 237.4 610.7 237.3 611.0 240.5 611.3 240.6 611.6 238.2 611.9 240.2 612.2 240.3 612.5 241.1 612.8 241.1 613.1 240.7 613.4 241.6 613.7 241.9 614.0 242.0 614.3 240.4 614.6 239.6 614.9 242.1 615.2 241.6 615.5 243.9 615.8 244.8 616.1 244.7 616.4 244.3 616.7 245.2 617.0 247.1 617.3 245.0 617.6 247.7 617.9 247.9 618.2 247.7 618.5 250.0 618.8 247.1 619.1 250.2 619.4 247.6 619.7 248.2 620.0 248.1 620.3 251.3 620.6 249.2 620.9 251.6 621.2 249.9 621.5 254.8 621.8 257.0 622.1 254.3 622.4 257.9 622.7 256.3 623.0 260.5 623.3 256.5 623.6 253.3 623.9 260.9 624.2 257.6 624.5 255.9 624.8 257.2 625.1 255.1 625.4 259.1 625.7 257.1 626.0 263.7 626.3 261.8 626.6 256.2 626.9 256.7 627.2 259.2 627.5 256.0 627.8 260.6 628.1 260.9 628.4 259.3 628.7 259.9 629.0 262.7 629.3 265.1 629.6 265.4 629.9 261.8 630.2 263.9 630.5 260.0 630.8 262.9 631.1 259.5 631.4 263.8 631.7 258.9 632.0 259.6 632.3 262.0 632.6 263.4 632.9 258.3 633.2 260.5 633.5 262.1 633.8 262.2 634.1 259.5 634.4 261.7 634.7 260.6 635.0 264.7 635.3 262.4 635.6 257.5 635.9 255.2 636.2 260.7 636.5 263.3 636.8 260.5 637.1 262.1 637.4 258.5 637.7 256.1 638.0 261.2 638.3 259.4 638.6 260.6 638.9 255.3 639.2 259.0 639.5 256.7 639.8 260.1 640.1 256.5 640.4 256.2 640.7 256.1 641.0 260.4 641.3 257.1 641.6 254.9 641.9 253.9 642.2 253.6 642.5 259.5 642.8 251.0 643.1 253.1 643.4 256.5 643.7 257.6 644.0 253.9 644.3 255.9 644.6 255.6 644.9 255.8 645.2 253.1 645.5 256.9 645.8 253.0 646.1 256.0 646.4 249.2 646.7 254.0 647.0 248.3 647.3 247.4 647.6 252.2 647.9 248.7 648.2 251.7 648.5 247.8 648.8 254.3 649.1 250.3 649.4 247.3 649.7 250.6 650.0 252.3 650.3 248.2 650.6 251.4 650.9 255.3 651.2 252.3 651.5 250.2 651.8 248.8 652.1 251.7 652.4 246.5 652.7 242.7 653.0 248.7 653.3 247.7 653.6 254.8 653.9 250.9 654.2 248.1 654.5 247.8 654.8 252.0 655.1 248.7 655.4 249.4 655.7 250.7 656.0 251.2 656.3 251.3 656.6 251.5 656.9 254.5 657.2 255.6 657.5 247.3 657.8 258.0 658.1 251.9 658.4 254.8 658.7 249.9 659.0 252.7 659.3 252.5 659.6 252.3 659.9 254.3 660.2 253.8 660.5 249.8 660.8 252.2 661.1 254.4 661.4 254.4 661.7 252.0 662.0 252.3 662.3 252.8 662.6 250.6 662.9 250.3 663.2 257.6 663.5 252.9 663.8 254.3 664.1 252.4 664.4 257.7 664.7 259.0 665.0 254.3 665.3 256.3 665.6 253.3 665.9 259.8 666.2 258.0 666.5 253.7 666.8 259.2 667.1 257.2 667.4 257.5 667.7 257.6 668.0 255.2 668.3 255.7 668.6 258.8 668.9 257.4 669.2 255.3 669.5 263.0 669.8 257.5 670.1 256.8 670.4 256.7 670.7 260.3 671.0 261.2 671.3 259.6 671.6 261.3 671.9 255.6 672.2 258.6 672.5 258.5 672.8 259.9 673.1 261.2 673.4 255.1 673.7 268.2 674.0 258.4 674.3 261.6 674.6 263.0 674.9 263.2 675.2 261.9 675.5 254.2 675.8 258.9 676.1 263.7 676.4 259.7 676.7 259.5 677.0 256.4 677.3 265.5 677.6 264.0 677.9 260.6 678.2 262.7 678.5 262.9 678.8 260.6 679.1 262.9 679.4 264.4 679.7 265.3 680.0 267.2 680.3 264.3 680.6 263.3 680.9 265.6 681.2 263.2 681.5 261.8 681.8 268.0 682.1 264.3 682.4 265.7 682.7 267.2 683.0 263.0 683.3 267.5 683.6 267.2 683.9 266.0 684.2 267.4 684.5 264.7 684.8 261.2 685.1 266.2 685.4 264.8 685.7 269.4 686.0 268.1 686.3 266.3 686.6 267.9 686.9 271.3 687.2 271.0 687.5 269.2 687.8 269.6 688.1 268.0 688.4 268.6 688.7 270.6 689.0 269.0 689.3 270.3 689.6 267.0 689.9 265.8 690.2 265.9 690.5 269.3 690.8 274.0 691.1 273.9 691.4 268.7 691.7 267.6 692.0 273.7 692.3 273.2 692.6 268.9 692.9 275.3 693.2 273.4 693.5 276.6 693.8 274.4 694.1 276.1 694.4 275.0 694.7 272.2 695.0 274.3 695.3 273.5 695.6 277.7 695.9 273.4" fill="none" stroke="#000" stroke-width="1.8" stroke-linejoin="round"/>
<path d="M375.8 228.2L376.1 227.8 376.4 229.1 376.7 227.0 377.0 223.3 377.3 224.7 377.6 223.3 377.9 223.7 378.2 221.0 378.5 223.0 378.8 222.7 379.1 224.3 379.4 222.5 379.7 222.7 380.0 220.0 380.3 225.4 380.6 219.9 380.9 224.5 381.2 223.0 381.5 222.8 381.8 223.7 382.1 224.3 382.4 226.6 382.7 226.6 383.0 229.7 383.3 225.6 383.6 229.0 383.9 228.4 384.2 231.8 384.5 227.3 384.8 231.4 385.1 233.5 385.4 230.2 385.7 237.7 386.0 236.6 386.3 240.4 386.6 241.5 386.9 235.7 387.2 237.3 387.5 240.7 387.8 245.9 388.1 247.6 388.4 241.4 388.7 242.8 389.0 242.7 389.3 244.7 389.6 247.5 389.9 248.9 390.2 262.9 390.5 248.3 390.8 250.4 391.1 255.6 391.4 247.9 391.7 252.1 392.0 255.1 392.3 260.4 392.6 248.5 392.9 265.3 393.2 255.7 393.5 259.5 393.8 264.2 394.1 263.8 394.4 266.9 394.7 262.3 395.0 261.9 395.3 264.6 395.6 257.5 395.9 271.5 396.2 260.2 396.5 258.0 396.8 278.6 397.1 266.2 397.4 260.6 397.7 279.5 398.0 267.2 398.3 276.3 398.6 265.8 398.9 270.1 399.2 262.3 399.5 261.9 399.8 268.5 400.1 274.9 400.4 281.3 400.7 292.0 401.0 274.6 401.3 287.3 401.6 280.6 401.9 284.1 402.2 278.7 402.5 279.1 402.8 281.6 403.1 278.4 403.4 281.1 403.7 275.7 404.0 279.8 404.3 272.7 404.6 269.5 404.9 269.4 405.2 264.4 405.5 259.1 405.8 254.7 406.1 250.4 406.4 249.5 406.7 245.6 407.0 242.7 407.3 243.3 407.6 241.1 407.9 244.5 408.2 242.8 408.5 249.9 408.8 250.3 409.1 253.1 409.4 256.4 409.7 257.8 410.0 259.5 410.3 264.4 410.6 264.6 410.9 264.9 411.2 270.4 411.5 267.9 411.8 278.7 412.1 276.7 412.4 279.6 412.7 288.1 413.0 290.0 413.3 285.7 413.6 288.6 413.9 291.1 414.2 293.6 414.5 287.4 414.8 287.4 415.1 289.9 415.4 284.3 415.7 283.7 416.0 280.4 416.3 270.5 416.6 268.5 416.9 258.3 417.2 265.0 417.5 268.8 417.8 256.8 418.1 264.4 418.4 261.8 418.7 255.8 419.0 254.3 419.3 252.9 419.6 247.5 419.9 248.3 420.2 247.8 420.5 249.1 420.8 248.7 421.1 241.7 421.4 247.3 421.7 240.6 422.0 242.9 422.3 245.4 422.6 244.4 422.9 244.9 423.2 247.6 423.5 245.6 423.8 246.7 424.1 250.1 424.4 256.5 424.7 254.0 425.0 263.9 425.3 258.9 425.6 247.9 425.9 259.7 426.2 269.7 426.5 265.0 426.8 265.5 427.1 266.2 427.4 276.8 427.7 278.1 428.0 279.5 428.3 281.2 428.6 287.3 428.9 287.7 429.2 283.3 429.5 292.2 429.8 292.4 430.1 293.4 430.4 297.7 430.7 296.9 431.0 289.3 431.3 302.9 431.6 301.6 431.9 297.7 432.2 295.4 432.5 294.3 432.8 287.2 433.1 287.4 433.4 282.1 433.7 277.7 434.0 272.5 434.3 269.4 434.6 270.2 434.9 268.3 435.2 265.0 435.5 262.4 435.8 259.5 436.1 261.0 436.4 261.2 436.7 254.1 437.0 257.9 437.3 250.8 437.6 253.0 437.9 253.4 438.2 249.5 438.5 248.6 438.8 251.0 439.1 251.9 439.4 249.3 439.7 252.4 440.0 249.1 440.3 253.9 440.6 251.9 440.9 253.1 441.2 254.9 441.5 255.7 441.8 259.6 442.1 261.6 442.4 260.3 442.7 260.5 443.0 260.1 443.3 262.1 443.6 264.9 443.9 266.5 444.2 268.4 444.5 270.5 444.8 273.2 445.1 272.2 445.4 274.6 445.7 279.8 446.0 281.0 446.3 280.2 446.6 284.3 446.9 281.9 447.2 283.1 447.5 280.7 447.8 284.6 448.1 282.6 448.4 283.5 448.7 281.7 449.0 279.4 449.3 278.1 449.6 278.1 449.9 274.3 450.2 272.7 450.5 271.4 450.8 271.0 451.1 269.7 451.4 270.0 451.7 265.8 452.0 267.1 452.3 263.3 452.6 264.6 452.9 263.1 453.2 265.0 453.5 262.5 453.8 260.2 454.1 261.2 454.4 260.1 454.7 258.5 455.0 257.9 455.3 256.3 455.6 261.7 455.9 257.0 456.2 257.9 456.5 254.1 456.8 253.8 457.1 255.0 457.4 254.7 457.7 256.1 458.0 253.0 458.3 255.4 458.6 256.9 458.9 253.1 459.2 256.1 459.5 253.3 459.8 255.6 460.1 255.9 460.4 258.4 460.7 255.0 461.0 256.8 461.3 258.7 461.6 255.6 461.9 258.1 462.2 257.3 462.5 258.2 462.8 261.0 463.1 261.7 463.4 265.4 463.7 264.2 464.0 264.8 464.3 263.2 464.6 263.6 464.9 265.1 465.2 262.0 465.5 269.2 465.8 266.6 466.1 267.2 466.4 269.6 466.7 273.2 467.0 275.3 467.3 274.4 467.6 277.4 467.9 278.3 468.2 278.5 468.5 282.0 468.8 283.4 469.1 282.5 469.4 288.2 469.7 285.3 470.0 289.4 470.3 288.4 470.6 289.7 470.9 290.5 471.2 293.2 471.5 290.3 471.8 292.0 472.1 294.5 472.4 290.4 472.7 290.8 473.0 291.1 473.3 288.2 473.6 288.8 473.9 285.9 474.2 287.0 474.5 284.8 474.8 282.1 475.1 284.8 475.4 281.4 475.7 280.3 476.0 278.5 476.3 278.6 476.6 278.6 476.9 278.4 477.2 279.2 477.5 274.6 477.8 275.5 478.1 277.3 478.4 275.1 478.7 274.8 479.0 276.1 479.3 273.5 479.6 273.2 479.9 271.8 480.2 274.3 480.5 272.7 480.8 269.5 481.1 271.2 481.4 268.2 481.7 271.6 482.0 270.8 482.3 269.4 482.6 269.0 482.9 266.8 483.2 271.1 483.5 269.9 483.8 269.9 484.1 271.9 484.4 270.0 484.7 270.6 485.0 271.0 485.3 270.4 485.6 277.1 485.9 273.5 486.2 274.0 486.5 276.7 486.8 270.9 487.1 276.7 487.4 277.5 487.7 276.8 488.0 279.9 488.3 276.8 488.6 280.9 488.9 283.1 489.2 279.0 489.5 281.1 489.8 284.1 490.1 285.2 490.4 285.2 490.7 288.1 491.0 289.4 491.3 288.4 491.6 292.2 491.9 292.2 492.2 292.9 492.5 294.5 492.8 302.1 493.1 302.4 493.4 307.9 493.7 304.6 494.0 308.5 494.3 311.7 494.6 313.0 494.9 315.9 495.2 317.2 495.5 317.6 495.8 316.4 496.1 319.9 496.4 325.3 496.7 324.6 497.0 326.2 497.3 323.5 497.6 324.1 497.9 322.6 498.2 323.6 498.5 321.6 498.8 320.4 499.1 320.3 499.4 313.7 499.7 313.5 500.0 307.3 500.3 308.3 500.6 302.8 500.9 300.4 501.2 297.8 501.5 297.4 501.8 292.2 502.1 289.0 502.4 285.9 502.7 286.5 503.0 283.4 503.3 283.0 503.6 282.7 503.9 282.8 504.2 279.6 504.5 280.8 504.8 281.6 505.1 275.4 505.4 279.1 505.7 279.5 506.0 274.2 506.3 275.3 506.6 271.3 506.9 273.3 507.2 271.4 507.5 271.7 507.8 269.1 508.1 268.6 508.4 268.6 508.7 267.6 509.0 267.3 509.3 267.5 509.6 265.6 509.9 266.8 510.2 267.5 510.5 262.8 510.8 266.6 511.1 265.0 511.4 264.3 511.7 263.9 512.0 264.7 512.3 265.0 512.6 266.8 512.9 264.4 513.2 268.2 513.5 265.5 513.8 268.1 514.1 269.0 514.4 265.6 514.7 269.6 515.0 271.7 515.3 267.8 515.6 269.9 515.9 269.1 516.2 269.8 516.5 269.7 516.8 269.6 517.1 272.0 517.4 272.6 517.7 271.6 518.0 274.3 518.3 274.0 518.6 273.9 518.9 272.0 519.2 276.7 519.5 276.4 519.8 271.4 520.1 273.6 520.4 275.2 520.7 278.5 521.0 279.9 521.3 277.3 521.6 279.2 521.9 281.1 522.2 276.6 522.5 282.3 522.8 280.4 523.1 282.5 523.4 282.5 523.7 279.2 524.0 280.3 524.3 284.5 524.6 285.4 524.9 284.4 525.2 290.1 525.5 284.9 525.8 281.8 526.1 285.6 526.4 286.5 526.7 286.9 527.0 292.3 527.3 289.8 527.6 292.1 527.9 290.5 528.2 287.5 528.5 292.4 528.8 287.4 529.1 289.5 529.4 284.6 529.7 289.1 530.0 287.5 530.3 290.4 530.6 296.3 530.9 298.6 531.2 293.3 531.5 289.1 531.8 292.6 532.1 290.3 532.4 287.1 532.7 289.3 533.0 288.6 533.3 287.3 533.6 295.3 533.9 287.7 534.2 287.9 534.5 292.8 534.8 287.2 535.1 285.5 535.4 286.7 535.7 292.1 536.0 291.7 536.3 291.5 536.6 288.5 536.9 286.8 537.2 294.1 537.5 284.8 537.8 289.8 538.1 285.4 538.4 289.1 538.7 290.2 539.0 295.8 539.3 279.5 539.6 296.5 539.9 287.5 540.2 292.3 540.5 294.4 540.8 288.2 541.1 290.9 541.4 293.3 541.7 290.9 542.0 288.5 542.3 292.3 542.6 292.0 542.9 285.6 543.2 297.1 543.5 292.6 543.8 282.0 544.1 288.5 544.4 298.7 544.7 298.2 545.0 293.0 545.3 285.2 545.6 291.0 545.9 296.2 546.2 293.6 546.5 290.7 546.8 289.1 547.1 295.4 547.4 291.3 547.7 293.4 548.0 294.1 548.3 298.5 548.6 292.8 548.9 293.1 549.2 285.9 549.5 295.3 549.8 293.6 550.1 289.7 550.4 281.9 550.7 285.6 551.0 286.0 551.3 289.8 551.6 284.7 551.9 284.1 552.2 283.3 552.5 283.4 552.8 278.0 553.1 277.9 553.4 276.8 553.7 277.5 554.0 276.8 554.3 276.7 554.6 275.0 554.9 275.5 555.2 274.1 555.5 276.0 555.8 273.3 556.1 275.3 556.4 274.1 556.7 271.4 557.0 272.8 557.3 272.2 557.6 270.1 557.9 271.5 558.2 270.6 558.5 270.6 558.8 269.3 559.1 269.7 559.4 269.8 559.7 269.0 560.0 268.4 560.3 268.5 560.6 267.6 560.9 268.4 561.2 265.9 561.5 269.0 561.8 267.6 562.1 267.8 562.4 267.9 562.7 266.1 563.0 268.8 563.3 266.0 563.6 267.2 563.9 267.0 564.2 267.7 564.5 266.5 564.8 265.3 565.1 266.6 565.4 264.3 565.7 266.0 566.0 265.7 566.3 267.3 566.6 265.7 566.9 265.5 567.2 265.2 567.5 265.1 567.8 265.3 568.1 266.1 568.4 264.6 568.7 265.4 569.0 264.4 569.3 265.4 569.6 265.6 569.9 264.5 570.2 265.0 570.5 265.6 570.8 266.1 571.1 266.3 571.4 265.5 571.7 264.8 572.0 264.3 572.3 266.3 572.6 266.9 572.9 266.1 573.2 267.1 573.5 265.6 573.8 265.7 574.1 267.3 574.4 265.3 574.7 266.7 575.0 266.6 575.3 266.5 575.6 267.9 575.9 265.9 576.2 266.4 576.5 265.1 576.8 266.1 577.1 266.6 577.4 266.9 577.7 267.2 578.0 267.8 578.3 267.3 578.6 266.5 578.9 268.6 579.2 269.1 579.5 268.2 579.8 268.9 580.1 271.4 580.4 271.2 580.7 271.7 581.0 271.9 581.3 271.9 581.6 271.9 581.9 273.3 582.2 273.2 582.5 273.6 582.8 274.6 583.1 275.2 583.4 276.7 583.7 276.0 584.0 279.6 584.3 277.7 584.6 279.2 584.9 281.3 585.2 281.0 585.5 282.5 585.8 284.1 586.1 283.1 586.4 286.6 586.7 288.0 587.0 290.6 587.3 293.4 587.6 296.1 587.9 299.6 588.2 302.7 588.5 305.8 588.8 310.6 589.1 319.6 589.4 326.1 589.7 332.6 590.0 334.8 590.3 329.8 590.6 320.4 590.9 312.6 591.2 307.1 591.5 303.3 591.8 300.6 592.1 295.5 592.4 293.5 592.7 292.1 593.0 289.5 593.3 288.5 593.6 286.9 593.9 285.7 594.2 284.0 594.5 283.4 594.8 282.3 595.1 280.7 595.4 278.5 595.7 279.6 596.0 277.8 596.3 277.1 596.6 276.1 596.9 273.9 597.2 275.0 597.5 273.4 597.8 272.4 598.1 273.9 598.4 272.2 598.7 272.2 599.0 272.2 599.3 272.4 599.6 269.2 599.9 269.7 600.2 270.5 600.5 269.1 600.8 266.6 601.1 269.1 601.4 268.8 601.7 269.0 602.0 268.3 602.3 267.5 602.6 267.8 602.9 267.5 603.2 266.9 603.5 267.4 603.8 267.4 604.1 266.2 604.4 267.7 604.7 267.5 605.0 267.4 605.3 264.5 605.6 266.7 605.9 266.5 606.2 265.7 606.5 266.9 606.8 265.2 607.1 267.3 607.4 266.6 607.7 265.8 608.0 267.3 608.3 266.5 608.6 266.3 608.9 265.0 609.2 266.4 609.5 267.1 609.8 266.8 610.1 264.8 610.4 267.0 610.7 267.1 611.0 266.5 611.3 265.5 611.6 264.5 611.9 265.0 612.2 265.3 612.5 265.9 612.8 266.1 613.1 265.1 613.4 264.4 613.7 265.4 614.0 264.6 614.3 266.8 614.6 264.7 614.9 266.2 615.2 266.5 615.5 265.0 615.8 266.7 616.1 265.8 616.4 265.4 616.7 265.3 617.0 266.2 617.3 267.1 617.6 264.7 617.9 266.9 618.2 266.3 618.5 265.9 618.8 266.6 619.1 266.7 619.4 266.8 619.7 267.6 620.0 266.4 620.3 268.8 620.6 268.1 620.9 267.0 621.2 266.0 621.5 267.7 621.8 267.5 622.1 268.6 622.4 268.8 622.7 270.0 623.0 268.6 623.3 269.6 623.6 268.9 623.9 269.3 624.2 271.3 624.5 270.3 624.8 270.8 625.1 271.1 625.4 272.1 625.7 272.8 626.0 272.8 626.3 272.5 626.6 274.3 626.9 274.0 627.2 275.0 627.5 276.1 627.8 276.8 628.1 275.4 628.4 279.3 628.7 279.4 629.0 281.3 629.3 282.7 629.6 281.0 629.9 282.4 630.2 284.3 630.5 286.0 630.8 286.2 631.1 287.6 631.4 290.1 631.7 289.9 632.0 292.2 632.3 294.3 632.6 294.7 632.9 297.0 633.2 297.9 633.5 298.4 633.8 301.0 634.1 303.2 634.4 305.2 634.7 307.6 635.0 310.3 635.3 313.4 635.6 317.6 635.9 321.7 636.2 326.3 636.5 329.7 636.8 331.3 637.1 332.3 637.4 326.4 637.7 323.2 638.0 316.1 638.3 312.0 638.6 309.5 638.9 305.6 639.2 304.1 639.5 299.5 639.8 297.5 640.1 294.9 640.4 293.3 640.7 291.2 641.0 289.6 641.3 288.5 641.6 288.0 641.9 286.0 642.2 284.7 642.5 283.3 642.8 282.0 643.1 280.5 643.4 280.1 643.7 280.3 644.0 278.3 644.3 279.9 644.6 278.7 644.9 277.9 645.2 277.8 645.5 278.4 645.8 277.9 646.1 277.5 646.4 278.5 646.7 278.7 647.0 275.6 647.3 277.2 647.6 275.8 647.9 275.2 648.2 275.9 648.5 277.1 648.8 276.1 649.1 275.9 649.4 277.5 649.7 276.8 650.0 276.3 650.3 277.9 650.6 276.8 650.9 275.9 651.2 275.6 651.5 276.2 651.8 276.7 652.1 277.4 652.4 277.3 652.7 276.8 653.0 275.8 653.3 277.5 653.6 276.9 653.9 276.0 654.2 275.9 654.5 277.1 654.8 277.2 655.1 277.7 655.4 276.1 655.7 278.7 656.0 275.7 656.3 277.2 656.6 278.4 656.9 278.3 657.2 276.8 657.5 278.1 657.8 278.7 658.1 278.4 658.4 277.1 658.7 279.4 659.0 276.8 659.3 278.3 659.6 277.5 659.9 278.1 660.2 278.3 660.5 279.0 660.8 277.7 661.1 279.0 661.4 279.9 661.7 279.0 662.0 279.5 662.3 279.5 662.6 278.6 662.9 279.0 663.2 279.4 663.5 279.9 663.8 281.2 664.1 281.0 664.4 279.4 664.7 279.5 665.0 279.1 665.3 278.2 665.6 281.2 665.9 280.7 666.2 278.8 666.5 280.4 666.8 282.4 667.1 281.0 667.4 281.1 667.7 281.0 668.0 280.3 668.3 280.1 668.6 280.5 668.9 281.4 669.2 281.2 669.5 282.1 669.8 283.0 670.1 282.2 670.4 282.5 670.7 281.7 671.0 281.0 671.3 283.9 671.6 282.9 671.9 283.4 672.2 282.2 672.5 281.3 672.8 283.8 673.1 281.2 673.4 282.9 673.7 282.7 674.0 283.5 674.3 284.1 674.6 284.2 674.9 282.0 675.2 284.7 675.5 282.5 675.8 284.7 676.1 284.0 676.4 283.6 676.7 284.2 677.0 283.8 677.3 285.0 677.6 286.0 677.9 286.1 678.2 285.7 678.5 286.8 678.8 286.5 679.1 288.1 679.4 287.0 679.7 286.4 680.0 286.9 680.3 286.7 680.6 287.4 680.9 287.8 681.2 288.7 681.5 289.1 681.8 288.8 682.1 289.4 682.4 288.7 682.7 289.2 683.0 287.9 683.3 289.6 683.6 290.1 683.9 292.9 684.2 290.0 684.5 291.5 684.8 291.5 685.1 290.8 685.4 292.6 685.7 292.7 686.0 291.9 686.3 291.5 686.6 293.7 686.9 293.0 687.2 295.1 687.5 294.7 687.8 295.7 688.1 295.4 688.4 297.3 688.7 297.0 689.0 298.0 689.3 297.3 689.6 296.7 689.9 296.7 690.2 297.8 690.5 298.8 690.8 298.4 691.1 301.2 691.4 299.5 691.7 300.3 692.0 300.3 692.3 299.6 692.6 301.8 692.9 301.8 693.2 302.3 693.5 301.1 693.8 302.2 694.1 302.5 694.4 303.8 694.7 302.0 695.0 304.0 695.3 304.8 695.6 303.8 695.9 303.8" fill="none" stroke="#f00" stroke-width="1.8" stroke-linejoin="round"/>
<path d="M375.8 224.8L376.1 223.2 376.4 226.7 376.7 229.5 377.0 232.9 377.3 229.3 377.6 226.8 377.9 226.0 378.2 234.3 378.5 240.0 378.8 233.2 379.1 224.7 379.4 226.8 379.7 244.5 380.0 236.0 380.3 223.4 380.6 236.0 380.9 229.5 381.2 234.4 381.5 236.5 381.8 236.1 382.1 246.2 382.4 243.1 382.7 240.6 383.0 248.9 383.3 253.0 383.6 236.9 383.9 247.8 384.2 243.9 384.5 250.7 384.8 244.1 385.1 254.5 385.4 255.3 385.7 254.7 386.0 250.8 386.3 256.6 386.6 253.0 386.9 252.4 387.2 264.8 387.5 256.7 387.8 273.9 388.1 272.0 388.4 254.3 388.7 271.5 389.0 263.1 389.3 272.3 389.6 273.7 389.9 260.7 390.2 274.2 390.5 275.2 390.8 284.9 391.1 271.1 391.4 285.7 391.7 274.0 392.0 280.5 392.3 278.1 392.6 295.3 392.9 290.3 393.2 304.5 393.5 293.2 393.8 295.8 394.1 297.0 394.4 288.1 394.7 293.2 395.0 304.5 395.3 293.7 395.6 299.5 395.9 299.8 396.2 306.2 396.5 301.3 396.8 304.8 397.1 309.5 397.4 310.4 397.7 305.4 398.0 319.2 398.3 305.1 398.6 306.8 398.9 306.8 399.2 322.8 399.5 313.2 399.8 308.0 400.1 305.6 400.4 314.5 400.7 302.6 401.0 299.0 401.3 308.4 401.6 294.7 401.9 297.3 402.2 296.4 402.5 291.4 402.8 291.2 403.1 296.2 403.4 284.4 403.7 278.3 404.0 273.2 404.3 277.9 404.6 274.4 404.9 274.1 405.2 268.5 405.5 266.0 405.8 262.9 406.1 261.6 406.4 262.3 406.7 259.4 407.0 260.2 407.3 265.3 407.6 262.0 407.9 258.5 408.2 269.2 408.5 268.8 408.8 269.5 409.1 276.9 409.4 278.6 409.7 280.5 410.0 283.4 410.3 285.3 410.6 291.5 410.9 298.3 411.2 297.7 411.5 304.1 411.8 313.3 412.1 305.7 412.4 314.9 412.7 316.0 413.0 315.7 413.3 318.2 413.6 324.7 413.9 328.2 414.2 324.1 414.5 326.8 414.8 329.1 415.1 324.8 415.4 325.2 415.7 319.5 416.0 315.9 416.3 319.9 416.6 308.6 416.9 301.6 417.2 301.4 417.5 288.4 417.8 289.3 418.1 294.2 418.4 291.5 418.7 295.4 419.0 284.5 419.3 274.1 419.6 293.1 419.9 286.6 420.2 272.4 420.5 285.9 420.8 276.9 421.1 265.0 421.4 272.8 421.7 272.0 422.0 284.6 422.3 270.7 422.6 274.7 422.9 275.8 423.2 276.8 423.5 275.4 423.8 284.2 424.1 291.6 424.4 291.2 424.7 284.4 425.0 285.5 425.3 295.5 425.6 292.9 425.9 295.5 426.2 291.5 426.5 315.2 426.8 311.7 427.1 303.7 427.4 317.3 427.7 322.7 428.0 305.6 428.3 318.7 428.6 322.7 428.9 331.1 429.2 330.1 429.5 332.3 429.8 335.7 430.1 347.1 430.4 350.3 430.7 339.4 431.0 338.8 431.3 355.6 431.6 339.8 431.9 340.9 432.2 341.5 432.5 340.4 432.8 338.8 433.1 332.0 433.4 322.6 433.7 323.0 434.0 317.5 434.3 318.9 434.6 308.6 434.9 301.3 435.2 300.2 435.5 306.1 435.8 297.8 436.1 291.1 436.4 293.7 436.7 293.6 437.0 295.6 437.3 286.9 437.6 290.9 437.9 290.1 438.2 284.0 438.5 284.9 438.8 291.1 439.1 290.8 439.4 287.8 439.7 286.3 440.0 289.9 440.3 286.1 440.6 287.4 440.9 285.7 441.2 290.4 441.5 291.6 441.8 304.5 442.1 294.4 442.4 301.8 442.7 303.7 443.0 299.3 443.3 306.4 443.6 295.3 443.9 306.7 444.2 312.4 444.5 302.5 444.8 310.3 445.1 322.0 445.4 319.8 445.7 319.5 446.0 325.0 446.3 326.8 446.6 333.9 446.9 334.7 447.2 333.2 447.5 332.7 447.8 335.3 448.1 339.3 448.4 332.3 448.7 328.6 449.0 320.2 449.3 310.3 449.6 307.3 449.9 308.4 450.2 303.7 450.5 297.3 450.8 292.2 451.1 296.1 451.4 292.1 451.7 290.0 452.0 288.3 452.3 289.0 452.6 287.9 452.9 289.5 453.2 289.1 453.5 291.5 453.8 292.1 454.1 291.6 454.4 296.7 454.7 302.9 455.0 303.9 455.3 310.9 455.6 317.8 455.9 316.1 456.2 317.9 456.5 333.1 456.8 333.1 457.1 338.4 457.4 332.9 457.7 342.5 458.0 334.3 458.3 324.4 458.6 316.2 458.9 311.8 459.2 307.0 459.5 303.0 459.8 296.8 460.1 301.9 460.4 295.4 460.7 294.7 461.0 294.8 461.3 287.4 461.6 298.1 461.9 296.8 462.2 298.8 462.5 301.9 462.8 300.5 463.1 308.5 463.4 306.5 463.7 309.6 464.0 313.7 464.3 320.7 464.6 325.4 464.9 322.7 465.2 319.5 465.5 325.7 465.8 315.9 466.1 319.2 466.4 311.3 466.7 305.7 467.0 303.0 467.3 303.9 467.6 302.7 467.9 297.2 468.2 299.6 468.5 303.2 468.8 297.1 469.1 295.8 469.4 298.0 469.7 298.9 470.0 303.1 470.3 304.9 470.6 305.7 470.9 314.0 471.2 307.9 471.5 314.5 471.8 326.3 472.1 325.6 472.4 325.6 472.7 325.9 473.0 328.7 473.3 323.8 473.6 320.1 473.9 313.6 474.2 312.9 474.5 307.5 474.8 303.9 475.1 300.3 475.4 298.8 475.7 295.8 476.0 296.9 476.3 291.1 476.6 292.7 476.9 296.1 477.2 291.4 477.5 292.8 477.8 291.8 478.1 291.4 478.4 289.5 478.7 284.7 479.0 286.2 479.3 285.3 479.6 282.7 479.9 284.0 480.2 282.2 480.5 281.0 480.8 283.7 481.1 282.9 481.4 281.4 481.7 280.7 482.0 281.1 482.3 281.1 482.6 280.9 482.9 281.4 483.2 280.7 483.5 282.1 483.8 282.3 484.1 282.1 484.4 280.5 484.7 280.8 485.0 282.8 485.3 281.9 485.6 282.5 485.9 278.7 486.2 278.7 486.5 284.3 486.8 284.7 487.1 287.0 487.4 286.3 487.7 286.0 488.0 286.1 488.3 284.2 488.6 288.7 488.9 286.8 489.2 289.2 489.5 289.3 489.8 290.1 490.1 291.7 490.4 290.2 490.7 291.4 491.0 291.8 491.3 293.9 491.6 298.9 491.9 297.1 492.2 301.5 492.5 302.7 492.8 304.4 493.1 306.4 493.4 305.3 493.7 309.6 494.0 313.6 494.3 311.5 494.6 314.5 494.9 315.1 495.2 318.4 495.5 317.6 495.8 323.5 496.1 321.3 496.4 320.3 496.7 326.8 497.0 326.0 497.3 325.5 497.6 325.6 497.9 323.7 498.2 323.2 498.5 323.8 498.8 322.7 499.1 321.1 499.4 318.1 499.7 314.9 500.0 313.3 500.3 313.3 500.6 311.6 500.9 306.4 501.2 304.0 501.5 304.8 501.8 301.9 502.1 300.1 502.4 295.1 502.7 295.4 503.0 294.1 503.3 294.5 503.6 290.4 503.9 294.6 504.2 292.2 504.5 291.6 504.8 288.0 505.1 289.2 505.4 290.8 505.7 285.1 506.0 287.5 506.3 287.5 506.6 284.4 506.9 286.3 507.2 283.7 507.5 285.8 507.8 284.0 508.1 283.0 508.4 285.5 508.7 283.0 509.0 283.4 509.3 278.8 509.6 279.3 509.9 281.6 510.2 281.4 510.5 279.6 510.8 280.8 511.1 277.6 511.4 279.7 511.7 277.4 512.0 280.0 512.3 278.8 512.6 278.9 512.9 280.6 513.2 284.2 513.5 280.1 513.8 281.6 514.1 285.3 514.4 283.8 514.7 288.5 515.0 287.0 515.3 288.0 515.6 289.6 515.9 293.3 516.2 292.7 516.5 293.9 516.8 294.8 517.1 293.1 517.4 295.7 517.7 301.1 518.0 301.4 518.3 302.4 518.6 304.4 518.9 304.5 519.2 308.1 519.5 308.4 519.8 313.0 520.1 313.5 520.4 316.8 520.7 320.4 521.0 321.4 521.3 325.5 521.6 327.6 521.9 330.0 522.2 334.0 522.5 331.5 522.8 333.6 523.1 339.9 523.4 342.7 523.7 346.2 524.0 344.7 524.3 344.2 524.6 339.6 524.9 340.1 525.2 337.5 525.5 332.2 525.8 330.2 526.1 329.0 526.4 327.2 526.7 319.2 527.0 322.1 527.3 320.4 527.6 317.7 527.9 316.4 528.2 314.8 528.5 310.4 528.8 311.0 529.1 308.1 529.4 305.3 529.7 305.6 530.0 306.4 530.3 300.0 530.6 298.5 530.9 297.5 531.2 302.8 531.5 298.1 531.8 297.6 532.1 295.5 532.4 294.4 532.7 291.7 533.0 294.7 533.3 294.0 533.6 289.4 533.9 290.3 534.2 290.1 534.5 290.6 534.8 290.3 535.1 291.2 535.4 291.0 535.7 289.8 536.0 289.7 536.3 284.9 536.6 285.4 536.9 287.8 537.2 285.9 537.5 285.1 537.8 281.3 538.1 281.2 538.4 285.3 538.7 284.4 539.0 283.1 539.3 282.7 539.6 280.4 539.9 283.9 540.2 285.0 540.5 286.0 540.8 283.4 541.1 283.0 541.4 281.7 541.7 285.8 542.0 286.8 542.3 283.1 542.6 284.9 542.9 284.9 543.2 284.0 543.5 281.1 543.8 285.1 544.1 287.1 544.4 283.9 544.7 285.3 545.0 281.5 545.3 289.6 545.6 288.6 545.9 288.2 546.2 288.0 546.5 287.7 546.8 288.9 547.1 288.8 547.4 289.2 547.7 289.7 548.0 290.2 548.3 292.8 548.6 287.9 548.9 291.0 549.2 289.7 549.5 289.0 549.8 287.1 550.1 292.3 550.4 289.8 550.7 290.4 551.0 292.6 551.3 290.1 551.6 292.2 551.9 292.2 552.2 293.8 552.5 294.3 552.8 291.2 553.1 294.4 553.4 292.7 553.7 293.2 554.0 292.7 554.3 294.4 554.6 291.1 554.9 293.6 555.2 295.2 555.5 292.7 555.8 296.6 556.1 291.9 556.4 293.5 556.7 292.3 557.0 292.0 557.3 291.2 557.6 292.1 557.9 292.9 558.2 291.6 558.5 294.4 558.8 295.5 559.1 290.2 559.4 294.2 559.7 293.1 560.0 293.1 560.3 296.9 560.6 294.7 560.9 293.2 561.2 292.9 561.5 288.9 561.8 293.8 562.1 291.2 562.4 292.8 562.7 292.6 563.0 294.0 563.3 295.8 563.6 294.0 563.9 294.4 564.2 291.8 564.5 293.0 564.8 293.5 565.1 289.7 565.4 295.6 565.7 290.8 566.0 289.9 566.3 294.8 566.6 295.6 566.9 290.8 567.2 291.0 567.5 297.3 567.8 292.3 568.1 288.8 568.4 291.2 568.7 295.7 569.0 293.6 569.3 293.9 569.6 294.8 569.9 294.0 570.2 292.5 570.5 290.5 570.8 294.2 571.1 291.8 571.4 293.8 571.7 297.1 572.0 295.3 572.3 294.7 572.6 295.0 572.9 296.4 573.2 296.9 573.5 293.4 573.8 296.2 574.1 299.1 574.4 297.7 574.7 295.4 575.0 295.8 575.3 293.8 575.6 296.2 575.9 300.7 576.2 298.2 576.5 297.2 576.8 298.1 577.1 299.3 577.4 299.7 577.7 299.7 578.0 299.5 578.3 302.4 578.6 304.4 578.9 301.3 579.2 301.9 579.5 305.3 579.8 301.4 580.1 303.4 580.4 304.3 580.7 305.8 581.0 305.6 581.3 305.2 581.6 307.8 581.9 305.8 582.2 305.4 582.5 305.5 582.8 310.9 583.1 307.3 583.4 311.6 583.7 312.7 584.0 313.6 584.3 312.6 584.6 312.7 584.9 314.5 585.2 314.1 585.5 313.7 585.8 318.8 586.1 316.0 586.4 321.4 586.7 320.0 587.0 319.2 587.3 321.7 587.6 324.3 587.9 321.2 588.2 323.3 588.5 324.5 588.8 327.8 589.1 329.3 589.4 329.5 589.7 328.7 590.0 329.1 590.3 331.5 590.6 330.6 590.9 327.7 591.2 323.8 591.5 325.6 591.8 323.5 592.1 322.0 592.4 323.3 592.7 320.8 593.0 316.7 593.3 315.8 593.6 318.9 593.9 316.0 594.2 316.2 594.5 313.7 594.8 311.4 595.1 312.7 595.4 314.1 595.7 311.3 596.0 308.1 596.3 308.9 596.6 308.0 596.9 308.6 597.2 309.5 597.5 310.7 597.8 307.2 598.1 305.7 598.4 306.1 598.7 305.5 599.0 304.4 599.3 304.7 599.6 304.2 599.9 301.9 600.2 304.4 600.5 302.5 600.8 301.1 601.1 303.3 601.4 301.3 601.7 304.8 602.0 302.3 602.3 301.4 602.6 299.7 602.9 300.1 603.2 302.0 603.5 299.2 603.8 301.5 604.1 296.5 604.4 300.3 604.7 301.2 605.0 300.3 605.3 299.6 605.6 301.2 605.9 297.9 606.2 297.6 606.5 299.3 606.8 301.0 607.1 299.6 607.4 298.5 607.7 299.2 608.0 299.4 608.3 296.4 608.6 293.6 608.9 296.6 609.2 295.7 609.5 297.2 609.8 296.1 610.1 296.6 610.4 298.8 610.7 298.1 611.0 297.9 611.3 300.7 611.6 297.1 611.9 297.2 612.2 300.0 612.5 296.0 612.8 295.1 613.1 300.1 613.4 298.5 613.7 299.0 614.0 299.1 614.3 299.7 614.6 297.5 614.9 298.3 615.2 296.6 615.5 298.9 615.8 299.3 616.1 298.3 616.4 300.4 616.7 304.5 617.0 297.7 617.3 301.3 617.6 301.7 617.9 302.2 618.2 299.3 618.5 302.9 618.8 302.3 619.1 301.2 619.4 301.1 619.7 302.4 620.0 303.8 620.3 304.0 620.6 306.8 620.9 302.6 621.2 304.7 621.5 303.3 621.8 305.9 622.1 305.3 622.4 304.5 622.7 303.8 623.0 305.4 623.3 307.7 623.6 310.4 623.9 309.8 624.2 307.1 624.5 309.0 624.8 310.5 625.1 310.9 625.4 311.9 625.7 313.8 626.0 313.5 626.3 312.7 626.6 311.4 626.9 314.9 627.2 313.5 627.5 317.0 627.8 318.8 628.1 317.0 628.4 320.0 628.7 320.7 629.0 325.5 629.3 324.1 629.6 321.1 629.9 326.4 630.2 327.9 630.5 328.3 630.8 329.1 631.1 331.4 631.4 331.4 631.7 330.2 632.0 326.5 632.3 326.1 632.6 322.1 632.9 320.3 633.2 320.3 633.5 318.1 633.8 318.0 634.1 321.8 634.4 317.2 634.7 313.7 635.0 310.4 635.3 311.6 635.6 309.5 635.9 307.2 636.2 311.2 636.5 308.2 636.8 308.9 637.1 312.7 637.4 307.2 637.7 306.4 638.0 306.4 638.3 305.0 638.6 303.6 638.9 304.3 639.2 306.3 639.5 303.5 639.8 301.3 640.1 301.2 640.4 301.3 640.7 302.8 641.0 303.3 641.3 303.1 641.6 304.1 641.9 301.5 642.2 303.1 642.5 302.1 642.8 302.6 643.1 298.2 643.4 303.4 643.7 298.6 644.0 299.3 644.3 302.6 644.6 300.7 644.9 304.5 645.2 301.9 645.5 300.2 645.8 302.4 646.1 301.8 646.4 305.4 646.7 305.9 647.0 304.8 647.3 303.3 647.6 304.5 647.9 306.6 648.2 303.9 648.5 304.4 648.8 307.6 649.1 307.9 649.4 306.7 649.7 307.1 650.0 304.7 650.3 310.5 650.6 308.8 650.9 307.2 651.2 308.4 651.5 309.5 651.8 314.7 652.1 313.8 652.4 311.1 652.7 317.3 653.0 317.2 653.3 313.8 653.6 311.7 653.9 318.5 654.2 316.4 654.5 317.6 654.8 317.2 655.1 320.5 655.4 320.9 655.7 319.7 656.0 317.8 656.3 318.2 656.6 318.3 656.9 314.0 657.2 318.1 657.5 314.7 657.8 315.0 658.1 314.0 658.4 314.5 658.7 314.1 659.0 315.3 659.3 310.3 659.6 308.8 659.9 310.2 660.2 308.5 660.5 310.7 660.8 307.6 661.1 308.9 661.4 309.9 661.7 309.8 662.0 308.1 662.3 309.9 662.6 309.4 662.9 304.1 663.2 307.3 663.5 306.8 663.8 305.7 664.1 304.9 664.4 305.9 664.7 306.2 665.0 305.8 665.3 307.5 665.6 306.6 665.9 303.7 666.2 303.2 666.5 305.8 666.8 303.0 667.1 304.2 667.4 304.6 667.7 305.3 668.0 304.3 668.3 305.6 668.6 302.2 668.9 303.9 669.2 301.5 669.5 302.7 669.8 302.4 670.1 300.4 670.4 297.4 670.7 303.2 671.0 302.0 671.3 301.4 671.6 299.8 671.9 300.3 672.2 301.4 672.5 300.5 672.8 302.2 673.1 300.3 673.4 298.5 673.7 300.7 674.0 298.4 674.3 299.7 674.6 296.1 674.9 298.4 675.2 299.8 675.5 297.5 675.8 298.4 676.1 299.3 676.4 298.2 676.7 301.0 677.0 297.3 677.3 297.3 677.6 297.1 677.9 293.9 678.2 294.5 678.5 297.8 678.8 296.2 679.1 298.9 679.4 296.3 679.7 295.9 680.0 297.8 680.3 296.3 680.6 298.4 680.9 293.7 681.2 296.1 681.5 296.4 681.8 296.0 682.1 296.8 682.4 296.5 682.7 294.6 683.0 293.4 683.3 295.9 683.6 294.1 683.9 295.5 684.2 296.0 684.5 293.9 684.8 291.9 685.1 292.8 685.4 294.5 685.7 292.6 686.0 294.8 686.3 292.7 686.6 292.7 686.9 291.3 687.2 292.0 687.5 293.9 687.8 291.3 688.1 291.1 688.4 290.2 688.7 292.7 689.0 288.6 689.3 289.9 689.6 292.4 689.9 293.1 690.2 290.2 690.5 292.0 690.8 286.9 691.1 291.4 691.4 290.4 691.7 287.7 692.0 286.6 692.3 288.6 692.6 289.7 692.9 289.8 693.2 289.2 693.5 290.2 693.8 289.9 694.1 286.2 694.4 287.7 694.7 287.4 695.0 289.8 695.3 287.1 695.6 289.5 695.9 287.8" fill="none" stroke="#0f0" stroke-width="1.8" stroke-linejoin="round"/>
<path d="M375.8 258.4L376.1 264.4 376.4 235.1 376.7 253.0 377.0 262.1 377.3 265.6 377.6 261.9 377.9 269.0 378.2 261.8 378.5 265.0 378.8 263.7 379.1 256.2 379.4 259.2 379.7 269.2 380.0 263.9 380.3 278.4 380.6 280.1 380.9 285.2 381.2 274.0 381.5 285.6 381.8 271.3 382.1 273.7 382.4 281.8 382.7 285.1 383.0 273.9 383.3 275.0 383.6 291.7 383.9 285.2 384.2 301.9 384.5 298.6 384.8 300.5 385.1 302.4 385.4 309.9 385.7 305.4 386.0 316.9 386.3 308.5 386.6 313.5 386.9 313.2 387.2 324.9 387.5 323.8 387.8 320.2 388.1 342.9 388.4 329.2 388.7 334.1 389.0 340.9 389.3 353.7 389.6 343.7 389.9 352.7 390.2 351.3 390.5 342.8 390.8 360.5 391.1 363.4 391.4 355.3 391.7 355.6 392.0 339.2 392.3 331.3 392.6 328.8 392.9 325.3 393.2 313.7 393.5 309.5 393.8 303.8 394.1 295.1 394.4 291.1 394.7 290.0 395.0 283.2 395.3 290.9 395.6 289.2 395.9 302.7 396.2 310.2 396.5 316.2 396.8 322.1 397.1 331.9 397.4 337.6 397.7 347.0 398.0 350.6 398.3 362.6 398.6 361.1 398.9 366.5 399.2 366.2 399.5 372.0 399.8 359.3 400.1 362.6 400.4 368.4 400.7 357.2 401.0 351.7 401.3 356.9 401.6 351.1 401.9 354.5 402.2 341.9 402.5 345.4 402.8 345.6 403.1 345.2 403.4 330.3 403.7 340.3 404.0 325.4 404.3 319.4 404.6 318.3 404.9 318.7 405.2 313.4 405.5 312.1 405.8 308.8 406.1 305.5 406.4 302.1 406.7 304.4 407.0 295.8 407.3 296.7 407.6 300.6 407.9 302.4 408.2 304.5 408.5 312.7 408.8 318.5 409.1 321.5 409.4 332.4 409.7 338.0 410.0 341.9 410.3 342.7 410.6 347.6 410.9 348.6 411.2 355.3 411.5 356.7 411.8 362.9 412.1 363.6 412.4 370.4 412.7 371.7 413.0 372.0 413.3 363.5 413.6 361.1 413.9 368.1 414.2 360.3 414.5 361.0 414.8 356.3 415.1 351.4 415.4 351.4 415.7 346.0 416.0 342.8 416.3 332.4 416.6 345.7 416.9 333.8 417.2 337.4 417.5 330.6 417.8 334.1 418.1 325.6 418.4 324.3 418.7 322.4 419.0 316.2 419.3 316.3 419.6 318.4 419.9 318.7 420.2 313.7 420.5 334.3 420.8 315.0 421.1 319.9 421.4 337.5 421.7 320.0 422.0 329.8 422.3 330.6 422.6 326.8 422.9 321.0 423.2 321.7 423.5 332.5 423.8 336.6 424.1 322.6 424.4 338.1 424.7 335.2 425.0 346.6 425.3 344.5 425.6 341.0 425.9 345.7 426.2 351.0 426.5 361.0 426.8 372.0 427.1 359.5 427.4 359.9 427.7 364.9 428.0 362.3 428.3 367.2 428.6 366.9 428.9 365.7 429.2 362.3 429.5 368.6 429.8 372.0 430.1 369.9 430.4 372.0 430.7 372.0 431.0 370.4 431.3 372.0 431.6 365.4 431.9 372.0 432.2 372.0 432.5 365.0 432.8 362.3 433.1 363.8 433.4 362.1 433.7 352.5 434.0 347.3 434.3 346.9 434.6 340.1 434.9 330.1 435.2 333.5 435.5 332.6 435.8 323.5 436.1 331.3 436.4 324.2 436.7 329.3 437.0 318.4 437.3 319.6 437.6 316.6 437.9 325.0 438.2 323.6 438.5 323.0 438.8 321.9 439.1 319.7 439.4 319.2 439.7 314.3 440.0 318.0 440.3 317.1 440.6 317.9 440.9 317.2 441.2 321.7 441.5 320.9 441.8 319.3 442.1 323.2 442.4 323.3 442.7 322.7 443.0 324.7 443.3 324.9 443.6 323.7 443.9 326.0 444.2 330.3 444.5 331.5 444.8 332.8 445.1 332.0 445.4 334.3 445.7 336.6 446.0 338.8 446.3 337.7 446.6 338.4 446.9 342.5 447.2 341.6 447.5 341.3 447.8 340.9 448.1 340.8 448.4 343.6 448.7 341.8 449.0 338.6 449.3 335.9 449.6 338.8 449.9 337.0 450.2 334.8 450.5 332.6 450.8 326.9 451.1 326.3 451.4 327.8 451.7 325.4 452.0 325.4 452.3 323.5 452.6 322.7 452.9 323.8 453.2 321.7 453.5 321.7 453.8 321.4 454.1 320.7 454.4 321.5 454.7 321.2 455.0 316.5 455.3 317.6 455.6 316.5 455.9 318.1 456.2 314.9 456.5 317.1 456.8 316.6 457.1 316.0 457.4 313.3 457.7 314.0 458.0 312.4 458.3 314.3 458.6 314.9 458.9 311.0 459.2 311.9 459.5 312.7 459.8 312.1 460.1 315.0 460.4 312.6 460.7 313.3 461.0 311.4 461.3 315.7 461.6 314.0 461.9 315.4 462.2 314.9 462.5 312.2 462.8 313.7 463.1 314.9 463.4 318.4 463.7 317.8 464.0 320.1 464.3 320.9 464.6 321.8 464.9 323.9 465.2 323.8 465.5 322.1 465.8 324.7 466.1 329.2 466.4 326.2 466.7 331.0 467.0 332.5 467.3 330.3 467.6 333.2 467.9 332.2 468.2 337.3 468.5 337.0 468.8 338.4 469.1 342.0 469.4 344.2 469.7 346.3 470.0 349.8 470.3 351.5 470.6 353.0 470.9 357.5 471.2 361.7 471.5 360.0 471.8 360.5 472.1 361.5 472.4 365.0 472.7 364.6 473.0 365.5 473.3 362.7 473.6 363.7 473.9 362.8 474.2 364.7 474.5 361.2 474.8 355.9 475.1 358.0 475.4 356.5 475.7 354.2 476.0 345.4 476.3 347.1 476.6 345.5 476.9 342.7 477.2 339.2 477.5 334.8 477.8 335.2 478.1 334.1 478.4 334.3 478.7 333.2 479.0 330.7 479.3 331.1 479.6 327.1 479.9 326.5 480.2 326.4 480.5 326.2 480.8 323.8 481.1 325.2 481.4 323.0 481.7 320.1 482.0 320.8 482.3 318.6 482.6 317.8 482.9 316.5 483.2 320.2 483.5 319.1 483.8 315.0 484.1 318.9 484.4 318.5 484.7 316.6 485.0 318.0 485.3 320.8 485.6 318.1 485.9 318.6 486.2 320.0 486.5 317.3 486.8 317.4 487.1 317.8 487.4 320.4 487.7 322.5 488.0 320.6 488.3 320.5 488.6 323.7 488.9 323.6 489.2 325.9 489.5 325.6 489.8 326.4 490.1 327.4 490.4 328.4 490.7 327.8 491.0 328.4 491.3 333.4 491.6 336.8 491.9 335.2 492.2 332.6 492.5 336.7 492.8 340.2 493.1 337.8 493.4 341.5 493.7 343.6 494.0 344.8 494.3 347.0 494.6 351.9 494.9 351.7 495.2 354.0 495.5 358.9 495.8 356.9 496.1 357.1 496.4 362.5 496.7 366.1 497.0 364.7 497.3 366.0 497.6 364.6 497.9 365.8 498.2 369.9 498.5 369.9 498.8 368.7 499.1 365.9 499.4 363.5 499.7 361.6 500.0 358.8 500.3 358.6 500.6 353.3 500.9 350.5 501.2 349.1 501.5 345.9 501.8 342.1 502.1 340.2 502.4 337.4 502.7 333.0 503.0 334.9 503.3 333.9 503.6 333.6 503.9 334.0 504.2 332.4 504.5 334.7 504.8 332.3 505.1 332.4 505.4 332.3 505.7 331.3 506.0 332.2 506.3 332.1 506.6 331.6 506.9 329.4 507.2 328.8 507.5 329.1 507.8 329.8 508.1 326.8 508.4 328.2 508.7 327.6 509.0 328.2 509.3 327.7 509.6 330.3 509.9 329.7 510.2 330.4 510.5 327.5 510.8 327.8 511.1 328.7 511.4 331.8 511.7 332.1 512.0 328.9 512.3 331.2 512.6 333.9 512.9 329.6 513.2 331.3 513.5 334.1 513.8 333.8 514.1 331.9 514.4 336.3 514.7 336.1 515.0 336.4 515.3 334.2 515.6 336.5 515.9 339.4 516.2 338.9 516.5 340.0 516.8 339.1 517.1 342.5 517.4 340.7 517.7 343.3 518.0 343.5 518.3 342.7 518.6 347.5 518.9 344.7 519.2 346.8 519.5 349.5 519.8 348.6 520.1 349.4 520.4 353.3 520.7 354.2 521.0 355.7 521.3 358.2 521.6 362.0 521.9 359.1 522.2 364.4 522.5 362.0 522.8 362.3 523.1 359.0 523.4 361.2 523.7 364.2 524.0 364.7 524.3 362.5 524.6 363.9 524.9 364.3 525.2 361.4 525.5 359.0 525.8 359.0 526.1 359.0 526.4 358.8 526.7 358.3 527.0 354.5 527.3 354.7 527.6 352.9 527.9 352.1 528.2 352.4 528.5 351.5 528.8 347.7 529.1 346.5 529.4 345.4 529.7 344.8 530.0 344.3 530.3 344.1 530.6 343.0 530.9 341.5 531.2 340.8 531.5 342.0 531.8 345.0 532.1 341.6 532.4 341.1 532.7 340.1 533.0 338.8 533.3 341.4 533.6 337.4 533.9 335.9 534.2 335.0 534.5 336.6 534.8 334.3 535.1 334.1 535.4 333.6 535.7 332.5 536.0 334.4 536.3 331.2 536.6 336.8 536.9 328.9 537.2 330.7 537.5 332.6 537.8 333.0 538.1 331.6 538.4 332.4 538.7 332.1 539.0 332.0 539.3 332.7 539.6 332.2 539.9 331.7 540.2 331.8 540.5 333.5 540.8 332.2 541.1 333.6 541.4 335.4 541.7 334.0 542.0 335.6 542.3 333.5 542.6 335.0 542.9 335.8 543.2 335.8 543.5 336.7 543.8 338.5 544.1 336.3 544.4 336.2 544.7 338.1 545.0 335.8 545.3 338.4 545.6 340.6 545.9 339.3 546.2 340.6 546.5 340.9 546.8 342.7 547.1 342.2 547.4 342.2 547.7 337.5 548.0 342.2 548.3 344.5 548.6 343.6 548.9 343.1 549.2 345.8 549.5 343.4 549.8 344.4 550.1 346.0 550.4 344.2 550.7 345.1 551.0 344.6 551.3 342.5 551.6 343.1 551.9 342.9 552.2 341.9 552.5 344.0 552.8 341.7 553.1 340.1 553.4 338.3 553.7 339.2 554.0 341.0 554.3 337.9 554.6 338.8 554.9 337.7 555.2 335.6 555.5 334.3 555.8 336.0 556.1 332.2 556.4 335.1 556.7 331.9 557.0 334.5 557.3 332.1 557.6 332.0 557.9 333.1 558.2 329.5 558.5 330.6 558.8 329.5 559.1 330.2 559.4 330.0 559.7 328.9 560.0 328.3 560.3 327.0 560.6 328.1 560.9 326.5 561.2 326.7 561.5 326.5 561.8 324.0 562.1 324.2 562.4 326.1 562.7 325.6 563.0 327.3 563.3 321.7 563.6 325.5 563.9 326.7 564.2 325.1 564.5 326.0 564.8 324.7 565.1 324.5 565.4 325.8 565.7 322.5 566.0 321.0 566.3 324.9 566.6 324.3 566.9 324.3 567.2 324.5 567.5 325.0 567.8 323.3 568.1 324.7 568.4 324.4 568.7 322.2 569.0 323.8 569.3 324.4 569.6 322.9 569.9 325.7 570.2 323.8 570.5 325.5 570.8 326.6 571.1 322.4 571.4 322.8 571.7 325.8 572.0 324.8 572.3 326.0 572.6 328.0 572.9 324.9 573.2 327.1 573.5 325.6 573.8 325.3 574.1 327.2 574.4 327.1 574.7 328.5 575.0 327.6 575.3 328.7 575.6 328.4 575.9 325.4 576.2 327.6 576.5 328.0 576.8 330.1 577.1 327.6 577.4 329.8 577.7 329.4 578.0 327.7 578.3 330.7 578.6 332.4 578.9 331.4 579.2 333.9 579.5 333.6 579.8 334.1 580.1 333.5 580.4 334.6 580.7 336.1 581.0 336.0 581.3 334.8 581.6 336.9 581.9 338.4 582.2 340.1 582.5 340.3 582.8 338.2 583.1 341.4 583.4 338.7 583.7 340.8 584.0 341.3 584.3 345.5 584.6 345.0 584.9 345.2 585.2 344.6 585.5 348.1 585.8 346.7 586.1 348.5 586.4 350.2 586.7 348.8 587.0 350.8 587.3 347.8 587.6 352.5 587.9 350.0 588.2 354.1 588.5 354.9 588.8 356.0 589.1 359.4 589.4 352.7 589.7 357.4 590.0 356.2 590.3 357.7 590.6 356.5 590.9 355.4 591.2 353.6 591.5 352.3 591.8 352.8 592.1 348.8 592.4 351.6 592.7 348.1 593.0 348.7 593.3 345.4 593.6 347.0 593.9 345.1 594.2 345.7 594.5 345.4 594.8 341.9 595.1 341.9 595.4 341.2 595.7 342.1 596.0 337.1 596.3 339.1 596.6 337.4 596.9 334.8 597.2 335.4 597.5 334.1 597.8 336.1 598.1 332.4 598.4 334.8 598.7 331.9 599.0 333.0 599.3 328.9 599.6 329.7 599.9 330.5 600.2 328.3 600.5 326.8 600.8 328.7 601.1 329.4 601.4 327.8 601.7 327.0 602.0 327.6 602.3 326.0 602.6 327.7 602.9 327.8 603.2 324.0 603.5 327.3 603.8 326.6 604.1 325.8 604.4 326.3 604.7 327.2 605.0 327.8 605.3 327.2 605.6 324.2 605.9 326.5 606.2 321.8 606.5 325.6 606.8 325.2 607.1 325.5 607.4 322.6 607.7 326.0 608.0 325.6 608.3 324.0 608.6 321.5 608.9 324.1 609.2 322.3 609.5 321.2 609.8 322.4 610.1 327.0 610.4 321.3 610.7 323.0 611.0 323.9 611.3 325.1 611.6 322.2 611.9 322.3 612.2 325.2 612.5 324.4 612.8 326.0 613.1 322.6 613.4 324.3 613.7 326.0 614.0 325.0 614.3 323.3 614.6 325.4 614.9 322.6 615.2 324.5 615.5 327.0 615.8 327.4 616.1 326.9 616.4 327.5 616.7 324.5 617.0 326.0 617.3 328.8 617.6 331.0 617.9 328.6 618.2 326.9 618.5 327.3 618.8 331.0 619.1 331.3 619.4 328.4 619.7 330.9 620.0 333.4 620.3 334.0 620.6 331.7 620.9 332.9 621.2 334.5 621.5 332.8 621.8 332.7 622.1 334.8 622.4 338.4 622.7 338.9 623.0 338.7 623.3 337.0 623.6 336.6 623.9 338.9 624.2 341.4 624.5 343.9 624.8 342.0 625.1 344.5 625.4 342.8 625.7 343.4 626.0 347.6 626.3 347.0 626.6 348.3 626.9 347.6 627.2 353.3 627.5 350.4 627.8 354.2 628.1 352.9 628.4 355.7 628.7 359.5 629.0 359.1 629.3 360.2 629.6 362.7 629.9 363.5 630.2 366.0 630.5 362.8 630.8 368.0 631.1 366.9 631.4 365.9 631.7 368.8 632.0 368.8 632.3 367.7 632.6 368.3 632.9 363.9 633.2 362.0 633.5 361.9 633.8 362.7 634.1 360.1 634.4 357.6 634.7 355.2 635.0 354.9 635.3 355.5 635.6 351.9 635.9 350.8 636.2 351.3 636.5 350.6 636.8 348.8 637.1 349.8 637.4 347.0 637.7 344.3 638.0 341.5 638.3 345.7 638.6 342.9 638.9 342.9 639.2 342.4 639.5 343.0 639.8 341.9 640.1 341.3 640.4 339.7 640.7 338.4 641.0 338.6 641.3 336.4 641.6 337.7 641.9 338.3 642.2 337.3 642.5 336.0 642.8 334.0 643.1 333.6 643.4 333.4 643.7 333.6 644.0 334.5 644.3 334.3 644.6 334.2 644.9 334.6 645.2 331.4 645.5 332.4 645.8 333.3 646.1 333.5 646.4 331.2 646.7 330.9 647.0 333.5 647.3 332.7 647.6 332.2 647.9 330.9 648.2 329.8 648.5 331.1 648.8 331.5 649.1 331.6 649.4 332.1 649.7 330.9 650.0 332.5 650.3 330.1 650.6 331.1 650.9 330.6 651.2 327.9 651.5 328.6 651.8 329.7 652.1 330.8 652.4 331.0 652.7 332.5 653.0 330.6 653.3 330.1 653.6 331.1 653.9 328.9 654.2 330.4 654.5 329.2 654.8 330.9 655.1 329.8 655.4 330.2 655.7 333.8 656.0 332.6 656.3 334.7 656.6 331.4 656.9 330.9 657.2 330.0 657.5 331.2 657.8 328.7 658.1 331.5 658.4 330.6 658.7 329.5 659.0 328.9 659.3 330.3 659.6 331.2 659.9 331.8 660.2 329.5 660.5 332.0 660.8 332.6 661.1 335.6 661.4 333.1 661.7 334.1 662.0 331.9 662.3 333.2 662.6 332.4 662.9 332.5 663.2 334.8 663.5 334.0 663.8 336.8 664.1 335.0 664.4 336.0 664.7 333.9 665.0 334.6 665.3 337.5 665.6 335.9 665.9 339.2 666.2 336.5 666.5 336.8 666.8 341.5 667.1 336.5 667.4 338.7 667.7 340.7 668.0 341.2 668.3 339.1 668.6 344.4 668.9 341.0 669.2 339.2 669.5 343.9 669.8 342.3 670.1 343.5 670.4 345.0 670.7 342.9 671.0 343.6 671.3 344.9 671.6 346.7 671.9 343.9 672.2 348.4 672.5 347.2 672.8 345.4 673.1 347.6 673.4 348.9 673.7 350.4 674.0 350.4 674.3 351.3 674.6 349.9 674.9 351.8 675.2 347.2 675.5 353.3 675.8 352.2 676.1 355.2 676.4 352.5 676.7 353.1 677.0 354.4 677.3 356.1 677.6 355.8 677.9 357.3 678.2 356.2 678.5 358.1 678.8 361.1 679.1 359.1 679.4 358.4 679.7 355.5 680.0 358.9 680.3 359.7 680.6 357.9 680.9 359.8 681.2 354.9 681.5 357.1 681.8 356.6 682.1 358.6 682.4 356.3 682.7 355.8 683.0 359.1 683.3 354.4 683.6 356.9 683.9 357.4 684.2 354.9 684.5 353.4 684.8 354.0 685.1 353.0 685.4 352.2 685.7 353.2 686.0 352.4 686.3 356.7 686.6 353.5 686.9 351.4 687.2 351.7 687.5 353.0 687.8 352.0 688.1 350.0 688.4 348.6 688.7 352.2 689.0 349.3 689.3 349.4 689.6 350.9 689.9 348.9 690.2 350.4 690.5 347.8 690.8 348.3 691.1 347.5 691.4 350.8 691.7 345.3 692.0 347.0 692.3 345.8 692.6 345.8 692.9 344.8 693.2 345.3 693.5 348.2 693.8 348.5 694.1 345.2 694.4 344.2 694.7 345.2 695.0 348.2 695.3 345.6 695.6 342.4 695.9 346.8" fill="none" stroke="#00f" stroke-width="1.8" stroke-linejoin="round"/>
<text x="457.5" y="220.94" font-size="18" text-anchor="middle">7</text>
<text x="486.7" y="226.34" font-size="18" text-anchor="middle">8</text>
<text x="512.6" y="226.34" font-size="18" text-anchor="middle">9</text>
<text x="542.4" y="227.44" font-size="18" text-anchor="middle">10</text>
<text x="576.3" y="228.84" font-size="18" text-anchor="middle">11</text>
<text x="608.8" y="226.04" font-size="18" text-anchor="middle">12</text>
<path d="M375.7 372.3v-5M439.8 372.3v-5M503.9 372.3v-5M568 372.3v-5M632.1 372.3v-5M696.2 372.3v-5M407.75 372.3v-3M471.85 372.3v-3M535.95 372.3v-3M600.05 372.3v-3M664.15 372.3v-3M375.7 200.8v5M439.8 200.8v5M503.9 200.8v5M568 200.8v5M632.1 200.8v5M696.2 200.8v5M407.75 200.8v3M471.85 200.8v3M535.95 200.8v3M600.05 200.8v3M664.15 200.8v3M375.5 225.6h5M375.5 252.2h5M375.5 278.8h5M375.5 305.4h5M375.5 332h5M375.5 358.6h5M375.5 212.3h3M375.5 238.9h3M375.5 265.5h3M375.5 292.1h3M375.5 318.7h3M375.5 345.3h3M696.5 225.6h-5M696.5 252.2h-5M696.5 278.8h-5M696.5 305.4h-5M696.5 332h-5M696.5 358.6h-5M696.5 212.3h-3M696.5 238.9h-3M696.5 265.5h-3M696.5 292.1h-3M696.5 318.7h-3M696.5 345.3h-3" fill="none" stroke="#000" stroke-width="1.1"/>
<rect x="375.5" y="200.8" width="321" height="171.5" fill="none" stroke="#000" stroke-width="1.3"/>
<rect x="630.6" y="202.6" width="65.4" height="67.4" fill="#fff" stroke="#444" stroke-width="0.8"/>
<path d="M631.5 212.5h30.5" stroke="#000" stroke-width="1.5"/>
<text x="664.3" y="217.1" font-size="13">2mm</text>
<path d="M631.5 228.8h30.5" stroke="#f00" stroke-width="1.5"/>
<text x="664.3" y="233.4" font-size="13">3mm</text>
<path d="M631.5 245.1h30.5" stroke="#0f0" stroke-width="1.5"/>
<text x="664.3" y="249.7" font-size="13">4mm</text>
<path d="M631.5 261.4h30.5" stroke="#00f" stroke-width="1.5"/>
<text x="664.3" y="266" font-size="13">5mm</text>
<text x="368.8" y="230.07" font-size="12.5" text-anchor="end">0</text>
<text x="368.8" y="256.68" font-size="12.5" text-anchor="end">-20</text>
<text x="368.8" y="283.28" font-size="12.5" text-anchor="end">-40</text>
<text x="368.8" y="309.88" font-size="12.5" text-anchor="end">-60</text>
<text x="368.8" y="336.48" font-size="12.5" text-anchor="end">-80</text>
<text x="368.8" y="363.08" font-size="12.5" text-anchor="end">-100</text>
<text x="439.8" y="389.48" font-size="12.5" text-anchor="middle">2k</text>
<text x="503.9" y="389.48" font-size="12.5" text-anchor="middle">4k</text>
<text x="568" y="389.48" font-size="12.5" text-anchor="middle">6k</text>
<text x="632.1" y="389.48" font-size="12.5" text-anchor="middle">8k</text>
<text x="696.2" y="389.48" font-size="12.5" text-anchor="middle">10k</text>
<text x="341.5" y="274.2" font-size="13" text-anchor="middle" transform="rotate(-90 341.5 274.2)">CMW amplitude (dB)</text>
<text x="541" y="407.6" font-size="13" text-anchor="middle">Frequency (Hz)</text>
<text x="323" y="208.4" font-size="20" font-weight="bold">d</text>
<clipPath id="ce"><rect x="47.3" y="429.5" width="294.2" height="182.8"/></clipPath>
<g clip-path="url(#ce)"><path d="M67.7 601.1 72.3 598.7 77.0 596.2 81.6 593.6 86.3 591.1 90.9 588.4 95.5 585.8 100.2 583.1 104.8 580.4 109.5 577.7 114.1 574.9 118.7 572.1 123.4 569.3 128.0 566.4 132.7 563.5 137.3 560.6 141.9 557.6 146.6 554.7 151.2 551.6 155.9 548.6 160.5 545.5 165.1 542.3 169.8 539.2 174.4 536.0 179.1 532.8 183.7 529.5 188.3 526.2 193.0 522.9 197.6 519.5 202.2 516.2 206.9 512.7 211.5 509.3 216.2 505.8 220.8 502.3 225.4 498.7 230.1 495.1 234.7 491.5 239.4 487.9 244.0 484.2 248.6 480.5 253.3 476.7 257.9 472.9 262.6 469.1 267.2 465.3 271.8 461.4 276.5 457.5 281.1 453.6 285.8 449.6 290.4 445.6 295.0 441.5 299.7 437.5 304.3 433.4 309.0 429.2 313.6 425.0 318.2 420.8" fill="none" stroke="#000000" stroke-width="1.7"/><path d="M67.7 597.7 72.3 594.9 77.0 592.1 81.6 589.2 86.3 586.3 90.9 583.4 95.5 580.4 100.2 577.5 104.8 574.5 109.5 571.5 114.1 568.4 118.7 565.3 123.4 562.3 128.0 559.1 132.7 556.0 137.3 552.8 141.9 549.6 146.6 546.4 151.2 543.2 155.9 539.9 160.5 536.6 165.1 533.3 169.8 530.0 174.4 526.6 179.1 523.2 183.7 519.8 188.3 516.4 193.0 512.9 197.6 509.4 202.2 505.9 206.9 502.4 211.5 498.8 216.2 495.2 220.8 491.6 225.4 488.0 230.1 484.3 234.7 480.6 239.4 476.9 244.0 473.2 248.6 469.4 253.3 465.6 257.9 461.8 262.6 458.0 267.2 454.1 271.8 450.2 276.5 446.3 281.1 442.4 285.8 438.4 290.4 434.4 295.0 430.4 299.7 426.4 304.3 422.3 309.0 418.2" fill="none" stroke="#ff0000" stroke-width="1.7"/><path d="M67.7 594.3 72.3 591.2 77.0 588.2 81.6 585.1 86.3 582.0 90.9 578.8 95.5 575.7 100.2 572.5 104.8 569.3 109.5 566.1 114.1 562.8 118.7 559.6 123.4 556.3 128.0 552.9 132.7 549.6 137.3 546.3 141.9 542.9 146.6 539.5 151.2 536.0 155.9 532.6 160.5 529.1 165.1 525.6 169.8 522.1 174.4 518.6 179.1 515.0 183.7 511.4 188.3 507.8 193.0 504.2 197.6 500.5 202.2 496.8 206.9 493.1 211.5 489.4 216.2 485.7 220.8 481.9 225.4 478.1 230.1 474.3 234.7 470.4 239.4 466.6 244.0 462.7 248.6 458.8 253.3 454.9 257.9 450.9 262.6 446.9 267.2 442.9 271.8 438.9 276.5 434.9 281.1 430.8 285.8 426.7 290.4 422.6 295.0 418.5" fill="none" stroke="#00ff00" stroke-width="1.7"/><path d="M67.7 585.3 72.3 581.8 77.0 578.4 81.6 574.9 86.3 571.4 90.9 567.9 95.5 564.3 100.2 560.8 104.8 557.2 109.5 553.7 114.1 550.1 118.7 546.5 123.4 542.9 128.0 539.3 132.7 535.6 137.3 532.0 141.9 528.3 146.6 524.7 151.2 521.0 155.9 517.3 160.5 513.6 165.1 509.8 169.8 506.1 174.4 502.3 179.1 498.6 183.7 494.8 188.3 491.0 193.0 487.2 197.6 483.4 202.2 479.6 206.9 475.7 211.5 471.9 216.2 468.0 220.8 464.1 225.4 460.2 230.1 456.3 234.7 452.4 239.4 448.5 244.0 444.5 248.6 440.6 253.3 436.6 257.9 432.6 262.6 428.6 267.2 424.6 271.8 420.6" fill="none" stroke="#0000ff" stroke-width="1.7"/><path d="M67.7 571.3 72.3 567.1 77.0 563.0 81.6 558.9 86.3 554.8 90.9 550.7 95.5 546.6 100.2 542.5 104.8 538.5 109.5 534.4 114.1 530.4 118.7 526.4 123.4 522.4 128.0 518.4 132.7 514.4 137.3 510.5 141.9 506.6 146.6 502.6 151.2 498.7 155.9 494.8 160.5 490.9 165.1 487.1 169.8 483.2 174.4 479.4 179.1 475.6 183.7 471.8 188.3 468.0 193.0 464.2 197.6 460.4 202.2 456.7 206.9 452.9 211.5 449.2 216.2 445.5 220.8 441.8 225.4 438.1 230.1 434.4 234.7 430.8 239.4 427.2 244.0 423.5 248.6 419.9" fill="none" stroke="#00ffff" stroke-width="1.7"/><rect x="65.2" y="595.5" width="5" height="5" fill="none" stroke="#000000" stroke-width="1.2"/><rect x="128.5" y="565.8" width="5" height="5" fill="none" stroke="#000000" stroke-width="1.2"/><rect x="165.6" y="542.6" width="5" height="5" fill="none" stroke="#000000" stroke-width="1.2"/><rect x="191.9" y="518.6" width="5" height="5" fill="none" stroke="#000000" stroke-width="1.2"/><rect x="212.3" y="502.3" width="5" height="5" fill="none" stroke="#000000" stroke-width="1.2"/><rect x="228.9" y="489.4" width="5" height="5" fill="none" stroke="#000000" stroke-width="1.2"/><rect x="243.0" y="479.0" width="5" height="5" fill="none" stroke="#000000" stroke-width="1.2"/><rect x="255.2" y="469.4" width="5" height="5" fill="none" stroke="#000000" stroke-width="1.2"/><rect x="266.0" y="460.8" width="5" height="5" fill="none" stroke="#000000" stroke-width="1.2"/><rect x="275.6" y="453.2" width="5" height="5" fill="none" stroke="#000000" stroke-width="1.2"/><rect x="284.3" y="446.1" width="5" height="5" fill="none" stroke="#000000" stroke-width="1.2"/><rect x="292.3" y="440.0" width="5" height="5" fill="none" stroke="#000000" stroke-width="1.2"/><rect x="299.6" y="433.9" width="5" height="5" fill="none" stroke="#000000" stroke-width="1.2"/><rect x="306.3" y="428.7" width="5" height="5" fill="none" stroke="#000000" stroke-width="1.2"/><circle cx="67.7" cy="596.8" r="2.7" fill="none" stroke="#ff0000" stroke-width="1.2"/><circle cx="131.0" cy="559.0" r="2.7" fill="none" stroke="#ff0000" stroke-width="1.2"/><circle cx="168.1" cy="533.8" r="2.7" fill="none" stroke="#ff0000" stroke-width="1.2"/><circle cx="194.4" cy="512.2" r="2.7" fill="none" stroke="#ff0000" stroke-width="1.2"/><circle cx="214.8" cy="495.0" r="2.7" fill="none" stroke="#ff0000" stroke-width="1.2"/><circle cx="231.4" cy="482.1" r="2.7" fill="none" stroke="#ff0000" stroke-width="1.2"/><circle cx="245.5" cy="469.7" r="2.7" fill="none" stroke="#ff0000" stroke-width="1.2"/><circle cx="257.7" cy="459.9" r="2.7" fill="none" stroke="#ff0000" stroke-width="1.2"/><circle cx="268.5" cy="452.7" r="2.7" fill="none" stroke="#ff0000" stroke-width="1.2"/><circle cx="278.1" cy="445.9" r="2.7" fill="none" stroke="#ff0000" stroke-width="1.2"/><circle cx="286.8" cy="439.1" r="2.7" fill="none" stroke="#ff0000" stroke-width="1.2"/><circle cx="294.8" cy="431.9" r="2.7" fill="none" stroke="#ff0000" stroke-width="1.2"/><path d="M67.7 588.1L71.5 594.9L63.9 594.9Z" fill="none" stroke="#00ff00" stroke-width="1.2"/><path d="M131.0 548.4L134.8 555.2L127.2 555.2Z" fill="none" stroke="#00ff00" stroke-width="1.2"/><path d="M168.1 520.2L171.9 527.0L164.3 527.0Z" fill="none" stroke="#00ff00" stroke-width="1.2"/><path d="M194.4 498.6L198.2 505.4L190.6 505.4Z" fill="none" stroke="#00ff00" stroke-width="1.2"/><path d="M214.8 481.2L218.6 488.0L211.0 488.0Z" fill="none" stroke="#00ff00" stroke-width="1.2"/><path d="M231.4 467.2L235.2 474.0L227.6 474.0Z" fill="none" stroke="#00ff00" stroke-width="1.2"/><path d="M245.5 455.9L249.3 462.7L241.7 462.7Z" fill="none" stroke="#00ff00" stroke-width="1.2"/><path d="M257.7 447.3L261.5 454.1L253.9 454.1Z" fill="none" stroke="#00ff00" stroke-width="1.2"/><path d="M268.5 438.2L272.3 445.0L264.7 445.0Z" fill="none" stroke="#00ff00" stroke-width="1.2"/><path d="M278.1 430.3L281.9 437.1L274.3 437.1Z" fill="none" stroke="#00ff00" stroke-width="1.2"/><path d="M67.7 586.1L71.5 579.3L63.9 579.3Z" fill="none" stroke="#0000ff" stroke-width="1.2"/><path d="M131.0 542.3L134.8 535.5L127.2 535.5Z" fill="none" stroke="#0000ff" stroke-width="1.2"/><path d="M168.1 511.8L171.9 505.0L164.3 505.0Z" fill="none" stroke="#0000ff" stroke-width="1.2"/><path d="M194.4 489.8L198.2 483.0L190.6 483.0Z" fill="none" stroke="#0000ff" stroke-width="1.2"/><path d="M214.8 472.9L218.6 466.1L211.0 466.1Z" fill="none" stroke="#0000ff" stroke-width="1.2"/><path d="M231.4 459.3L235.2 452.5L227.6 452.5Z" fill="none" stroke="#0000ff" stroke-width="1.2"/><path d="M245.5 447.5L249.3 440.7L241.7 440.7Z" fill="none" stroke="#0000ff" stroke-width="1.2"/><path d="M257.7 437.8L261.5 431.0L253.9 431.0Z" fill="none" stroke="#0000ff" stroke-width="1.2"/><path d="M67.7 560.2L71.6 564.1L67.7 568.0L63.8 564.1Z" fill="none" stroke="#00ffff" stroke-width="1.2"/><path d="M131.0 512.1L134.9 516.0L131.0 519.9L127.1 516.0Z" fill="none" stroke="#00ffff" stroke-width="1.2"/><path d="M168.1 481.0L172.0 484.9L168.1 488.8L164.2 484.9Z" fill="none" stroke="#00ffff" stroke-width="1.2"/><path d="M194.4 458.3L198.3 462.2L194.4 466.1L190.5 462.2Z" fill="none" stroke="#00ffff" stroke-width="1.2"/><path d="M214.8 443.2L218.7 447.1L214.8 451.0L210.9 447.1Z" fill="none" stroke="#00ffff" stroke-width="1.2"/></g>
<path d="M47.3 612.04h3M341.5 612.04h-3M47.3 606.53h3M341.5 606.53h-3M47.3 601.77h3M341.5 601.77h-3M47.3 597.56h3M341.5 597.56h-3M47.3 593.8h5M341.5 593.8h-5M47.3 569.06h3M341.5 569.06h-3M47.3 554.58h3M341.5 554.58h-3M47.3 544.31h3M341.5 544.31h-3M47.3 536.34h3M341.5 536.34h-3M47.3 529.84h3M341.5 529.84h-3M47.3 524.33h3M341.5 524.33h-3M47.3 519.57h3M341.5 519.57h-3M47.3 515.36h3M341.5 515.36h-3M47.3 511.6h5M341.5 511.6h-5M47.3 486.86h3M341.5 486.86h-3M47.3 472.38h3M341.5 472.38h-3M47.3 462.11h3M341.5 462.11h-3M47.3 454.14h3M341.5 454.14h-3M47.3 447.64h3M341.5 447.64h-3M47.3 442.13h3M341.5 442.13h-3M47.3 437.37h3M341.5 437.37h-3M47.3 433.16h3M341.5 433.16h-3M47.3 429.4h5M341.5 429.4h-5" fill="none" stroke="#000" stroke-width="1.1"/>
<path d="M47.31 612.3v-3M47.31 429.5v3M58.07 612.3v-3M58.07 429.5v3M67.7 612.3v-5M67.7 429.5v5M131.04 612.3v-3M131.04 429.5v3M168.09 612.3v-3M168.09 429.5v3M194.37 612.3v-3M194.37 429.5v3M214.76 612.3v-3M214.76 429.5v3M231.42 612.3v-3M231.42 429.5v3M245.51 612.3v-3M245.51 429.5v3M257.71 612.3v-3M257.71 429.5v3M268.47 612.3v-3M268.47 429.5v3M278.1 612.3v-5M278.1 429.5v5M341.44 612.3v-3M341.44 429.5v3" fill="none" stroke="#000" stroke-width="1.1"/>
<rect x="47.3" y="429.5" width="294.2" height="182.8" fill="none" stroke="#000" stroke-width="1.3"/>
<text x="40.2" y="598.27" font-size="12.5" text-anchor="end">100</text>
<text x="40.2" y="516.07" font-size="12.5" text-anchor="end">1k</text>
<text x="40.2" y="433.88" font-size="12.5" text-anchor="end">10k</text>
<text x="67.7" y="629.08" font-size="12.5" text-anchor="middle">1</text>
<text x="214.76" y="629.08" font-size="12.5" text-anchor="middle">5</text>
<text x="278.1" y="629.08" font-size="12.5" text-anchor="middle">10</text>
<text x="341.44" y="629.08" font-size="12.5" text-anchor="middle">20</text>
<text x="13.2" y="521.3" font-size="13" text-anchor="middle" transform="rotate(-90 13.2 521.3)">Natural frequency (Hz)</text>
<text x="0" y="426.3" font-size="20" font-weight="bold">e</text>
<clipPath id="cg"><rect x="47.5" y="635.1" width="294.3" height="183.3"/></clipPath>
<g clip-path="url(#cg)"><path d="M67.7 811.3 72.3 809.1 77.0 806.9 81.6 804.6 86.3 802.3 90.9 800.0 95.5 797.7 100.2 795.4 104.8 793.1 109.5 790.8 114.1 788.4 118.7 786.1 123.4 783.7 128.0 781.3 132.7 778.9 137.3 776.5 141.9 774.1 146.6 771.6 151.2 769.2 155.9 766.7 160.5 764.2 165.1 761.7 169.8 759.2 174.4 756.7 179.1 754.2 183.7 751.7 188.3 749.1 193.0 746.5 197.6 743.9 202.2 741.4 206.9 738.7 211.5 736.1 216.2 733.5 220.8 730.8 225.4 728.2 230.1 725.5 234.7 722.8 239.4 720.1 244.0 717.4 248.6 714.7 253.3 711.9 257.9 709.2 262.6 706.4 267.2 703.7 271.8 700.9 276.5 698.1 281.1 695.2 285.8 692.4 290.4 689.6 295.0 686.7 299.7 683.9 304.3 681.0 309.0 678.1 313.6 675.2 318.2 672.3 322.9 669.3 327.5 666.4 332.2 663.4 336.8 660.4 341.4 657.5" fill="none" stroke="#000000" stroke-width="1.7"/><path d="M67.7 811.0 72.3 808.6 77.0 806.2 81.6 803.7 86.3 801.3 90.9 798.8 95.5 796.3 100.2 793.8 104.8 791.3 109.5 788.8 114.1 786.2 118.7 783.6 123.4 781.0 128.0 778.4 132.7 775.7 137.3 773.1 141.9 770.4 146.6 767.7 151.2 764.9 155.9 762.2 160.5 759.4 165.1 756.6 169.8 753.8 174.4 751.0 179.1 748.2 183.7 745.3 188.3 742.4 193.0 739.5 197.6 736.6 202.2 733.6 206.9 730.7 211.5 727.7 216.2 724.7 220.8 721.7 225.4 718.6 230.1 715.6 234.7 712.5 239.4 709.4 244.0 706.2 248.6 703.1 253.3 699.9 257.9 696.8 262.6 693.6 267.2 690.3 271.8 687.1 276.5 683.8 281.1 680.5 285.8 677.2 290.4 673.9 295.0 670.6 299.7 667.2 304.3 663.8 309.0 660.4 313.6 657.0 318.2 653.6 322.9 650.1 327.5 646.6 332.2 643.1 336.8 639.6 341.4 636.1" fill="none" stroke="#ff0000" stroke-width="1.7"/><path d="M67.7 804.2 72.3 801.4 77.0 798.6 81.6 795.8 86.3 792.9 90.9 790.1 95.5 787.2 100.2 784.3 104.8 781.4 109.5 778.5 114.1 775.6 118.7 772.6 123.4 769.6 128.0 766.7 132.7 763.7 137.3 760.7 141.9 757.6 146.6 754.6 151.2 751.6 155.9 748.5 160.5 745.4 165.1 742.3 169.8 739.2 174.4 736.1 179.1 732.9 183.7 729.8 188.3 726.6 193.0 723.4 197.6 720.2 202.2 717.0 206.9 713.8 211.5 710.5 216.2 707.3 220.8 704.0 225.4 700.7 230.1 697.4 234.7 694.1 239.4 690.7 244.0 687.4 248.6 684.0 253.3 680.6 257.9 677.2 262.6 673.8 267.2 670.4 271.8 666.9 276.5 663.5 281.1 660.0 285.8 656.5 290.4 653.0 295.0 649.5 299.7 646.0 304.3 642.4 309.0 638.9 313.6 635.3 318.2 631.7 322.9 628.1 327.5 624.5" fill="none" stroke="#00ff00" stroke-width="1.7"/><path d="M67.7 796.3 72.3 793.2 77.0 790.2 81.6 787.2 86.3 784.1 90.9 781.1 95.5 778.0 100.2 774.9 104.8 771.8 109.5 768.7 114.1 765.6 118.7 762.5 123.4 759.3 128.0 756.2 132.7 753.0 137.3 749.8 141.9 746.6 146.6 743.4 151.2 740.2 155.9 737.0 160.5 733.8 165.1 730.5 169.8 727.3 174.4 724.0 179.1 720.7 183.7 717.4 188.3 714.1 193.0 710.8 197.6 707.5 202.2 704.1 206.9 700.8 211.5 697.4 216.2 694.0 220.8 690.6 225.4 687.2 230.1 683.8 234.7 680.4 239.4 676.9 244.0 673.5 248.6 670.0 253.3 666.6 257.9 663.1 262.6 659.6 267.2 656.1 271.8 652.5 276.5 649.0 281.1 645.5 285.8 641.9 290.4 638.3 295.0 634.8 299.7 631.2 304.3 627.6" fill="none" stroke="#0000ff" stroke-width="1.7"/><path d="M67.7 785.9 72.3 782.9 77.0 779.8 81.6 776.8 86.3 773.8 90.9 770.7 95.5 767.6 100.2 764.5 104.8 761.3 109.5 758.2 114.1 755.0 118.7 751.9 123.4 748.7 128.0 745.4 132.7 742.2 137.3 738.9 141.9 735.7 146.6 732.4 151.2 729.1 155.9 725.7 160.5 722.4 165.1 719.0 169.8 715.6 174.4 712.2 179.1 708.8 183.7 705.3 188.3 701.9 193.0 698.4 197.6 694.9 202.2 691.4 206.9 687.9 211.5 684.3 216.2 680.7 220.8 677.2 225.4 673.5 230.1 669.9 234.7 666.3 239.4 662.6 244.0 658.9 248.6 655.2 253.3 651.5 257.9 647.8 262.6 644.0 267.2 640.3 271.8 636.5 276.5 632.7 281.1 628.8 285.8 625.0" fill="none" stroke="#00ffff" stroke-width="1.7"/><path d="M67.7 778.1 72.3 775.0 77.0 772.0 81.6 768.9 86.3 765.8 90.9 762.7 95.5 759.5 100.2 756.4 104.8 753.2 109.5 750.0 114.1 746.7 118.7 743.5 123.4 740.2 128.0 736.9 132.7 733.5 137.3 730.2 141.9 726.8 146.6 723.4 151.2 720.0 155.9 716.5 160.5 713.1 165.1 709.6 169.8 706.0 174.4 702.5 179.1 698.9 183.7 695.4 188.3 691.8 193.0 688.1 197.6 684.5 202.2 680.8 206.9 677.1 211.5 673.4 216.2 669.6 220.8 665.9 225.4 662.1 230.1 658.2 234.7 654.4 239.4 650.5 244.0 646.7 248.6 642.8 253.3 638.8 257.9 634.9 262.6 630.9 267.2 626.9" fill="none" stroke="#ff00ff" stroke-width="1.7"/><path d="M67.7 770.1 72.3 766.8 77.0 763.5 81.6 760.1 86.3 756.8 90.9 753.4 95.5 750.0 100.2 746.6 104.8 743.3 109.5 739.8 114.1 736.4 118.7 733.0 123.4 729.5 128.0 726.1 132.7 722.6 137.3 719.1 141.9 715.7 146.6 712.2 151.2 708.6 155.9 705.1 160.5 701.6 165.1 698.0 169.8 694.5 174.4 690.9 179.1 687.3 183.7 683.7 188.3 680.1 193.0 676.5 197.6 672.9 202.2 669.2 206.9 665.6 211.5 661.9 216.2 658.3 220.8 654.6 225.4 650.9 230.1 647.2 234.7 643.4 239.4 639.7 244.0 636.0 248.6 632.2 253.3 628.4 257.9 624.7" fill="none" stroke="#ffff00" stroke-width="1.7"/><path d="M67.7 761.7 72.3 757.9 77.0 754.1 81.6 750.4 86.3 746.6 90.9 742.9 95.5 739.1 100.2 735.4 104.8 731.7 109.5 728.0 114.1 724.4 118.7 720.7 123.4 717.1 128.0 713.4 132.7 709.8 137.3 706.2 141.9 702.7 146.6 699.1 151.2 695.5 155.9 692.0 160.5 688.5 165.1 685.0 169.8 681.5 174.4 678.0 179.1 674.5 183.7 671.1 188.3 667.7 193.0 664.3 197.6 660.8 202.2 657.5 206.9 654.1 211.5 650.7 216.2 647.4 220.8 644.1 225.4 640.7 230.1 637.4 234.7 634.2 239.4 630.9 244.0 627.6 248.6 624.4" fill="none" stroke="#808000" stroke-width="1.7"/><rect x="65.2" y="806.7" width="5" height="5" fill="none" stroke="#000000" stroke-width="1.2"/><rect x="128.5" y="780.3" width="5" height="5" fill="none" stroke="#000000" stroke-width="1.2"/><rect x="165.6" y="763.9" width="5" height="5" fill="none" stroke="#000000" stroke-width="1.2"/><rect x="191.9" y="744.8" width="5" height="5" fill="none" stroke="#000000" stroke-width="1.2"/><rect x="212.3" y="736.5" width="5" height="5" fill="none" stroke="#000000" stroke-width="1.2"/><rect x="228.9" y="723.8" width="5" height="5" fill="none" stroke="#000000" stroke-width="1.2"/><rect x="243.0" y="712.5" width="5" height="5" fill="none" stroke="#000000" stroke-width="1.2"/><rect x="255.2" y="704.8" width="5" height="5" fill="none" stroke="#000000" stroke-width="1.2"/><rect x="266.0" y="698.1" width="5" height="5" fill="none" stroke="#000000" stroke-width="1.2"/><rect x="275.6" y="692.7" width="5" height="5" fill="none" stroke="#000000" stroke-width="1.2"/><rect x="284.3" y="688.9" width="5" height="5" fill="none" stroke="#000000" stroke-width="1.2"/><rect x="292.3" y="684.8" width="5" height="5" fill="none" stroke="#000000" stroke-width="1.2"/><rect x="299.6" y="674.1" width="5" height="5" fill="none" stroke="#000000" stroke-width="1.2"/><rect x="306.3" y="670.8" width="5" height="5" fill="none" stroke="#000000" stroke-width="1.2"/><rect x="312.6" y="667.5" width="5" height="5" fill="none" stroke="#000000" stroke-width="1.2"/><rect x="318.5" y="663.4" width="5" height="5" fill="none" stroke="#000000" stroke-width="1.2"/><rect x="324.1" y="659.8" width="5" height="5" fill="none" stroke="#000000" stroke-width="1.2"/><rect x="329.3" y="656.1" width="5" height="5" fill="none" stroke="#000000" stroke-width="1.2"/><rect x="334.2" y="655.3" width="5" height="5" fill="none" stroke="#000000" stroke-width="1.2"/><rect x="338.9" y="653.1" width="5" height="5" fill="none" stroke="#000000" stroke-width="1.2"/><circle cx="67.7" cy="808.7" r="2.7" fill="none" stroke="#ff0000" stroke-width="1.2"/><circle cx="131.0" cy="777.5" r="2.7" fill="none" stroke="#ff0000" stroke-width="1.2"/><circle cx="168.1" cy="756.6" r="2.7" fill="none" stroke="#ff0000" stroke-width="1.2"/><circle cx="194.4" cy="739.6" r="2.7" fill="none" stroke="#ff0000" stroke-width="1.2"/><circle cx="214.8" cy="728.3" r="2.7" fill="none" stroke="#ff0000" stroke-width="1.2"/><circle cx="231.4" cy="713.5" r="2.7" fill="none" stroke="#ff0000" stroke-width="1.2"/><circle cx="245.5" cy="705.6" r="2.7" fill="none" stroke="#ff0000" stroke-width="1.2"/><circle cx="257.7" cy="698.0" r="2.7" fill="none" stroke="#ff0000" stroke-width="1.2"/><circle cx="268.5" cy="689.5" r="2.7" fill="none" stroke="#ff0000" stroke-width="1.2"/><circle cx="278.1" cy="681.8" r="2.7" fill="none" stroke="#ff0000" stroke-width="1.2"/><circle cx="286.8" cy="676.1" r="2.7" fill="none" stroke="#ff0000" stroke-width="1.2"/><circle cx="294.8" cy="668.3" r="2.7" fill="none" stroke="#ff0000" stroke-width="1.2"/><circle cx="302.1" cy="662.3" r="2.7" fill="none" stroke="#ff0000" stroke-width="1.2"/><circle cx="308.8" cy="656.5" r="2.7" fill="none" stroke="#ff0000" stroke-width="1.2"/><circle cx="315.1" cy="654.1" r="2.7" fill="none" stroke="#ff0000" stroke-width="1.2"/><circle cx="321.0" cy="651.1" r="2.7" fill="none" stroke="#ff0000" stroke-width="1.2"/><circle cx="326.6" cy="647.0" r="2.7" fill="none" stroke="#ff0000" stroke-width="1.2"/><circle cx="331.8" cy="645.0" r="2.7" fill="none" stroke="#ff0000" stroke-width="1.2"/><circle cx="336.7" cy="642.2" r="2.7" fill="none" stroke="#ff0000" stroke-width="1.2"/><circle cx="341.4" cy="638.4" r="2.7" fill="none" stroke="#ff0000" stroke-width="1.2"/><path d="M67.7 796.0L71.5 802.8L63.9 802.8Z" fill="none" stroke="#00ff00" stroke-width="1.2"/><path d="M131.0 764.0L134.8 770.8L127.2 770.8Z" fill="none" stroke="#00ff00" stroke-width="1.2"/><path d="M168.1 739.3L171.9 746.1L164.3 746.1Z" fill="none" stroke="#00ff00" stroke-width="1.2"/><path d="M194.4 720.7L198.2 727.5L190.6 727.5Z" fill="none" stroke="#00ff00" stroke-width="1.2"/><path d="M214.8 706.4L218.6 713.2L211.0 713.2Z" fill="none" stroke="#00ff00" stroke-width="1.2"/><path d="M231.4 695.6L235.2 702.4L227.6 702.4Z" fill="none" stroke="#00ff00" stroke-width="1.2"/><path d="M245.5 685.0L249.3 691.8L241.7 691.8Z" fill="none" stroke="#00ff00" stroke-width="1.2"/><path d="M257.7 676.7L261.5 683.5L253.9 683.5Z" fill="none" stroke="#00ff00" stroke-width="1.2"/><path d="M268.5 669.7L272.3 676.5L264.7 676.5Z" fill="none" stroke="#00ff00" stroke-width="1.2"/><path d="M278.1 663.4L281.9 670.2L274.3 670.2Z" fill="none" stroke="#00ff00" stroke-width="1.2"/><path d="M286.8 656.0L290.6 662.8L283.0 662.8Z" fill="none" stroke="#00ff00" stroke-width="1.2"/><path d="M294.8 650.8L298.6 657.6L291.0 657.6Z" fill="none" stroke="#00ff00" stroke-width="1.2"/><path d="M302.1 645.5L305.9 652.3L298.3 652.3Z" fill="none" stroke="#00ff00" stroke-width="1.2"/><path d="M308.8 639.7L312.6 646.5L305.0 646.5Z" fill="none" stroke="#00ff00" stroke-width="1.2"/><path d="M315.1 635.5L318.9 642.3L311.3 642.3Z" fill="none" stroke="#00ff00" stroke-width="1.2"/><path d="M321.0 633.3L324.8 640.1L317.2 640.1Z" fill="none" stroke="#00ff00" stroke-width="1.2"/><path d="M67.7 798.9L71.5 792.1L63.9 792.1Z" fill="none" stroke="#0000ff" stroke-width="1.2"/><path d="M131.0 760.2L134.8 753.4L127.2 753.4Z" fill="none" stroke="#0000ff" stroke-width="1.2"/><path d="M168.1 735.0L171.9 728.2L164.3 728.2Z" fill="none" stroke="#0000ff" stroke-width="1.2"/><path d="M194.4 713.6L198.2 706.8L190.6 706.8Z" fill="none" stroke="#0000ff" stroke-width="1.2"/><path d="M214.8 698.1L218.6 691.3L211.0 691.3Z" fill="none" stroke="#0000ff" stroke-width="1.2"/><path d="M231.4 686.1L235.2 679.3L227.6 679.3Z" fill="none" stroke="#0000ff" stroke-width="1.2"/><path d="M245.5 675.5L249.3 668.7L241.7 668.7Z" fill="none" stroke="#0000ff" stroke-width="1.2"/><path d="M257.7 666.9L261.5 660.1L253.9 660.1Z" fill="none" stroke="#0000ff" stroke-width="1.2"/><path d="M268.5 659.2L272.3 652.4L264.7 652.4Z" fill="none" stroke="#0000ff" stroke-width="1.2"/><path d="M278.1 652.2L281.9 645.4L274.3 645.4Z" fill="none" stroke="#0000ff" stroke-width="1.2"/><path d="M286.8 645.7L290.6 638.9L283.0 638.9Z" fill="none" stroke="#0000ff" stroke-width="1.2"/><path d="M294.8 640.9L298.6 634.1L291.0 634.1Z" fill="none" stroke="#0000ff" stroke-width="1.2"/><path d="M67.7 781.4L71.6 785.3L67.7 789.2L63.8 785.3Z" fill="none" stroke="#00ffff" stroke-width="1.2"/><path d="M131.0 740.4L134.9 744.3L131.0 748.2L127.1 744.3Z" fill="none" stroke="#00ffff" stroke-width="1.2"/><path d="M168.1 714.0L172.0 717.9L168.1 721.8L164.2 717.9Z" fill="none" stroke="#00ffff" stroke-width="1.2"/><path d="M194.4 690.7L198.3 694.6L194.4 698.5L190.5 694.6Z" fill="none" stroke="#00ffff" stroke-width="1.2"/><path d="M214.8 677.1L218.7 681.0L214.8 684.9L210.9 681.0Z" fill="none" stroke="#00ffff" stroke-width="1.2"/><path d="M231.4 665.7L235.3 669.6L231.4 673.5L227.5 669.6Z" fill="none" stroke="#00ffff" stroke-width="1.2"/><path d="M245.5 654.5L249.4 658.4L245.5 662.3L241.6 658.4Z" fill="none" stroke="#00ffff" stroke-width="1.2"/><path d="M257.7 647.1L261.6 651.0L257.7 654.9L253.8 651.0Z" fill="none" stroke="#00ffff" stroke-width="1.2"/><path d="M268.5 640.1L272.4 644.0L268.5 647.9L264.6 644.0Z" fill="none" stroke="#00ffff" stroke-width="1.2"/><path d="M63.4 777.5L70.2 773.7L70.2 781.3Z" fill="none" stroke="#ff00ff" stroke-width="1.2"/><path d="M126.7 735.0L133.5 731.2L133.5 738.8Z" fill="none" stroke="#ff00ff" stroke-width="1.2"/><path d="M163.8 707.0L170.6 703.2L170.6 710.8Z" fill="none" stroke="#ff00ff" stroke-width="1.2"/><path d="M190.1 686.6L196.9 682.8L196.9 690.4Z" fill="none" stroke="#ff00ff" stroke-width="1.2"/><path d="M210.5 671.2L217.3 667.4L217.3 675.0Z" fill="none" stroke="#ff00ff" stroke-width="1.2"/><path d="M227.1 657.6L233.9 653.8L233.9 661.4Z" fill="none" stroke="#ff00ff" stroke-width="1.2"/><path d="M241.2 645.0L248.0 641.2L248.0 648.8Z" fill="none" stroke="#ff00ff" stroke-width="1.2"/><path d="M72.0 770.1L65.2 766.3L65.2 773.9Z" fill="none" stroke="#ffff00" stroke-width="1.2"/><path d="M135.3 724.0L128.5 720.2L128.5 727.8Z" fill="none" stroke="#ffff00" stroke-width="1.2"/><path d="M172.4 696.5L165.6 692.7L165.6 700.3Z" fill="none" stroke="#ffff00" stroke-width="1.2"/><path d="M198.7 674.4L191.9 670.6L191.9 678.2Z" fill="none" stroke="#ffff00" stroke-width="1.2"/><path d="M219.1 659.2L212.3 655.4L212.3 663.0Z" fill="none" stroke="#ffff00" stroke-width="1.2"/><path d="M235.7 646.5L228.9 642.7L228.9 650.3Z" fill="none" stroke="#ffff00" stroke-width="1.2"/><circle cx="67.7" cy="761.0" r="2.7" fill="none" stroke="#808000" stroke-width="1.2"/><circle cx="131.0" cy="735.0" r="2.7" fill="none" stroke="#808000" stroke-width="1.2"/><circle cx="168.1" cy="683.1" r="2.7" fill="none" stroke="#808000" stroke-width="1.2"/><circle cx="194.4" cy="663.6" r="2.7" fill="none" stroke="#808000" stroke-width="1.2"/><circle cx="214.8" cy="647.9" r="2.7" fill="none" stroke="#808000" stroke-width="1.2"/><circle cx="231.4" cy="636.6" r="2.7" fill="none" stroke="#808000" stroke-width="1.2"/></g>
<path d="M47.5 818.57h3M341.8 818.57h-3M47.5 809.47h3M341.8 809.47h-3M47.5 802.41h3M341.8 802.41h-3M47.5 796.65h3M341.8 796.65h-3M47.5 791.78h3M341.8 791.78h-3M47.5 787.56h3M341.8 787.56h-3M47.5 783.83h3M341.8 783.83h-3M47.5 780.5h5M341.8 780.5h-5M47.5 758.59h3M341.8 758.59h-3M47.5 745.77h3M341.8 745.77h-3M47.5 736.67h3M341.8 736.67h-3M47.5 729.61h3M341.8 729.61h-3M47.5 723.85h3M341.8 723.85h-3M47.5 718.98h3M341.8 718.98h-3M47.5 714.76h3M341.8 714.76h-3M47.5 711.03h3M341.8 711.03h-3M47.5 707.7h5M341.8 707.7h-5M47.5 685.79h3M341.8 685.79h-3M47.5 672.97h3M341.8 672.97h-3M47.5 663.87h3M341.8 663.87h-3M47.5 656.81h3M341.8 656.81h-3M47.5 651.05h3M341.8 651.05h-3M47.5 646.18h3M341.8 646.18h-3M47.5 641.96h3M341.8 641.96h-3M47.5 638.23h3M341.8 638.23h-3M47.5 634.9h5M341.8 634.9h-5" fill="none" stroke="#000" stroke-width="1.1"/>
<path d="M47.31 818.4v-3M47.31 635.1v3M58.07 818.4v-3M58.07 635.1v3M67.7 818.4v-5M67.7 635.1v5M131.04 818.4v-3M131.04 635.1v3M168.09 818.4v-3M168.09 635.1v3M194.37 818.4v-3M194.37 635.1v3M214.76 818.4v-3M214.76 635.1v3M231.42 818.4v-3M231.42 635.1v3M245.51 818.4v-3M245.51 635.1v3M257.71 818.4v-3M257.71 635.1v3M268.47 818.4v-3M268.47 635.1v3M278.1 818.4v-5M278.1 635.1v5M341.44 818.4v-3M341.44 635.1v3" fill="none" stroke="#000" stroke-width="1.1"/>
<rect x="47.5" y="635.1" width="294.3" height="183.3" fill="none" stroke="#000" stroke-width="1.3"/>
<text x="40.2" y="784.98" font-size="12.5" text-anchor="end">100</text>
<text x="40.2" y="712.18" font-size="12.5" text-anchor="end">1k</text>
<text x="40.2" y="639.38" font-size="12.5" text-anchor="end">10k</text>
<text x="67.7" y="834.48" font-size="12.5" text-anchor="middle">1</text>
<text x="214.76" y="834.48" font-size="12.5" text-anchor="middle">5</text>
<text x="278.1" y="834.48" font-size="12.5" text-anchor="middle">10</text>
<text x="341.44" y="834.48" font-size="12.5" text-anchor="middle">20</text>
<text x="13.5" y="726.8" font-size="13" text-anchor="middle" transform="rotate(-90 13.5 726.8)">Natural frequency (Hz)</text>
<text x="198.9" y="853" font-size="13" text-anchor="middle">Mode number</text>
<text x="0" y="630" font-size="20" font-weight="bold">g</text>
<clipPath id="cf"><rect x="389.7" y="429.0" width="293.8" height="182.9"/></clipPath>
<g clip-path="url(#cf)"><path d="M414.1 571.2 418.7 572.2 423.4 573.3 428.1 574.3 433.0 575.3 437.9 576.3 442.8 577.3 447.9 578.3 453.0 579.2 458.2 580.1 463.5 581.0 468.9 581.9 474.4 582.8 479.9 583.7 485.6 584.5 491.3 585.3 497.1 586.1 503.0 586.9 509.0 587.7 515.1 588.5 521.3 589.3 527.6 590.0 533.9 590.7 540.4 591.4 547.0 592.1 553.7 592.7 560.5 593.3 567.4 593.8 574.4 594.2 581.5 594.6 588.7 595.0 596.1 595.4 603.5 595.9 611.1 596.3 618.8 596.9 626.6 597.4 634.5 598.0 642.6 598.6 650.8 599.3 659.1 599.9" fill="none" stroke="#000000" stroke-width="1.7"/><path d="M414.1 517.6 418.7 519.0 423.4 520.3 428.1 521.7 433.0 523.0 437.9 524.4 442.8 525.7 447.9 527.1 453.0 528.4 458.2 529.7 463.5 531.0 468.9 532.3 474.4 533.6 479.9 534.9 485.6 536.2 491.3 537.5 497.1 538.8 503.0 540.1 509.0 541.4 515.1 542.7 521.3 544.0 527.6 545.3 533.9 546.6 540.4 547.8 547.0 549.0 553.7 550.1 560.5 551.2 567.4 552.2 574.4 553.1 581.5 554.0 588.7 554.8 596.1 555.7 603.5 556.7 611.1 557.8 618.8 559.0 626.6 560.3 634.5 561.8 642.6 563.3 650.8 564.9 659.1 566.5" fill="none" stroke="#ff0000" stroke-width="1.7"/><path d="M414.1 484.1 418.7 485.8 423.4 487.4 428.1 489.0 433.0 490.7 437.9 492.3 442.8 493.9 447.9 495.4 453.0 497.0 458.2 498.6 463.5 500.1 468.9 501.6 474.4 503.1 479.9 504.6 485.6 506.1 491.3 507.6 497.1 509.0 503.0 510.5 509.0 511.9 515.1 513.3 521.3 514.7 527.6 516.0 533.9 517.4 540.4 518.8 547.0 520.1 553.7 521.5 560.5 522.8 567.4 524.2 574.4 525.5 581.5 526.8 588.7 528.1 596.1 529.5 603.5 530.8 611.1 532.1 618.8 533.4 626.6 534.7 634.5 536.1 642.6 537.4 650.8 538.7 659.1 540.0" fill="none" stroke="#00ff00" stroke-width="1.7"/><path d="M414.1 461.8 418.7 463.3 423.4 464.9 428.1 466.5 433.0 468.0 437.9 469.6 442.8 471.1 447.9 472.7 453.0 474.2 458.2 475.8 463.5 477.3 468.9 478.9 474.4 480.4 479.9 482.0 485.6 483.5 491.3 485.1 497.1 486.6 503.0 488.2 509.0 489.8 515.1 491.3 521.3 492.9 527.6 494.5 533.9 496.0 540.4 497.5 547.0 499.0 553.7 500.5 560.5 502.0 567.4 503.4 574.4 504.7 581.5 506.0 588.7 507.4 596.1 508.7 603.5 510.0 611.1 511.4 618.8 512.9 626.6 514.3 634.5 515.8 642.6 517.3 650.8 518.9 659.1 520.4" fill="none" stroke="#0000ff" stroke-width="1.7"/><path d="M414.1 446.2 418.7 447.7 423.4 449.3 428.1 450.8 433.0 452.3 437.9 453.8 442.8 455.4 447.9 456.9 453.0 458.4 458.2 459.9 463.5 461.4 468.9 462.9 474.4 464.4 479.9 465.9 485.6 467.3 491.3 468.8 497.1 470.3 503.0 471.8 509.0 473.3 515.1 474.7 521.3 476.2 527.6 477.7 533.9 479.1 540.4 480.5 547.0 482.0 553.7 483.4 560.5 484.8 567.4 486.2 574.4 487.5 581.5 488.8 588.7 490.1 596.1 491.4 603.5 492.8 611.1 494.2 618.8 495.7 626.6 497.3 634.5 498.9 642.6 500.5 650.8 502.2 659.1 503.9" fill="none" stroke="#00ffff" stroke-width="1.7"/><path d="M414.1 430.7 418.7 432.4 423.4 434.2 428.1 435.9 433.0 437.6 437.9 439.3 442.8 441.0 447.9 442.7 453.0 444.3 458.2 445.9 463.5 447.5 468.9 449.1 474.4 450.7 479.9 452.3 485.6 453.8 491.3 455.3 497.1 456.8 503.0 458.2 509.0 459.6 515.1 460.9 521.3 462.3 527.6 463.6 533.9 465.0 540.4 466.4 547.0 467.8 553.7 469.3 560.5 470.8 567.4 472.3 574.4 474.0 581.5 475.6 588.7 477.3 596.1 479.0 603.5 480.7 611.1 482.3 618.8 483.9 626.6 485.5 634.5 487.0 642.6 488.5 650.8 490.0 659.1 491.5" fill="none" stroke="#ff00ff" stroke-width="1.7"/><path d="M423.3 422.7 427.8 424.4 432.4 426.0 437.0 427.7 441.7 429.3 446.5 430.9 451.4 432.5 456.3 434.1 461.3 435.7 466.4 437.2 471.5 438.7 476.7 440.3 482.0 441.7 487.4 443.2 492.9 444.7 498.4 446.1 504.0 447.5 509.7 448.9 515.5 450.3 521.4 451.6 527.4 453.0 533.4 454.3 539.6 455.6 545.8 456.9 552.1 458.2 558.5 459.5 565.0 460.8 571.7 462.0 578.4 463.1 585.2 464.3 592.1 465.4 599.1 466.7 606.2 468.0 613.4 469.5 620.8 471.2 628.2 472.9 635.8 474.8 643.4 476.8 651.2 478.9 659.1 481.1" fill="none" stroke="#ffff00" stroke-width="1.7"/><path d="M453.4 422.7 457.5 424.1 461.7 425.4 465.9 426.7 470.2 428.1 474.6 429.4 479.0 430.7 483.4 432.0 487.9 433.2 492.5 434.5 497.1 435.8 501.8 437.0 506.5 438.3 511.3 439.6 516.2 440.8 521.1 442.0 526.0 443.3 531.1 444.5 536.2 445.7 541.3 446.8 546.6 447.9 551.8 449.1 557.2 450.1 562.6 451.2 568.1 452.1 573.7 453.0 579.3 453.9 585.0 454.7 590.8 455.6 596.6 456.5 602.5 457.5 608.5 458.5 614.5 459.8 620.7 461.1 626.9 462.6 633.2 464.2 639.5 465.8 646.0 467.6 652.5 469.4 659.1 471.4" fill="none" stroke="#808000" stroke-width="1.7"/><path d="M486.6 422.7 490.3 423.9 494.0 425.0 497.7 426.2 501.4 427.3 505.2 428.4 509.0 429.6 512.9 430.6 516.8 431.7 520.7 432.8 524.7 433.8 528.8 434.9 532.8 435.9 536.9 436.9 541.1 437.9 545.2 438.9 549.5 439.9 553.7 440.9 558.0 441.8 562.4 442.7 566.8 443.6 571.2 444.5 575.7 445.3 580.2 446.2 584.8 447.0 589.4 447.8 594.1 448.6 598.8 449.4 603.6 450.3 608.4 451.3 613.2 452.3 618.1 453.3 623.1 454.4 628.1 455.5 633.1 456.6 638.2 457.8 643.3 459.0 648.5 460.2 653.8 461.5 659.1 462.8" fill="none" stroke="#000080" stroke-width="1.7"/><path d="M517.0 422.7 520.2 423.6 523.3 424.4 526.5 425.3 529.7 426.1 532.9 426.9 536.2 427.8 539.4 428.6 542.7 429.5 546.1 430.3 549.4 431.1 552.8 432.0 556.2 432.8 559.6 433.6 563.1 434.4 566.6 435.3 570.1 436.1 573.7 436.9 577.2 437.7 580.8 438.5 584.5 439.3 588.1 440.1 591.8 440.9 595.5 441.7 599.3 442.5 603.0 443.3 606.8 444.1 610.7 444.9 614.5 445.8 618.4 446.6 622.4 447.4 626.3 448.2 630.3 449.0 634.3 449.8 638.4 450.7 642.4 451.5 646.6 452.3 650.7 453.1 654.9 453.9 659.1 454.8" fill="none" stroke="#800080" stroke-width="1.7"/><path d="M543.5 422.7 546.1 423.4 548.7 424.1 551.4 424.7 554.1 425.4 556.8 426.1 559.5 426.7 562.2 427.4 565.0 428.1 567.7 428.7 570.5 429.4 573.3 430.1 576.1 430.7 579.0 431.4 581.8 432.1 584.7 432.7 587.6 433.4 590.5 434.0 593.4 434.7 596.3 435.3 599.3 436.0 602.3 436.6 605.2 437.3 608.3 437.9 611.3 438.6 614.3 439.2 617.4 439.9 620.5 440.5 623.6 441.2 626.7 441.8 629.9 442.4 633.1 443.1 636.2 443.7 639.4 444.3 642.7 445.0 645.9 445.6 649.2 446.2 652.5 446.9 655.8 447.5 659.1 448.1" fill="none" stroke="#800000" stroke-width="1.7"/><path d="M574.5 422.7 576.5 423.2 578.5 423.6 580.5 424.1 582.5 424.5 584.6 425.0 586.6 425.4 588.6 425.9 590.7 426.4 592.8 426.8 594.8 427.3 596.9 427.8 599.0 428.2 601.1 428.7 603.2 429.2 605.3 429.7 607.5 430.2 609.6 430.7 611.8 431.1 613.9 431.6 616.1 432.1 618.3 432.6 620.4 433.1 622.6 433.6 624.8 434.1 627.1 434.6 629.3 435.1 631.5 435.7 633.8 436.2 636.0 436.7 638.3 437.2 640.5 437.7 642.8 438.2 645.1 438.8 647.4 439.3 649.7 439.8 652.1 440.4 654.4 440.9 656.7 441.4 659.1 442.0" fill="none" stroke="#008000" stroke-width="1.7"/><path d="M596.6 422.7 659.1 435.9" fill="none" stroke="#008080" stroke-width="1.7"/><path d="M620.5 422.7 659.1 430.7" fill="none" stroke="#0000a0" stroke-width="1.7"/><circle cx="414.1" cy="564.2" r="2.7" fill="none" stroke="#000000" stroke-width="1.3"/><circle cx="487.6" cy="581.1" r="2.7" fill="none" stroke="#000000" stroke-width="1.3"/><circle cx="561.1" cy="592.6" r="2.7" fill="none" stroke="#000000" stroke-width="1.3"/><circle cx="610.1" cy="595.3" r="2.7" fill="none" stroke="#000000" stroke-width="1.3"/><circle cx="659.1" cy="596.7" r="2.7" fill="none" stroke="#000000" stroke-width="1.3"/><circle cx="414.1" cy="515.5" r="2.7" fill="none" stroke="#ff0000" stroke-width="1.3"/><circle cx="487.6" cy="537.3" r="2.7" fill="none" stroke="#ff0000" stroke-width="1.3"/><circle cx="561.1" cy="552.3" r="2.7" fill="none" stroke="#ff0000" stroke-width="1.3"/><circle cx="610.1" cy="558.0" r="2.7" fill="none" stroke="#ff0000" stroke-width="1.3"/><circle cx="659.1" cy="567.7" r="2.7" fill="none" stroke="#ff0000" stroke-width="1.3"/><circle cx="414.1" cy="484.1" r="2.7" fill="none" stroke="#00ff00" stroke-width="1.3"/><circle cx="487.6" cy="506.6" r="2.7" fill="none" stroke="#00ff00" stroke-width="1.3"/><circle cx="561.1" cy="523.7" r="2.7" fill="none" stroke="#00ff00" stroke-width="1.3"/><circle cx="610.1" cy="533.6" r="2.7" fill="none" stroke="#00ff00" stroke-width="1.3"/><circle cx="659.1" cy="545.0" r="2.7" fill="none" stroke="#00ff00" stroke-width="1.3"/><circle cx="414.1" cy="461.8" r="2.7" fill="none" stroke="#0000ff" stroke-width="1.3"/><circle cx="487.6" cy="484.1" r="2.7" fill="none" stroke="#0000ff" stroke-width="1.3"/><circle cx="561.1" cy="502.1" r="2.7" fill="none" stroke="#0000ff" stroke-width="1.3"/><circle cx="610.1" cy="511.2" r="2.7" fill="none" stroke="#0000ff" stroke-width="1.3"/><circle cx="659.1" cy="520.4" r="2.7" fill="none" stroke="#0000ff" stroke-width="1.3"/><circle cx="414.1" cy="446.2" r="2.7" fill="none" stroke="#00ffff" stroke-width="1.3"/><circle cx="487.6" cy="467.9" r="2.7" fill="none" stroke="#00ffff" stroke-width="1.3"/><circle cx="561.1" cy="484.9" r="2.7" fill="none" stroke="#00ffff" stroke-width="1.3"/><circle cx="610.1" cy="494.0" r="2.7" fill="none" stroke="#00ffff" stroke-width="1.3"/><circle cx="659.1" cy="503.9" r="2.7" fill="none" stroke="#00ffff" stroke-width="1.3"/><circle cx="414.1" cy="430.7" r="2.7" fill="none" stroke="#ff00ff" stroke-width="1.3"/><circle cx="487.6" cy="454.3" r="2.7" fill="none" stroke="#ff00ff" stroke-width="1.3"/><circle cx="561.1" cy="470.9" r="2.7" fill="none" stroke="#ff00ff" stroke-width="1.3"/><circle cx="610.1" cy="482.1" r="2.7" fill="none" stroke="#ff00ff" stroke-width="1.3"/><circle cx="659.1" cy="491.5" r="2.7" fill="none" stroke="#ff00ff" stroke-width="1.3"/><circle cx="487.6" cy="443.3" r="2.7" fill="none" stroke="#ffff00" stroke-width="1.3"/><circle cx="561.1" cy="460.0" r="2.7" fill="none" stroke="#ffff00" stroke-width="1.3"/><circle cx="610.1" cy="468.8" r="2.7" fill="none" stroke="#ffff00" stroke-width="1.3"/><circle cx="659.1" cy="481.1" r="2.7" fill="none" stroke="#ffff00" stroke-width="1.3"/><circle cx="487.6" cy="433.2" r="2.7" fill="none" stroke="#808000" stroke-width="1.3"/><circle cx="561.1" cy="450.9" r="2.7" fill="none" stroke="#808000" stroke-width="1.3"/><circle cx="610.1" cy="458.9" r="2.7" fill="none" stroke="#808000" stroke-width="1.3"/><circle cx="659.1" cy="471.4" r="2.7" fill="none" stroke="#808000" stroke-width="1.3"/><circle cx="561.1" cy="442.5" r="2.7" fill="none" stroke="#000080" stroke-width="1.3"/><circle cx="610.1" cy="451.6" r="2.7" fill="none" stroke="#000080" stroke-width="1.3"/><circle cx="659.1" cy="462.8" r="2.7" fill="none" stroke="#000080" stroke-width="1.3"/><circle cx="561.1" cy="434.0" r="2.7" fill="none" stroke="#800080" stroke-width="1.3"/><circle cx="610.1" cy="444.8" r="2.7" fill="none" stroke="#800080" stroke-width="1.3"/><circle cx="659.1" cy="454.8" r="2.7" fill="none" stroke="#800080" stroke-width="1.3"/><circle cx="610.1" cy="438.3" r="2.7" fill="none" stroke="#800000" stroke-width="1.3"/><circle cx="659.1" cy="448.1" r="2.7" fill="none" stroke="#800000" stroke-width="1.3"/><circle cx="610.1" cy="430.8" r="2.7" fill="none" stroke="#008000" stroke-width="1.3"/><circle cx="659.1" cy="442.0" r="2.7" fill="none" stroke="#008000" stroke-width="1.3"/><circle cx="659.1" cy="435.9" r="2.7" fill="none" stroke="#008080" stroke-width="1.3"/><circle cx="659.1" cy="430.7" r="2.7" fill="none" stroke="#0000a0" stroke-width="1.3"/></g>
<path d="M389.7 611.5h3M683.5 611.5h-3M389.7 606.01h3M683.5 606.01h-3M389.7 601.25h3M683.5 601.25h-3M389.7 597.05h3M683.5 597.05h-3M389.7 593.3h5M683.5 593.3h-5M389.7 568.6h3M683.5 568.6h-3M389.7 554.15h3M683.5 554.15h-3M389.7 543.9h3M683.5 543.9h-3M389.7 535.95h3M683.5 535.95h-3M389.7 529.45h3M683.5 529.45h-3M389.7 523.96h3M683.5 523.96h-3M389.7 519.2h3M683.5 519.2h-3M389.7 515h3M683.5 515h-3M389.7 511.25h5M683.5 511.25h-5M389.7 486.55h3M683.5 486.55h-3M389.7 472.1h3M683.5 472.1h-3M389.7 461.85h3M683.5 461.85h-3M389.7 453.9h3M683.5 453.9h-3M389.7 447.4h3M683.5 447.4h-3M389.7 441.91h3M683.5 441.91h-3M389.7 437.15h3M683.5 437.15h-3M389.7 432.95h3M683.5 432.95h-3M389.7 429.2h5M683.5 429.2h-5" fill="none" stroke="#000" stroke-width="1.1"/>
<path d="M389.6 611.9v-3M389.6 429v3M414.1 611.9v-5M414.1 429v5M438.6 611.9v-3M438.6 429v3M463.1 611.9v-5M463.1 429v5M487.6 611.9v-3M487.6 429v3M512.1 611.9v-5M512.1 429v5M536.6 611.9v-3M536.6 429v3M561.1 611.9v-5M561.1 429v5M585.6 611.9v-3M585.6 429v3M610.1 611.9v-5M610.1 429v5M634.6 611.9v-3M634.6 429v3M659.1 611.9v-5M659.1 429v5M683.6 611.9v-3M683.6 429v3" fill="none" stroke="#000" stroke-width="1.1"/>
<rect x="389.7" y="429" width="293.8" height="182.9" fill="none" stroke="#000" stroke-width="1.3"/>
<text x="383" y="597.77" font-size="12.5" text-anchor="end">100</text>
<text x="383" y="515.72" font-size="12.5" text-anchor="end">1k</text>
<text x="383" y="433.67" font-size="12.5" text-anchor="end">10k</text>
<text x="414.1" y="629.08" font-size="12.5" text-anchor="middle">12</text>
<text x="463.1" y="629.08" font-size="12.5" text-anchor="middle">14</text>
<text x="512.1" y="629.08" font-size="12.5" text-anchor="middle">16</text>
<text x="561.1" y="629.08" font-size="12.5" text-anchor="middle">18</text>
<text x="610.1" y="629.08" font-size="12.5" text-anchor="middle">20</text>
<text x="659.1" y="629.08" font-size="12.5" text-anchor="middle">22</text>
<text x="349" y="425.6" font-size="20" font-weight="bold">f</text>
<clipPath id="ch"><rect x="391.1" y="634.9" width="293.9" height="183.3"/></clipPath>
<g clip-path="url(#ch)"><path d="M414.7 762.7 438.4 770.8 462.0 778.2 485.7 784.7 523.6 794.4 570.9 802.2 627.8 808.4 675.1 810.8" fill="none" stroke="#000000" stroke-width="1.7" stroke-linejoin="round"/><path d="M414.7 710.8 438.4 721.8 462.0 731.5 485.7 739.0 523.6 751.4 570.9 765.5 627.8 775.9 675.1 781.9" fill="none" stroke="#ff0000" stroke-width="1.7" stroke-linejoin="round"/><path d="M414.7 684.3 438.4 694.9 462.0 705.3 485.7 714.7 523.6 727.1 570.9 741.7 627.8 755.4 675.1 765.5" fill="none" stroke="#00ff00" stroke-width="1.7" stroke-linejoin="round"/><path d="M414.7 661.7 438.4 674.1 462.0 685.8 485.7 694.9 523.6 707.7 570.9 723.8 627.8 737.4 675.1 746.7" fill="none" stroke="#0000ff" stroke-width="1.7" stroke-linejoin="round"/><path d="M414.7 646.3 438.4 658.9 462.0 670.1 485.7 679.4 523.6 692.9 570.9 709.7 627.8 726.0 675.1 737.4" fill="none" stroke="#00ffff" stroke-width="1.7" stroke-linejoin="round"/><path d="M414.7 634.2 438.4 645.5 462.0 657.0 485.7 667.3 523.6 679.4 570.9 698.2 627.8 712.1 675.1 726.0" fill="none" stroke="#ff00ff" stroke-width="1.7" stroke-linejoin="round"/><path d="M443.7 635.1 462.0 645.0 485.7 656.3 523.6 669.1 570.9 687.8 627.8 704.7 675.1 714.0" fill="none" stroke="#ffff00" stroke-width="1.7" stroke-linejoin="round"/><path d="M462.0 635.1 485.7 645.0 523.6 662.5 570.9 680.1 627.8 696.6 675.1 706.5" fill="none" stroke="#808000" stroke-width="1.7" stroke-linejoin="round"/><path d="M481.1 635.1 485.7 637.4 523.6 654.2 570.9 673.6 627.8 689.5 675.1 700.7" fill="none" stroke="#000080" stroke-width="1.7" stroke-linejoin="round"/><path d="M498.0 635.1 523.6 647.7 570.9 667.8 627.8 681.4 675.1 696.4" fill="none" stroke="#800080" stroke-width="1.7" stroke-linejoin="round"/><path d="M510.9 635.1 523.6 641.2 570.9 661.5 627.8 675.2 675.1 691.9" fill="none" stroke="#800000" stroke-width="1.7" stroke-linejoin="round"/><path d="M522.2 635.1 523.6 635.7 570.9 655.7 627.8 668.7 675.1 686.6" fill="none" stroke="#008000" stroke-width="1.7" stroke-linejoin="round"/><path d="M511.1 635.1 570.9 650.9 627.8 663.0 675.1 680.4" fill="none" stroke="#008080" stroke-width="1.7" stroke-linejoin="round"/><path d="M530.1 635.1 570.9 645.9 627.8 658.5 675.1 677.1" fill="none" stroke="#0000a0" stroke-width="1.7" stroke-linejoin="round"/><path d="M546.1 635.1 570.9 641.6 627.8 654.6 675.1 672.9" fill="none" stroke="#ff8000" stroke-width="1.7" stroke-linejoin="round"/><path d="M562.5 635.1 570.9 637.3 627.8 650.7 675.1 668.6" fill="none" stroke="#8000ff" stroke-width="1.7" stroke-linejoin="round"/><path d="M597.7 635.1 627.8 647.4 675.1 664.8" fill="none" stroke="#ff0080" stroke-width="1.7" stroke-linejoin="round"/><path d="M602.5 635.1 627.8 645.0 675.1 661.7" fill="none" stroke="#ffffff" stroke-width="1.7" stroke-linejoin="round"/><path d="M609.9 635.1 627.8 641.7 675.1 657.8" fill="none" stroke="#c0c0c0" stroke-width="1.7" stroke-linejoin="round"/><path d="M615.9 635.1 627.8 639.3 675.1 654.5" fill="none" stroke="#808080" stroke-width="1.7" stroke-linejoin="round"/><path d="M623.4 635.1 627.8 636.6 675.1 651.3" fill="none" stroke="#ffff80" stroke-width="1.7" stroke-linejoin="round"/><path d="M636.1 635.1 675.1 648.1" fill="none" stroke="#80ffff" stroke-width="1.7" stroke-linejoin="round"/><path d="M645.0 635.1 675.1 645.0" fill="none" stroke="#ff80ff" stroke-width="1.7" stroke-linejoin="round"/><path d="M651.1 635.1 675.1 642.9" fill="none" stroke="#404040" stroke-width="1.7" stroke-linejoin="round"/><path d="M656.6 635.1 675.1 641.1" fill="none" stroke="#000000" stroke-width="1.7" stroke-linejoin="round"/><path d="M664.7 635.1 675.1 638.4" fill="none" stroke="#ff0000" stroke-width="1.7" stroke-linejoin="round"/><path d="M670.0 635.1 675.1 636.7" fill="none" stroke="#00ff00" stroke-width="1.7" stroke-linejoin="round"/><circle cx="414.7" cy="760.9" r="2.7" fill="none" stroke="#000000" stroke-width="1.3"/><circle cx="438.4" cy="770.4" r="2.7" fill="none" stroke="#000000" stroke-width="1.3"/><circle cx="462.0" cy="777.3" r="2.7" fill="none" stroke="#000000" stroke-width="1.3"/><circle cx="485.7" cy="785.1" r="2.7" fill="none" stroke="#000000" stroke-width="1.3"/><circle cx="523.6" cy="793.6" r="2.7" fill="none" stroke="#000000" stroke-width="1.3"/><circle cx="570.9" cy="800.6" r="2.7" fill="none" stroke="#000000" stroke-width="1.3"/><circle cx="627.8" cy="808.6" r="2.7" fill="none" stroke="#000000" stroke-width="1.3"/><circle cx="675.1" cy="809.3" r="2.7" fill="none" stroke="#000000" stroke-width="1.3"/><circle cx="414.7" cy="734.8" r="2.7" fill="none" stroke="#ff0000" stroke-width="1.3"/><circle cx="438.4" cy="724.0" r="2.7" fill="none" stroke="#ff0000" stroke-width="1.3"/><circle cx="462.0" cy="734.8" r="2.7" fill="none" stroke="#ff0000" stroke-width="1.3"/><circle cx="485.7" cy="744.0" r="2.7" fill="none" stroke="#ff0000" stroke-width="1.3"/><circle cx="523.6" cy="755.6" r="2.7" fill="none" stroke="#ff0000" stroke-width="1.3"/><circle cx="570.9" cy="769.0" r="2.7" fill="none" stroke="#ff0000" stroke-width="1.3"/><circle cx="627.8" cy="777.6" r="2.7" fill="none" stroke="#ff0000" stroke-width="1.3"/><circle cx="675.1" cy="782.3" r="2.7" fill="none" stroke="#ff0000" stroke-width="1.3"/><circle cx="414.7" cy="683.4" r="2.7" fill="none" stroke="#00ff00" stroke-width="1.3"/><circle cx="438.4" cy="696.6" r="2.7" fill="none" stroke="#00ff00" stroke-width="1.3"/><circle cx="462.0" cy="706.5" r="2.7" fill="none" stroke="#00ff00" stroke-width="1.3"/><circle cx="485.7" cy="717.8" r="2.7" fill="none" stroke="#00ff00" stroke-width="1.3"/><circle cx="523.6" cy="730.6" r="2.7" fill="none" stroke="#00ff00" stroke-width="1.3"/><circle cx="570.9" cy="744.1" r="2.7" fill="none" stroke="#00ff00" stroke-width="1.3"/><circle cx="627.8" cy="756.9" r="2.7" fill="none" stroke="#00ff00" stroke-width="1.3"/><circle cx="675.1" cy="766.7" r="2.7" fill="none" stroke="#00ff00" stroke-width="1.3"/><circle cx="414.7" cy="663.2" r="2.7" fill="none" stroke="#0000ff" stroke-width="1.3"/><circle cx="438.4" cy="674.9" r="2.7" fill="none" stroke="#0000ff" stroke-width="1.3"/><circle cx="462.0" cy="686.6" r="2.7" fill="none" stroke="#0000ff" stroke-width="1.3"/><circle cx="485.7" cy="694.8" r="2.7" fill="none" stroke="#0000ff" stroke-width="1.3"/><circle cx="523.6" cy="708.8" r="2.7" fill="none" stroke="#0000ff" stroke-width="1.3"/><circle cx="570.9" cy="725.8" r="2.7" fill="none" stroke="#0000ff" stroke-width="1.3"/><circle cx="627.8" cy="738.8" r="2.7" fill="none" stroke="#0000ff" stroke-width="1.3"/><circle cx="675.1" cy="747.2" r="2.7" fill="none" stroke="#0000ff" stroke-width="1.3"/><circle cx="414.7" cy="648.3" r="2.7" fill="none" stroke="#00ffff" stroke-width="1.3"/><circle cx="438.4" cy="659.4" r="2.7" fill="none" stroke="#00ffff" stroke-width="1.3"/><circle cx="462.0" cy="672.1" r="2.7" fill="none" stroke="#00ffff" stroke-width="1.3"/><circle cx="485.7" cy="680.9" r="2.7" fill="none" stroke="#00ffff" stroke-width="1.3"/><circle cx="523.6" cy="693.5" r="2.7" fill="none" stroke="#00ffff" stroke-width="1.3"/><circle cx="570.9" cy="711.0" r="2.7" fill="none" stroke="#00ffff" stroke-width="1.3"/><circle cx="627.8" cy="727.8" r="2.7" fill="none" stroke="#00ffff" stroke-width="1.3"/><circle cx="675.1" cy="738.0" r="2.7" fill="none" stroke="#00ffff" stroke-width="1.3"/><circle cx="414.7" cy="636.6" r="2.7" fill="none" stroke="#ff00ff" stroke-width="1.3"/><circle cx="438.4" cy="646.5" r="2.7" fill="none" stroke="#ff00ff" stroke-width="1.3"/><circle cx="462.0" cy="658.2" r="2.7" fill="none" stroke="#ff00ff" stroke-width="1.3"/><circle cx="485.7" cy="669.1" r="2.7" fill="none" stroke="#ff00ff" stroke-width="1.3"/><circle cx="523.6" cy="681.0" r="2.7" fill="none" stroke="#ff00ff" stroke-width="1.3"/><circle cx="570.9" cy="700.2" r="2.7" fill="none" stroke="#ff00ff" stroke-width="1.3"/><circle cx="627.8" cy="713.1" r="2.7" fill="none" stroke="#ff00ff" stroke-width="1.3"/><circle cx="675.1" cy="726.5" r="2.7" fill="none" stroke="#ff00ff" stroke-width="1.3"/><circle cx="462.0" cy="645.3" r="2.7" fill="none" stroke="#ffff00" stroke-width="1.3"/><circle cx="485.7" cy="657.7" r="2.7" fill="none" stroke="#ffff00" stroke-width="1.3"/><circle cx="523.6" cy="670.5" r="2.7" fill="none" stroke="#ffff00" stroke-width="1.3"/><circle cx="570.9" cy="689.7" r="2.7" fill="none" stroke="#ffff00" stroke-width="1.3"/><circle cx="627.8" cy="705.3" r="2.7" fill="none" stroke="#ffff00" stroke-width="1.3"/><circle cx="675.1" cy="714.3" r="2.7" fill="none" stroke="#ffff00" stroke-width="1.3"/><circle cx="485.7" cy="650.2" r="2.7" fill="none" stroke="#808000" stroke-width="1.3"/><circle cx="523.6" cy="662.3" r="2.7" fill="none" stroke="#808000" stroke-width="1.3"/><circle cx="570.9" cy="681.3" r="2.7" fill="none" stroke="#808000" stroke-width="1.3"/><circle cx="627.8" cy="697.1" r="2.7" fill="none" stroke="#808000" stroke-width="1.3"/><circle cx="675.1" cy="706.6" r="2.7" fill="none" stroke="#808000" stroke-width="1.3"/><circle cx="485.7" cy="645.0" r="2.7" fill="none" stroke="#000080" stroke-width="1.3"/><circle cx="523.6" cy="654.3" r="2.7" fill="none" stroke="#000080" stroke-width="1.3"/><circle cx="570.9" cy="674.2" r="2.7" fill="none" stroke="#000080" stroke-width="1.3"/><circle cx="627.8" cy="689.7" r="2.7" fill="none" stroke="#000080" stroke-width="1.3"/><circle cx="675.1" cy="700.8" r="2.7" fill="none" stroke="#000080" stroke-width="1.3"/><circle cx="523.6" cy="647.7" r="2.7" fill="none" stroke="#800080" stroke-width="1.3"/><circle cx="570.9" cy="667.8" r="2.7" fill="none" stroke="#800080" stroke-width="1.3"/><circle cx="627.8" cy="681.4" r="2.7" fill="none" stroke="#800080" stroke-width="1.3"/><circle cx="675.1" cy="696.4" r="2.7" fill="none" stroke="#800080" stroke-width="1.3"/><circle cx="523.6" cy="641.2" r="2.7" fill="none" stroke="#800000" stroke-width="1.3"/><circle cx="570.9" cy="661.5" r="2.7" fill="none" stroke="#800000" stroke-width="1.3"/><circle cx="627.8" cy="675.2" r="2.7" fill="none" stroke="#800000" stroke-width="1.3"/><circle cx="675.1" cy="691.9" r="2.7" fill="none" stroke="#800000" stroke-width="1.3"/><circle cx="523.6" cy="635.7" r="2.7" fill="none" stroke="#008000" stroke-width="1.3"/><circle cx="570.9" cy="655.7" r="2.7" fill="none" stroke="#008000" stroke-width="1.3"/><circle cx="627.8" cy="668.7" r="2.7" fill="none" stroke="#008000" stroke-width="1.3"/><circle cx="675.1" cy="686.6" r="2.7" fill="none" stroke="#008000" stroke-width="1.3"/><circle cx="570.9" cy="650.9" r="2.7" fill="none" stroke="#008080" stroke-width="1.3"/><circle cx="627.8" cy="663.0" r="2.7" fill="none" stroke="#008080" stroke-width="1.3"/><circle cx="675.1" cy="680.4" r="2.7" fill="none" stroke="#008080" stroke-width="1.3"/><circle cx="570.9" cy="645.9" r="2.7" fill="none" stroke="#0000a0" stroke-width="1.3"/><circle cx="627.8" cy="658.5" r="2.7" fill="none" stroke="#0000a0" stroke-width="1.3"/><circle cx="675.1" cy="677.1" r="2.7" fill="none" stroke="#0000a0" stroke-width="1.3"/><circle cx="570.9" cy="641.6" r="2.7" fill="none" stroke="#ff8000" stroke-width="1.3"/><circle cx="627.8" cy="654.6" r="2.7" fill="none" stroke="#ff8000" stroke-width="1.3"/><circle cx="675.1" cy="672.9" r="2.7" fill="none" stroke="#ff8000" stroke-width="1.3"/><circle cx="570.9" cy="637.3" r="2.7" fill="none" stroke="#8000ff" stroke-width="1.3"/><circle cx="627.8" cy="650.7" r="2.7" fill="none" stroke="#8000ff" stroke-width="1.3"/><circle cx="675.1" cy="668.6" r="2.7" fill="none" stroke="#8000ff" stroke-width="1.3"/><circle cx="627.8" cy="647.4" r="2.7" fill="none" stroke="#ff0080" stroke-width="1.3"/><circle cx="675.1" cy="664.8" r="2.7" fill="none" stroke="#ff0080" stroke-width="1.3"/><circle cx="627.8" cy="645.0" r="2.7" fill="none" stroke="#ffffff" stroke-width="1.3"/><circle cx="675.1" cy="661.7" r="2.7" fill="none" stroke="#ffffff" stroke-width="1.3"/><circle cx="627.8" cy="641.7" r="2.7" fill="none" stroke="#c0c0c0" stroke-width="1.3"/><circle cx="675.1" cy="657.8" r="2.7" fill="none" stroke="#c0c0c0" stroke-width="1.3"/><circle cx="627.8" cy="639.3" r="2.7" fill="none" stroke="#808080" stroke-width="1.3"/><circle cx="675.1" cy="654.5" r="2.7" fill="none" stroke="#808080" stroke-width="1.3"/><circle cx="627.8" cy="636.6" r="2.7" fill="none" stroke="#ffff80" stroke-width="1.3"/><circle cx="675.1" cy="651.3" r="2.7" fill="none" stroke="#ffff80" stroke-width="1.3"/><circle cx="675.1" cy="648.1" r="2.7" fill="none" stroke="#80ffff" stroke-width="1.3"/><circle cx="675.1" cy="645.0" r="2.7" fill="none" stroke="#ff80ff" stroke-width="1.3"/><circle cx="675.1" cy="642.9" r="2.7" fill="none" stroke="#404040" stroke-width="1.3"/><circle cx="675.1" cy="641.1" r="2.7" fill="none" stroke="#000000" stroke-width="1.3"/><circle cx="675.1" cy="638.4" r="2.7" fill="none" stroke="#ff0000" stroke-width="1.3"/><circle cx="675.1" cy="636.7" r="2.7" fill="none" stroke="#00ff00" stroke-width="1.3"/></g>
<path d="M391.1 818.26h3M685 818.26h-3M391.1 809.19h3M685 809.19h-3M391.1 802.15h3M685 802.15h-3M391.1 796.41h3M685 796.41h-3M391.1 791.55h3M685 791.55h-3M391.1 787.34h3M685 787.34h-3M391.1 783.62h3M685 783.62h-3M391.1 780.3h5M685 780.3h-5M391.1 758.45h3M685 758.45h-3M391.1 745.66h3M685 745.66h-3M391.1 736.59h3M685 736.59h-3M391.1 729.55h3M685 729.55h-3M391.1 723.81h3M685 723.81h-3M391.1 718.95h3M685 718.95h-3M391.1 714.74h3M685 714.74h-3M391.1 711.02h3M685 711.02h-3M391.1 707.7h5M685 707.7h-5M391.1 685.85h3M685 685.85h-3M391.1 673.06h3M685 673.06h-3M391.1 663.99h3M685 663.99h-3M391.1 656.95h3M685 656.95h-3M391.1 651.21h3M685 651.21h-3M391.1 646.35h3M685 646.35h-3M391.1 642.14h3M685 642.14h-3M391.1 638.42h3M685 638.42h-3M391.1 635.1h5M685 635.1h-5" fill="none" stroke="#000" stroke-width="1.1"/>
<path d="M391 818.2v-5M391 634.9v5M414.68 818.2v-3M414.68 634.9v3M438.35 818.2v-5M438.35 634.9v5M462.02 818.2v-3M462.02 634.9v3M485.7 818.2v-5M485.7 634.9v5M509.38 818.2v-3M509.38 634.9v3M533.05 818.2v-5M533.05 634.9v5M556.73 818.2v-3M556.73 634.9v3M580.4 818.2v-5M580.4 634.9v5M604.08 818.2v-3M604.08 634.9v3M627.75 818.2v-5M627.75 634.9v5M651.42 818.2v-3M651.42 634.9v3M675.1 818.2v-5M675.1 634.9v5" fill="none" stroke="#000" stroke-width="1.1"/>
<rect x="391.1" y="634.9" width="293.9" height="183.3" fill="none" stroke="#000" stroke-width="1.3"/>
<text x="383" y="784.77" font-size="12.5" text-anchor="end">100</text>
<text x="383" y="712.17" font-size="12.5" text-anchor="end">1k</text>
<text x="383" y="639.57" font-size="12.5" text-anchor="end">10k</text>
<text x="391" y="834.48" font-size="12.5" text-anchor="middle">10</text>
<text x="438.35" y="834.48" font-size="12.5" text-anchor="middle">15</text>
<text x="485.7" y="834.48" font-size="12.5" text-anchor="middle">20</text>
<text x="533.05" y="834.48" font-size="12.5" text-anchor="middle">25</text>
<text x="580.4" y="834.48" font-size="12.5" text-anchor="middle">30</text>
<text x="627.75" y="834.48" font-size="12.5" text-anchor="middle">35</text>
<text x="675.1" y="834.48" font-size="12.5" text-anchor="middle">40</text>
<text x="537.6" y="853" font-size="13" text-anchor="middle">Whisker arc length (mm)</text>
<text x="353" y="630" font-size="20" font-weight="bold">h</text>
</svg></body></html>
